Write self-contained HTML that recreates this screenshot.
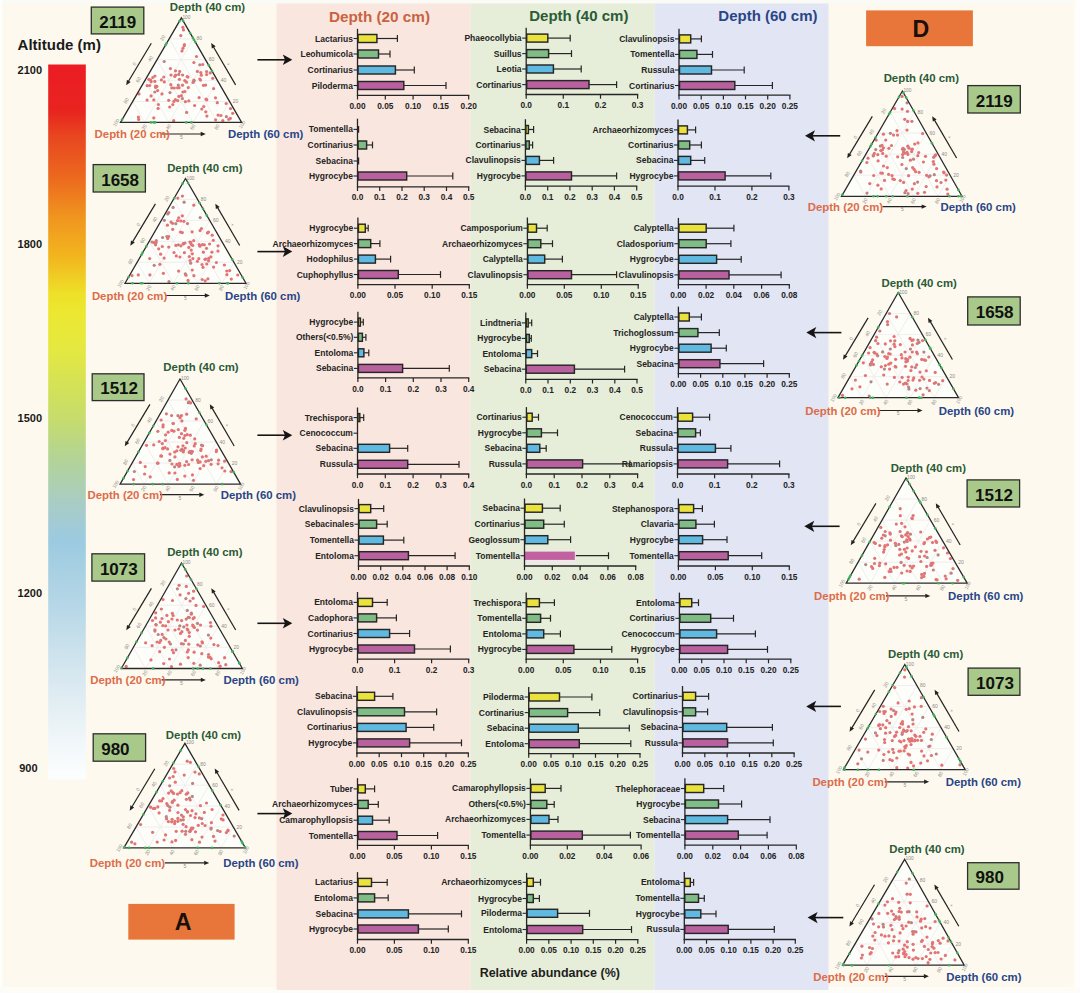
<!DOCTYPE html>
<html><head><meta charset="utf-8"><title>Figure</title>
<style>html,body{margin:0;padding:0;background:#fdf9ee;}svg{display:block;}</style>
</head><body>
<svg width="1080" height="993" viewBox="0 0 1080 993" font-family="'Liberation Sans', Arial, sans-serif" font-weight="bold">
<rect x="0" y="0" width="1080" height="993" fill="#fdf9ee"/>
<rect x="0" y="0" width="1080" height="3.5" fill="#fafaf7"/>
<defs><linearGradient id="re" x1="0" y1="0" x2="1" y2="0"><stop offset="0" stop-color="#fdf9ee" stop-opacity="0"/><stop offset="0.6" stop-color="#fefefa"/><stop offset="1" stop-color="#fefefd"/></linearGradient></defs>
<rect x="1070" y="0" width="10" height="993" fill="url(#re)"/>
<rect x="0" y="0" width="2.5" height="993" fill="#fefefa"/>
<rect x="0" y="987" width="1080" height="6" fill="#fefcf6"/>
<rect x="276.5" y="3.5" width="194" height="986.5" fill="#f9e7df"/>
<rect x="470.5" y="3.5" width="184" height="986.5" fill="#e6edd8"/>
<rect x="654.5" y="3.5" width="174" height="986.5" fill="#e2e5f3"/>
<defs><linearGradient id="cb" x1="0" y1="0" x2="0" y2="1"><stop offset="0" stop-color="#ec1c24"/><stop offset="0.065" stop-color="#e8241f"/><stop offset="0.1" stop-color="#e84620"/><stop offset="0.16" stop-color="#ec6a1e"/><stop offset="0.215" stop-color="#f0961f"/><stop offset="0.27" stop-color="#f2b61e"/><stop offset="0.32" stop-color="#eee028"/><stop offset="0.35" stop-color="#ece832"/><stop offset="0.398" stop-color="#e4e840"/><stop offset="0.496" stop-color="#c6dc6c"/><stop offset="0.548" stop-color="#b4d494"/><stop offset="0.618" stop-color="#a8ccc8"/><stop offset="0.665" stop-color="#9ccae0"/><stop offset="0.75" stop-color="#b4d6e6"/><stop offset="0.858" stop-color="#d8e8f0"/><stop offset="0.937" stop-color="#eef5f8"/><stop offset="0.99" stop-color="#fbfdfe"/><stop offset="1" stop-color="#fdfdfd"/></linearGradient></defs>
<rect x="48.2" y="64.5" width="37.6" height="715" fill="url(#cb)"/>
<g font-family="'Liberation Sans', Arial, sans-serif" font-weight="bold">
<text x="17.6" y="50.1" font-size="15" fill="#1a1a1a">Altitude (m)</text>
<text x="17.6" y="74.0" font-size="11" fill="#1a1a1a">2100</text>
<text x="17.6" y="247.5" font-size="11" fill="#1a1a1a">1800</text>
<text x="17.6" y="422.3" font-size="11" fill="#1a1a1a">1500</text>
<text x="17.6" y="597.2" font-size="11" fill="#1a1a1a">1200</text>
<text x="19.2" y="772.0" font-size="11" fill="#1a1a1a">900</text>
<text x="379.5" y="21.5" text-anchor="middle" font-size="15.3" fill="#c9623f">Depth (20 cm)</text>
<text x="578.8" y="21.2" text-anchor="middle" font-size="15" fill="#2b5b37">Depth (40 cm)</text>
<text x="767.9" y="21.2" text-anchor="middle" font-size="15" fill="#2a4587">Depth (60 cm)</text>
<line x1="376.9" y1="38.5" x2="397.4" y2="38.5" stroke="#262626" stroke-width="1.2"/>
<line x1="397.4" y1="35.1" x2="397.4" y2="41.9" stroke="#262626" stroke-width="1.2"/>
<rect x="358.0" y="34.5" width="18.9" height="8.0" fill="#ebe33d" stroke="#262626" stroke-width="1.45"/>
<line x1="353.5" y1="38.5" x2="357.5" y2="38.5" stroke="#262626" stroke-width="1.1"/>
<text x="352.9" y="41.5" text-anchor="end" font-size="8.5" fill="#242424">Lactarius</text>
<line x1="378.5" y1="54.0" x2="390.0" y2="54.0" stroke="#262626" stroke-width="1.2"/>
<line x1="390.0" y1="50.6" x2="390.0" y2="57.4" stroke="#262626" stroke-width="1.2"/>
<rect x="358.0" y="50.0" width="20.5" height="8.0" fill="#80bd86" stroke="#262626" stroke-width="1.45"/>
<line x1="353.5" y1="54.0" x2="357.5" y2="54.0" stroke="#262626" stroke-width="1.1"/>
<text x="352.9" y="57.0" text-anchor="end" font-size="8.5" fill="#242424">Leohumicola</text>
<line x1="395.4" y1="70.0" x2="414.3" y2="70.0" stroke="#262626" stroke-width="1.2"/>
<line x1="414.3" y1="66.6" x2="414.3" y2="73.4" stroke="#262626" stroke-width="1.2"/>
<rect x="358.0" y="66.0" width="37.4" height="8.0" fill="#5fb9e0" stroke="#262626" stroke-width="1.45"/>
<line x1="353.5" y1="70.0" x2="357.5" y2="70.0" stroke="#262626" stroke-width="1.1"/>
<text x="352.9" y="73.0" text-anchor="end" font-size="8.5" fill="#242424">Cortinarius</text>
<line x1="403.8" y1="85.5" x2="446.0" y2="85.5" stroke="#262626" stroke-width="1.2"/>
<line x1="446.0" y1="82.1" x2="446.0" y2="88.9" stroke="#262626" stroke-width="1.2"/>
<rect x="358.0" y="81.5" width="45.8" height="8.0" fill="#b9609f" stroke="#262626" stroke-width="1.45"/>
<line x1="353.5" y1="85.5" x2="357.5" y2="85.5" stroke="#262626" stroke-width="1.1"/>
<text x="352.9" y="88.5" text-anchor="end" font-size="8.5" fill="#242424">Piloderma</text>
<line x1="357.5" y1="28.8" x2="357.5" y2="95.9" stroke="#262626" stroke-width="1.3"/>
<line x1="356.9" y1="95.3" x2="469.3" y2="95.3" stroke="#262626" stroke-width="1.3"/>
<line x1="357.5" y1="95.3" x2="357.5" y2="99.5" stroke="#262626" stroke-width="1.2"/>
<text x="357.5" y="108.9" text-anchor="middle" font-size="8.3" fill="#242424">0.00</text>
<line x1="385.3" y1="95.3" x2="385.3" y2="99.5" stroke="#262626" stroke-width="1.2"/>
<text x="385.3" y="108.9" text-anchor="middle" font-size="8.3" fill="#242424">0.05</text>
<line x1="413.1" y1="95.3" x2="413.1" y2="99.5" stroke="#262626" stroke-width="1.2"/>
<text x="413.1" y="108.9" text-anchor="middle" font-size="8.3" fill="#242424">0.10</text>
<line x1="440.9" y1="95.3" x2="440.9" y2="99.5" stroke="#262626" stroke-width="1.2"/>
<text x="440.9" y="108.9" text-anchor="middle" font-size="8.3" fill="#242424">0.15</text>
<line x1="468.7" y1="95.3" x2="468.7" y2="99.5" stroke="#262626" stroke-width="1.2"/>
<text x="468.7" y="108.9" text-anchor="middle" font-size="8.3" fill="#242424">0.20</text>
<line x1="358.0" y1="129.4" x2="358.6" y2="129.4" stroke="#262626" stroke-width="1.2"/>
<line x1="358.6" y1="126.0" x2="358.6" y2="132.8" stroke="#262626" stroke-width="1.2"/>
<line x1="353.5" y1="129.4" x2="357.5" y2="129.4" stroke="#262626" stroke-width="1.1"/>
<text x="352.9" y="132.4" text-anchor="end" font-size="8.5" fill="#242424">Tomentella</text>
<line x1="366.6" y1="145.0" x2="372.5" y2="145.0" stroke="#262626" stroke-width="1.2"/>
<line x1="372.5" y1="141.6" x2="372.5" y2="148.4" stroke="#262626" stroke-width="1.2"/>
<rect x="358.0" y="141.0" width="8.6" height="8.0" fill="#80bd86" stroke="#262626" stroke-width="1.45"/>
<line x1="353.5" y1="145.0" x2="357.5" y2="145.0" stroke="#262626" stroke-width="1.1"/>
<text x="352.9" y="148.0" text-anchor="end" font-size="8.5" fill="#242424">Cortinarius</text>
<line x1="358.0" y1="161.0" x2="358.6" y2="161.0" stroke="#262626" stroke-width="1.2"/>
<line x1="358.6" y1="157.6" x2="358.6" y2="164.4" stroke="#262626" stroke-width="1.2"/>
<line x1="353.5" y1="161.0" x2="357.5" y2="161.0" stroke="#262626" stroke-width="1.1"/>
<text x="352.9" y="164.0" text-anchor="end" font-size="8.5" fill="#242424">Sebacina</text>
<line x1="406.7" y1="176.0" x2="452.8" y2="176.0" stroke="#262626" stroke-width="1.2"/>
<line x1="452.8" y1="172.6" x2="452.8" y2="179.4" stroke="#262626" stroke-width="1.2"/>
<rect x="358.0" y="172.0" width="48.7" height="8.0" fill="#b9609f" stroke="#262626" stroke-width="1.45"/>
<line x1="353.5" y1="176.0" x2="357.5" y2="176.0" stroke="#262626" stroke-width="1.1"/>
<text x="352.9" y="179.0" text-anchor="end" font-size="8.5" fill="#242424">Hygrocybe</text>
<line x1="357.5" y1="118.7" x2="357.5" y2="187.4" stroke="#262626" stroke-width="1.3"/>
<line x1="356.9" y1="186.8" x2="469.3" y2="186.8" stroke="#262626" stroke-width="1.3"/>
<line x1="357.5" y1="186.8" x2="357.5" y2="191.0" stroke="#262626" stroke-width="1.2"/>
<text x="357.5" y="200.4" text-anchor="middle" font-size="8.3" fill="#242424">0.0</text>
<line x1="379.7" y1="186.8" x2="379.7" y2="191.0" stroke="#262626" stroke-width="1.2"/>
<text x="379.7" y="200.4" text-anchor="middle" font-size="8.3" fill="#242424">0.1</text>
<line x1="402.0" y1="186.8" x2="402.0" y2="191.0" stroke="#262626" stroke-width="1.2"/>
<text x="402.0" y="200.4" text-anchor="middle" font-size="8.3" fill="#242424">0.2</text>
<line x1="424.2" y1="186.8" x2="424.2" y2="191.0" stroke="#262626" stroke-width="1.2"/>
<text x="424.2" y="200.4" text-anchor="middle" font-size="8.3" fill="#242424">0.3</text>
<line x1="446.5" y1="186.8" x2="446.5" y2="191.0" stroke="#262626" stroke-width="1.2"/>
<text x="446.5" y="200.4" text-anchor="middle" font-size="8.3" fill="#242424">0.4</text>
<line x1="468.7" y1="186.8" x2="468.7" y2="191.0" stroke="#262626" stroke-width="1.2"/>
<text x="468.7" y="200.4" text-anchor="middle" font-size="8.3" fill="#242424">0.5</text>
<line x1="365.3" y1="228.2" x2="368.2" y2="228.2" stroke="#262626" stroke-width="1.2"/>
<line x1="368.2" y1="224.8" x2="368.2" y2="231.6" stroke="#262626" stroke-width="1.2"/>
<rect x="358.4" y="224.2" width="6.9" height="8.0" fill="#ebe33d" stroke="#262626" stroke-width="1.45"/>
<line x1="353.9" y1="228.2" x2="357.9" y2="228.2" stroke="#262626" stroke-width="1.1"/>
<text x="353.3" y="231.2" text-anchor="end" font-size="8.5" fill="#242424">Hygrocybe</text>
<line x1="370.7" y1="243.6" x2="379.9" y2="243.6" stroke="#262626" stroke-width="1.2"/>
<line x1="379.9" y1="240.2" x2="379.9" y2="247.0" stroke="#262626" stroke-width="1.2"/>
<rect x="358.4" y="239.6" width="12.3" height="8.0" fill="#80bd86" stroke="#262626" stroke-width="1.45"/>
<line x1="353.9" y1="243.6" x2="357.9" y2="243.6" stroke="#262626" stroke-width="1.1"/>
<text x="353.3" y="246.6" text-anchor="end" font-size="8.5" fill="#242424">Archaeorhizomyces</text>
<line x1="375.4" y1="259.1" x2="390.6" y2="259.1" stroke="#262626" stroke-width="1.2"/>
<line x1="390.6" y1="255.7" x2="390.6" y2="262.5" stroke="#262626" stroke-width="1.2"/>
<rect x="358.4" y="255.1" width="17.0" height="8.0" fill="#5fb9e0" stroke="#262626" stroke-width="1.45"/>
<line x1="353.9" y1="259.1" x2="357.9" y2="259.1" stroke="#262626" stroke-width="1.1"/>
<text x="353.3" y="262.1" text-anchor="end" font-size="8.5" fill="#242424">Hodophilus</text>
<line x1="398.3" y1="274.5" x2="440.5" y2="274.5" stroke="#262626" stroke-width="1.2"/>
<line x1="440.5" y1="271.1" x2="440.5" y2="277.9" stroke="#262626" stroke-width="1.2"/>
<rect x="358.4" y="270.5" width="39.9" height="8.0" fill="#b9609f" stroke="#262626" stroke-width="1.45"/>
<line x1="353.9" y1="274.5" x2="357.9" y2="274.5" stroke="#262626" stroke-width="1.1"/>
<text x="353.3" y="277.5" text-anchor="end" font-size="8.5" fill="#242424">Cuphophyllus</text>
<line x1="357.9" y1="217.5" x2="357.9" y2="285.2" stroke="#262626" stroke-width="1.3"/>
<line x1="357.3" y1="284.6" x2="469.9" y2="284.6" stroke="#262626" stroke-width="1.3"/>
<line x1="357.9" y1="284.6" x2="357.9" y2="288.8" stroke="#262626" stroke-width="1.2"/>
<text x="357.9" y="298.2" text-anchor="middle" font-size="8.3" fill="#242424">0.00</text>
<line x1="395.0" y1="284.6" x2="395.0" y2="288.8" stroke="#262626" stroke-width="1.2"/>
<text x="395.0" y="298.2" text-anchor="middle" font-size="8.3" fill="#242424">0.05</text>
<line x1="432.2" y1="284.6" x2="432.2" y2="288.8" stroke="#262626" stroke-width="1.2"/>
<text x="432.2" y="298.2" text-anchor="middle" font-size="8.3" fill="#242424">0.10</text>
<line x1="469.3" y1="284.6" x2="469.3" y2="288.8" stroke="#262626" stroke-width="1.2"/>
<text x="469.3" y="298.2" text-anchor="middle" font-size="8.3" fill="#242424">0.15</text>
<line x1="360.4" y1="322.1" x2="363.3" y2="322.1" stroke="#262626" stroke-width="1.2"/>
<line x1="363.3" y1="318.7" x2="363.3" y2="325.5" stroke="#262626" stroke-width="1.2"/>
<rect x="358.4" y="318.1" width="2.0" height="8.0" fill="#ebe33d" stroke="#262626" stroke-width="1.45"/>
<line x1="353.9" y1="322.1" x2="357.9" y2="322.1" stroke="#262626" stroke-width="1.1"/>
<text x="353.3" y="325.1" text-anchor="end" font-size="8.5" fill="#242424">Hygrocybe</text>
<line x1="362.4" y1="337.3" x2="365.9" y2="337.3" stroke="#262626" stroke-width="1.2"/>
<line x1="365.9" y1="333.9" x2="365.9" y2="340.7" stroke="#262626" stroke-width="1.2"/>
<rect x="358.4" y="333.3" width="4.0" height="8.0" fill="#80bd86" stroke="#262626" stroke-width="1.45"/>
<line x1="353.9" y1="337.3" x2="357.9" y2="337.3" stroke="#262626" stroke-width="1.1"/>
<text x="353.3" y="340.3" text-anchor="end" font-size="8.5" fill="#242424">Others(&lt;0.5%)</text>
<line x1="363.9" y1="352.8" x2="368.8" y2="352.8" stroke="#262626" stroke-width="1.2"/>
<line x1="368.8" y1="349.4" x2="368.8" y2="356.2" stroke="#262626" stroke-width="1.2"/>
<rect x="358.4" y="348.8" width="5.5" height="8.0" fill="#5fb9e0" stroke="#262626" stroke-width="1.45"/>
<line x1="353.9" y1="352.8" x2="357.9" y2="352.8" stroke="#262626" stroke-width="1.1"/>
<text x="353.3" y="355.8" text-anchor="end" font-size="8.5" fill="#242424">Entoloma</text>
<line x1="402.6" y1="368.4" x2="449.3" y2="368.4" stroke="#262626" stroke-width="1.2"/>
<line x1="449.3" y1="365.0" x2="449.3" y2="371.8" stroke="#262626" stroke-width="1.2"/>
<rect x="358.4" y="364.4" width="44.2" height="8.0" fill="#b9609f" stroke="#262626" stroke-width="1.45"/>
<line x1="353.9" y1="368.4" x2="357.9" y2="368.4" stroke="#262626" stroke-width="1.1"/>
<text x="353.3" y="371.4" text-anchor="end" font-size="8.5" fill="#242424">Sebacina</text>
<line x1="357.9" y1="311.8" x2="357.9" y2="378.5" stroke="#262626" stroke-width="1.3"/>
<line x1="357.3" y1="377.9" x2="469.3" y2="377.9" stroke="#262626" stroke-width="1.3"/>
<line x1="357.9" y1="377.9" x2="357.9" y2="382.1" stroke="#262626" stroke-width="1.2"/>
<text x="357.9" y="391.5" text-anchor="middle" font-size="8.3" fill="#242424">0.0</text>
<line x1="385.6" y1="377.9" x2="385.6" y2="382.1" stroke="#262626" stroke-width="1.2"/>
<text x="385.6" y="391.5" text-anchor="middle" font-size="8.3" fill="#242424">0.1</text>
<line x1="413.3" y1="377.9" x2="413.3" y2="382.1" stroke="#262626" stroke-width="1.2"/>
<text x="413.3" y="391.5" text-anchor="middle" font-size="8.3" fill="#242424">0.2</text>
<line x1="441.0" y1="377.9" x2="441.0" y2="382.1" stroke="#262626" stroke-width="1.2"/>
<text x="441.0" y="391.5" text-anchor="middle" font-size="8.3" fill="#242424">0.3</text>
<line x1="468.7" y1="377.9" x2="468.7" y2="382.1" stroke="#262626" stroke-width="1.2"/>
<text x="468.7" y="391.5" text-anchor="middle" font-size="8.3" fill="#242424">0.4</text>
<line x1="359.8" y1="417.6" x2="363.7" y2="417.6" stroke="#262626" stroke-width="1.2"/>
<line x1="363.7" y1="414.2" x2="363.7" y2="421.0" stroke="#262626" stroke-width="1.2"/>
<rect x="358.0" y="413.6" width="1.8" height="8.0" fill="#ebe33d" stroke="#262626" stroke-width="1.45"/>
<line x1="353.5" y1="417.6" x2="357.5" y2="417.6" stroke="#262626" stroke-width="1.1"/>
<text x="352.9" y="420.6" text-anchor="end" font-size="8.5" fill="#242424">Trechispora</text>
<line x1="353.5" y1="433.2" x2="357.5" y2="433.2" stroke="#262626" stroke-width="1.1"/>
<text x="352.9" y="436.2" text-anchor="end" font-size="8.5" fill="#242424">Cenococcum</text>
<line x1="389.6" y1="448.3" x2="407.7" y2="448.3" stroke="#262626" stroke-width="1.2"/>
<line x1="407.7" y1="444.9" x2="407.7" y2="451.7" stroke="#262626" stroke-width="1.2"/>
<rect x="358.0" y="444.3" width="31.6" height="8.0" fill="#5fb9e0" stroke="#262626" stroke-width="1.45"/>
<line x1="353.5" y1="448.3" x2="357.5" y2="448.3" stroke="#262626" stroke-width="1.1"/>
<text x="352.9" y="451.3" text-anchor="end" font-size="8.5" fill="#242424">Sebacina</text>
<line x1="407.7" y1="464.3" x2="459.0" y2="464.3" stroke="#262626" stroke-width="1.2"/>
<line x1="459.0" y1="460.9" x2="459.0" y2="467.7" stroke="#262626" stroke-width="1.2"/>
<rect x="358.0" y="460.3" width="49.7" height="8.0" fill="#b9609f" stroke="#262626" stroke-width="1.45"/>
<line x1="353.5" y1="464.3" x2="357.5" y2="464.3" stroke="#262626" stroke-width="1.1"/>
<text x="352.9" y="467.3" text-anchor="end" font-size="8.5" fill="#242424">Russula</text>
<line x1="357.5" y1="407.5" x2="357.5" y2="474.6" stroke="#262626" stroke-width="1.3"/>
<line x1="356.9" y1="474.0" x2="469.3" y2="474.0" stroke="#262626" stroke-width="1.3"/>
<line x1="357.5" y1="474.0" x2="357.5" y2="478.2" stroke="#262626" stroke-width="1.2"/>
<text x="357.5" y="487.6" text-anchor="middle" font-size="8.3" fill="#242424">0.0</text>
<line x1="385.3" y1="474.0" x2="385.3" y2="478.2" stroke="#262626" stroke-width="1.2"/>
<text x="385.3" y="487.6" text-anchor="middle" font-size="8.3" fill="#242424">0.1</text>
<line x1="413.1" y1="474.0" x2="413.1" y2="478.2" stroke="#262626" stroke-width="1.2"/>
<text x="413.1" y="487.6" text-anchor="middle" font-size="8.3" fill="#242424">0.2</text>
<line x1="440.9" y1="474.0" x2="440.9" y2="478.2" stroke="#262626" stroke-width="1.2"/>
<text x="440.9" y="487.6" text-anchor="middle" font-size="8.3" fill="#242424">0.3</text>
<line x1="468.7" y1="474.0" x2="468.7" y2="478.2" stroke="#262626" stroke-width="1.2"/>
<text x="468.7" y="487.6" text-anchor="middle" font-size="8.3" fill="#242424">0.4</text>
<line x1="370.7" y1="508.6" x2="383.7" y2="508.6" stroke="#262626" stroke-width="1.2"/>
<line x1="383.7" y1="505.2" x2="383.7" y2="512.0" stroke="#262626" stroke-width="1.2"/>
<rect x="359.0" y="504.6" width="11.7" height="8.0" fill="#ebe33d" stroke="#262626" stroke-width="1.45"/>
<line x1="354.5" y1="508.6" x2="358.5" y2="508.6" stroke="#262626" stroke-width="1.1"/>
<text x="353.9" y="511.6" text-anchor="end" font-size="8.5" fill="#242424">Clavulinopsis</text>
<line x1="376.6" y1="524.2" x2="387.2" y2="524.2" stroke="#262626" stroke-width="1.2"/>
<line x1="387.2" y1="520.8" x2="387.2" y2="527.6" stroke="#262626" stroke-width="1.2"/>
<rect x="359.0" y="520.2" width="17.6" height="8.0" fill="#80bd86" stroke="#262626" stroke-width="1.45"/>
<line x1="354.5" y1="524.2" x2="358.5" y2="524.2" stroke="#262626" stroke-width="1.1"/>
<text x="353.9" y="527.2" text-anchor="end" font-size="8.5" fill="#242424">Sebacinales</text>
<line x1="383.4" y1="540.1" x2="403.8" y2="540.1" stroke="#262626" stroke-width="1.2"/>
<line x1="403.8" y1="536.7" x2="403.8" y2="543.5" stroke="#262626" stroke-width="1.2"/>
<rect x="359.0" y="536.1" width="24.4" height="8.0" fill="#5fb9e0" stroke="#262626" stroke-width="1.45"/>
<line x1="354.5" y1="540.1" x2="358.5" y2="540.1" stroke="#262626" stroke-width="1.1"/>
<text x="353.9" y="543.1" text-anchor="end" font-size="8.5" fill="#242424">Tomentella</text>
<line x1="408.4" y1="555.7" x2="455.1" y2="555.7" stroke="#262626" stroke-width="1.2"/>
<line x1="455.1" y1="552.3" x2="455.1" y2="559.1" stroke="#262626" stroke-width="1.2"/>
<rect x="359.0" y="551.7" width="49.4" height="8.0" fill="#b9609f" stroke="#262626" stroke-width="1.45"/>
<line x1="354.5" y1="555.7" x2="358.5" y2="555.7" stroke="#262626" stroke-width="1.1"/>
<text x="353.9" y="558.7" text-anchor="end" font-size="8.5" fill="#242424">Entoloma</text>
<line x1="358.5" y1="498.9" x2="358.5" y2="566.6" stroke="#262626" stroke-width="1.3"/>
<line x1="357.9" y1="566.0" x2="469.9" y2="566.0" stroke="#262626" stroke-width="1.3"/>
<line x1="358.5" y1="566.0" x2="358.5" y2="570.2" stroke="#262626" stroke-width="1.2"/>
<text x="358.5" y="579.6" text-anchor="middle" font-size="8.3" fill="#242424">0.00</text>
<line x1="380.7" y1="566.0" x2="380.7" y2="570.2" stroke="#262626" stroke-width="1.2"/>
<text x="380.7" y="579.6" text-anchor="middle" font-size="8.3" fill="#242424">0.02</text>
<line x1="402.8" y1="566.0" x2="402.8" y2="570.2" stroke="#262626" stroke-width="1.2"/>
<text x="402.8" y="579.6" text-anchor="middle" font-size="8.3" fill="#242424">0.04</text>
<line x1="425.0" y1="566.0" x2="425.0" y2="570.2" stroke="#262626" stroke-width="1.2"/>
<text x="425.0" y="579.6" text-anchor="middle" font-size="8.3" fill="#242424">0.06</text>
<line x1="447.1" y1="566.0" x2="447.1" y2="570.2" stroke="#262626" stroke-width="1.2"/>
<text x="447.1" y="579.6" text-anchor="middle" font-size="8.3" fill="#242424">0.08</text>
<line x1="469.3" y1="566.0" x2="469.3" y2="570.2" stroke="#262626" stroke-width="1.2"/>
<text x="469.3" y="579.6" text-anchor="middle" font-size="8.3" fill="#242424">0.10</text>
<line x1="372.5" y1="602.4" x2="387.2" y2="602.4" stroke="#262626" stroke-width="1.2"/>
<line x1="387.2" y1="599.0" x2="387.2" y2="605.8" stroke="#262626" stroke-width="1.2"/>
<rect x="358.0" y="598.4" width="14.5" height="8.0" fill="#ebe33d" stroke="#262626" stroke-width="1.45"/>
<line x1="353.5" y1="602.4" x2="357.5" y2="602.4" stroke="#262626" stroke-width="1.1"/>
<text x="352.9" y="605.4" text-anchor="end" font-size="8.5" fill="#242424">Entoloma</text>
<line x1="376.6" y1="617.9" x2="396.4" y2="617.9" stroke="#262626" stroke-width="1.2"/>
<line x1="396.4" y1="614.5" x2="396.4" y2="621.3" stroke="#262626" stroke-width="1.2"/>
<rect x="358.0" y="613.9" width="18.6" height="8.0" fill="#80bd86" stroke="#262626" stroke-width="1.45"/>
<line x1="353.5" y1="617.9" x2="357.5" y2="617.9" stroke="#262626" stroke-width="1.1"/>
<text x="352.9" y="620.9" text-anchor="end" font-size="8.5" fill="#242424">Cadophora</text>
<line x1="389.6" y1="633.5" x2="409.6" y2="633.5" stroke="#262626" stroke-width="1.2"/>
<line x1="409.6" y1="630.1" x2="409.6" y2="636.9" stroke="#262626" stroke-width="1.2"/>
<rect x="358.0" y="629.5" width="31.6" height="8.0" fill="#5fb9e0" stroke="#262626" stroke-width="1.45"/>
<line x1="353.5" y1="633.5" x2="357.5" y2="633.5" stroke="#262626" stroke-width="1.1"/>
<text x="352.9" y="636.5" text-anchor="end" font-size="8.5" fill="#242424">Cortinarius</text>
<line x1="414.5" y1="649.0" x2="450.4" y2="649.0" stroke="#262626" stroke-width="1.2"/>
<line x1="450.4" y1="645.6" x2="450.4" y2="652.4" stroke="#262626" stroke-width="1.2"/>
<rect x="358.0" y="645.0" width="56.5" height="8.0" fill="#b9609f" stroke="#262626" stroke-width="1.45"/>
<line x1="353.5" y1="649.0" x2="357.5" y2="649.0" stroke="#262626" stroke-width="1.1"/>
<text x="352.9" y="652.0" text-anchor="end" font-size="8.5" fill="#242424">Hygrocybe</text>
<line x1="357.5" y1="592.0" x2="357.5" y2="659.7" stroke="#262626" stroke-width="1.3"/>
<line x1="356.9" y1="659.1" x2="469.3" y2="659.1" stroke="#262626" stroke-width="1.3"/>
<line x1="357.5" y1="659.1" x2="357.5" y2="663.3" stroke="#262626" stroke-width="1.2"/>
<text x="357.5" y="672.7" text-anchor="middle" font-size="8.3" fill="#242424">0.0</text>
<line x1="394.6" y1="659.1" x2="394.6" y2="663.3" stroke="#262626" stroke-width="1.2"/>
<text x="394.6" y="672.7" text-anchor="middle" font-size="8.3" fill="#242424">0.1</text>
<line x1="431.6" y1="659.1" x2="431.6" y2="663.3" stroke="#262626" stroke-width="1.2"/>
<text x="431.6" y="672.7" text-anchor="middle" font-size="8.3" fill="#242424">0.2</text>
<line x1="468.7" y1="659.1" x2="468.7" y2="663.3" stroke="#262626" stroke-width="1.2"/>
<text x="468.7" y="672.7" text-anchor="middle" font-size="8.3" fill="#242424">0.3</text>
<line x1="374.6" y1="696.3" x2="392.9" y2="696.3" stroke="#262626" stroke-width="1.2"/>
<line x1="392.9" y1="692.9" x2="392.9" y2="699.7" stroke="#262626" stroke-width="1.2"/>
<rect x="357.4" y="692.3" width="17.2" height="8.0" fill="#ebe33d" stroke="#262626" stroke-width="1.45"/>
<line x1="352.9" y1="696.3" x2="356.9" y2="696.3" stroke="#262626" stroke-width="1.1"/>
<text x="352.3" y="699.3" text-anchor="end" font-size="8.5" fill="#242424">Sebacina</text>
<line x1="404.5" y1="711.8" x2="436.6" y2="711.8" stroke="#262626" stroke-width="1.2"/>
<line x1="436.6" y1="708.4" x2="436.6" y2="715.2" stroke="#262626" stroke-width="1.2"/>
<rect x="357.4" y="707.8" width="47.1" height="8.0" fill="#80bd86" stroke="#262626" stroke-width="1.45"/>
<line x1="352.9" y1="711.8" x2="356.9" y2="711.8" stroke="#262626" stroke-width="1.1"/>
<text x="352.3" y="714.8" text-anchor="end" font-size="8.5" fill="#242424">Clavulinopsis</text>
<line x1="406.1" y1="727.4" x2="433.7" y2="727.4" stroke="#262626" stroke-width="1.2"/>
<line x1="433.7" y1="724.0" x2="433.7" y2="730.8" stroke="#262626" stroke-width="1.2"/>
<rect x="357.4" y="723.4" width="48.7" height="8.0" fill="#5fb9e0" stroke="#262626" stroke-width="1.45"/>
<line x1="352.9" y1="727.4" x2="356.9" y2="727.4" stroke="#262626" stroke-width="1.1"/>
<text x="352.3" y="730.4" text-anchor="end" font-size="8.5" fill="#242424">Cortinarius</text>
<line x1="409.6" y1="742.9" x2="461.5" y2="742.9" stroke="#262626" stroke-width="1.2"/>
<line x1="461.5" y1="739.5" x2="461.5" y2="746.3" stroke="#262626" stroke-width="1.2"/>
<rect x="357.4" y="738.9" width="52.2" height="8.0" fill="#b9609f" stroke="#262626" stroke-width="1.45"/>
<line x1="352.9" y1="742.9" x2="356.9" y2="742.9" stroke="#262626" stroke-width="1.1"/>
<text x="352.3" y="745.9" text-anchor="end" font-size="8.5" fill="#242424">Hygrocybe</text>
<line x1="356.9" y1="686.0" x2="356.9" y2="753.6" stroke="#262626" stroke-width="1.3"/>
<line x1="356.3" y1="753.0" x2="468.9" y2="753.0" stroke="#262626" stroke-width="1.3"/>
<line x1="356.9" y1="753.0" x2="356.9" y2="757.2" stroke="#262626" stroke-width="1.2"/>
<text x="356.9" y="766.6" text-anchor="middle" font-size="8.3" fill="#242424">0.00</text>
<line x1="379.2" y1="753.0" x2="379.2" y2="757.2" stroke="#262626" stroke-width="1.2"/>
<text x="379.2" y="766.6" text-anchor="middle" font-size="8.3" fill="#242424">0.05</text>
<line x1="401.5" y1="753.0" x2="401.5" y2="757.2" stroke="#262626" stroke-width="1.2"/>
<text x="401.5" y="766.6" text-anchor="middle" font-size="8.3" fill="#242424">0.10</text>
<line x1="423.7" y1="753.0" x2="423.7" y2="757.2" stroke="#262626" stroke-width="1.2"/>
<text x="423.7" y="766.6" text-anchor="middle" font-size="8.3" fill="#242424">0.15</text>
<line x1="446.0" y1="753.0" x2="446.0" y2="757.2" stroke="#262626" stroke-width="1.2"/>
<text x="446.0" y="766.6" text-anchor="middle" font-size="8.3" fill="#242424">0.20</text>
<line x1="468.3" y1="753.0" x2="468.3" y2="757.2" stroke="#262626" stroke-width="1.2"/>
<text x="468.3" y="766.6" text-anchor="middle" font-size="8.3" fill="#242424">0.25</text>
<line x1="365.3" y1="788.9" x2="374.6" y2="788.9" stroke="#262626" stroke-width="1.2"/>
<line x1="374.6" y1="785.5" x2="374.6" y2="792.3" stroke="#262626" stroke-width="1.2"/>
<rect x="358.0" y="784.9" width="7.3" height="8.0" fill="#ebe33d" stroke="#262626" stroke-width="1.45"/>
<line x1="353.5" y1="788.9" x2="357.5" y2="788.9" stroke="#262626" stroke-width="1.1"/>
<text x="352.9" y="791.9" text-anchor="end" font-size="8.5" fill="#242424">Tuber</text>
<line x1="368.2" y1="804.4" x2="378.3" y2="804.4" stroke="#262626" stroke-width="1.2"/>
<line x1="378.3" y1="801.0" x2="378.3" y2="807.8" stroke="#262626" stroke-width="1.2"/>
<rect x="358.0" y="800.4" width="10.2" height="8.0" fill="#80bd86" stroke="#262626" stroke-width="1.45"/>
<line x1="353.5" y1="804.4" x2="357.5" y2="804.4" stroke="#262626" stroke-width="1.1"/>
<text x="352.9" y="807.4" text-anchor="end" font-size="8.5" fill="#242424">Archaeorhizomyces</text>
<line x1="372.5" y1="820.2" x2="389.2" y2="820.2" stroke="#262626" stroke-width="1.2"/>
<line x1="389.2" y1="816.8" x2="389.2" y2="823.6" stroke="#262626" stroke-width="1.2"/>
<rect x="358.0" y="816.2" width="14.5" height="8.0" fill="#5fb9e0" stroke="#262626" stroke-width="1.45"/>
<line x1="353.5" y1="820.2" x2="357.5" y2="820.2" stroke="#262626" stroke-width="1.1"/>
<text x="352.9" y="823.2" text-anchor="end" font-size="8.5" fill="#242424">Camarophyllopsis</text>
<line x1="397.0" y1="835.5" x2="437.6" y2="835.5" stroke="#262626" stroke-width="1.2"/>
<line x1="437.6" y1="832.1" x2="437.6" y2="838.9" stroke="#262626" stroke-width="1.2"/>
<rect x="358.0" y="831.5" width="39.0" height="8.0" fill="#b9609f" stroke="#262626" stroke-width="1.45"/>
<line x1="353.5" y1="835.5" x2="357.5" y2="835.5" stroke="#262626" stroke-width="1.1"/>
<text x="352.9" y="838.5" text-anchor="end" font-size="8.5" fill="#242424">Tomentella</text>
<line x1="357.5" y1="778.2" x2="357.5" y2="846.0" stroke="#262626" stroke-width="1.3"/>
<line x1="356.9" y1="845.4" x2="468.9" y2="845.4" stroke="#262626" stroke-width="1.3"/>
<line x1="357.5" y1="845.4" x2="357.5" y2="849.6" stroke="#262626" stroke-width="1.2"/>
<text x="357.5" y="859.0" text-anchor="middle" font-size="8.3" fill="#242424">0.00</text>
<line x1="394.4" y1="845.4" x2="394.4" y2="849.6" stroke="#262626" stroke-width="1.2"/>
<text x="394.4" y="859.0" text-anchor="middle" font-size="8.3" fill="#242424">0.05</text>
<line x1="431.4" y1="845.4" x2="431.4" y2="849.6" stroke="#262626" stroke-width="1.2"/>
<text x="431.4" y="859.0" text-anchor="middle" font-size="8.3" fill="#242424">0.10</text>
<line x1="468.3" y1="845.4" x2="468.3" y2="849.6" stroke="#262626" stroke-width="1.2"/>
<text x="468.3" y="859.0" text-anchor="middle" font-size="8.3" fill="#242424">0.15</text>
<line x1="371.5" y1="882.4" x2="387.2" y2="882.4" stroke="#262626" stroke-width="1.2"/>
<line x1="387.2" y1="879.0" x2="387.2" y2="885.8" stroke="#262626" stroke-width="1.2"/>
<rect x="358.0" y="878.4" width="13.5" height="8.0" fill="#ebe33d" stroke="#262626" stroke-width="1.45"/>
<line x1="353.5" y1="882.4" x2="357.5" y2="882.4" stroke="#262626" stroke-width="1.1"/>
<text x="352.9" y="885.4" text-anchor="end" font-size="8.5" fill="#242424">Lactarius</text>
<line x1="374.6" y1="897.9" x2="388.2" y2="897.9" stroke="#262626" stroke-width="1.2"/>
<line x1="388.2" y1="894.5" x2="388.2" y2="901.3" stroke="#262626" stroke-width="1.2"/>
<rect x="358.0" y="893.9" width="16.6" height="8.0" fill="#80bd86" stroke="#262626" stroke-width="1.45"/>
<line x1="353.5" y1="897.9" x2="357.5" y2="897.9" stroke="#262626" stroke-width="1.1"/>
<text x="352.9" y="900.9" text-anchor="end" font-size="8.5" fill="#242424">Entoloma</text>
<line x1="408.4" y1="913.9" x2="461.5" y2="913.9" stroke="#262626" stroke-width="1.2"/>
<line x1="461.5" y1="910.5" x2="461.5" y2="917.3" stroke="#262626" stroke-width="1.2"/>
<rect x="358.0" y="909.9" width="50.4" height="8.0" fill="#5fb9e0" stroke="#262626" stroke-width="1.45"/>
<line x1="353.5" y1="913.9" x2="357.5" y2="913.9" stroke="#262626" stroke-width="1.1"/>
<text x="352.9" y="916.9" text-anchor="end" font-size="8.5" fill="#242424">Sebacina</text>
<line x1="418.4" y1="929.0" x2="448.3" y2="929.0" stroke="#262626" stroke-width="1.2"/>
<line x1="448.3" y1="925.6" x2="448.3" y2="932.4" stroke="#262626" stroke-width="1.2"/>
<rect x="358.0" y="925.0" width="60.4" height="8.0" fill="#b9609f" stroke="#262626" stroke-width="1.45"/>
<line x1="353.5" y1="929.0" x2="357.5" y2="929.0" stroke="#262626" stroke-width="1.1"/>
<text x="352.9" y="932.0" text-anchor="end" font-size="8.5" fill="#242424">Hygrocybe</text>
<line x1="357.5" y1="872.1" x2="357.5" y2="940.1" stroke="#262626" stroke-width="1.3"/>
<line x1="356.9" y1="939.5" x2="468.9" y2="939.5" stroke="#262626" stroke-width="1.3"/>
<line x1="357.5" y1="939.5" x2="357.5" y2="943.7" stroke="#262626" stroke-width="1.2"/>
<text x="357.5" y="953.1" text-anchor="middle" font-size="8.3" fill="#242424">0.00</text>
<line x1="394.4" y1="939.5" x2="394.4" y2="943.7" stroke="#262626" stroke-width="1.2"/>
<text x="394.4" y="953.1" text-anchor="middle" font-size="8.3" fill="#242424">0.05</text>
<line x1="431.4" y1="939.5" x2="431.4" y2="943.7" stroke="#262626" stroke-width="1.2"/>
<text x="431.4" y="953.1" text-anchor="middle" font-size="8.3" fill="#242424">0.10</text>
<line x1="468.3" y1="939.5" x2="468.3" y2="943.7" stroke="#262626" stroke-width="1.2"/>
<text x="468.3" y="953.1" text-anchor="middle" font-size="8.3" fill="#242424">0.15</text>
<line x1="547.8" y1="38.1" x2="570.2" y2="38.1" stroke="#262626" stroke-width="1.2"/>
<line x1="570.2" y1="34.7" x2="570.2" y2="41.5" stroke="#262626" stroke-width="1.2"/>
<rect x="526.7" y="34.1" width="21.1" height="8.0" fill="#ebe33d" stroke="#262626" stroke-width="1.45"/>
<line x1="522.2" y1="38.1" x2="526.2" y2="38.1" stroke="#262626" stroke-width="1.1"/>
<text x="521.6" y="41.1" text-anchor="end" font-size="8.5" fill="#242424">Phaeocollybia</text>
<line x1="548.6" y1="53.6" x2="571.5" y2="53.6" stroke="#262626" stroke-width="1.2"/>
<line x1="571.5" y1="50.2" x2="571.5" y2="57.0" stroke="#262626" stroke-width="1.2"/>
<rect x="526.7" y="49.6" width="21.9" height="8.0" fill="#80bd86" stroke="#262626" stroke-width="1.45"/>
<line x1="522.2" y1="53.6" x2="526.2" y2="53.6" stroke="#262626" stroke-width="1.1"/>
<text x="521.6" y="56.6" text-anchor="end" font-size="8.5" fill="#242424">Suillus</text>
<line x1="553.4" y1="69.0" x2="581.2" y2="69.0" stroke="#262626" stroke-width="1.2"/>
<line x1="581.2" y1="65.6" x2="581.2" y2="72.4" stroke="#262626" stroke-width="1.2"/>
<rect x="526.7" y="65.0" width="26.7" height="8.0" fill="#5fb9e0" stroke="#262626" stroke-width="1.45"/>
<line x1="522.2" y1="69.0" x2="526.2" y2="69.0" stroke="#262626" stroke-width="1.1"/>
<text x="521.6" y="72.0" text-anchor="end" font-size="8.5" fill="#242424">Leotia</text>
<line x1="589.0" y1="84.6" x2="616.6" y2="84.6" stroke="#262626" stroke-width="1.2"/>
<line x1="616.6" y1="81.2" x2="616.6" y2="88.0" stroke="#262626" stroke-width="1.2"/>
<rect x="526.7" y="80.6" width="62.3" height="8.0" fill="#b9609f" stroke="#262626" stroke-width="1.45"/>
<line x1="522.2" y1="84.6" x2="526.2" y2="84.6" stroke="#262626" stroke-width="1.1"/>
<text x="521.6" y="87.6" text-anchor="end" font-size="8.5" fill="#242424">Cortinarius</text>
<line x1="526.2" y1="27.8" x2="526.2" y2="95.1" stroke="#262626" stroke-width="1.3"/>
<line x1="525.6" y1="94.5" x2="638.2" y2="94.5" stroke="#262626" stroke-width="1.3"/>
<line x1="526.2" y1="94.5" x2="526.2" y2="98.7" stroke="#262626" stroke-width="1.2"/>
<text x="526.2" y="108.1" text-anchor="middle" font-size="8.3" fill="#242424">0.0</text>
<line x1="563.3" y1="94.5" x2="563.3" y2="98.7" stroke="#262626" stroke-width="1.2"/>
<text x="563.3" y="108.1" text-anchor="middle" font-size="8.3" fill="#242424">0.1</text>
<line x1="600.5" y1="94.5" x2="600.5" y2="98.7" stroke="#262626" stroke-width="1.2"/>
<text x="600.5" y="108.1" text-anchor="middle" font-size="8.3" fill="#242424">0.2</text>
<line x1="637.6" y1="94.5" x2="637.6" y2="98.7" stroke="#262626" stroke-width="1.2"/>
<text x="637.6" y="108.1" text-anchor="middle" font-size="8.3" fill="#242424">0.3</text>
<line x1="528.4" y1="129.5" x2="533.6" y2="129.5" stroke="#262626" stroke-width="1.2"/>
<line x1="533.6" y1="126.1" x2="533.6" y2="132.9" stroke="#262626" stroke-width="1.2"/>
<rect x="525.9" y="125.5" width="2.5" height="8.0" fill="#ebe33d" stroke="#262626" stroke-width="1.45"/>
<line x1="521.4" y1="129.5" x2="525.4" y2="129.5" stroke="#262626" stroke-width="1.1"/>
<text x="520.8" y="132.5" text-anchor="end" font-size="8.5" fill="#242424">Sebacina</text>
<line x1="529.3" y1="145.0" x2="532.6" y2="145.0" stroke="#262626" stroke-width="1.2"/>
<line x1="532.6" y1="141.6" x2="532.6" y2="148.4" stroke="#262626" stroke-width="1.2"/>
<rect x="525.9" y="141.0" width="3.4" height="8.0" fill="#80bd86" stroke="#262626" stroke-width="1.45"/>
<line x1="521.4" y1="145.0" x2="525.4" y2="145.0" stroke="#262626" stroke-width="1.1"/>
<text x="520.8" y="148.0" text-anchor="end" font-size="8.5" fill="#242424">Cortinarius</text>
<line x1="539.4" y1="160.4" x2="553.6" y2="160.4" stroke="#262626" stroke-width="1.2"/>
<line x1="553.6" y1="157.0" x2="553.6" y2="163.8" stroke="#262626" stroke-width="1.2"/>
<rect x="525.9" y="156.4" width="13.5" height="8.0" fill="#5fb9e0" stroke="#262626" stroke-width="1.45"/>
<line x1="521.4" y1="160.4" x2="525.4" y2="160.4" stroke="#262626" stroke-width="1.1"/>
<text x="520.8" y="163.4" text-anchor="end" font-size="8.5" fill="#242424">Clavulinopsis</text>
<line x1="571.5" y1="175.9" x2="616.6" y2="175.9" stroke="#262626" stroke-width="1.2"/>
<line x1="616.6" y1="172.5" x2="616.6" y2="179.3" stroke="#262626" stroke-width="1.2"/>
<rect x="525.9" y="171.9" width="45.6" height="8.0" fill="#b9609f" stroke="#262626" stroke-width="1.45"/>
<line x1="521.4" y1="175.9" x2="525.4" y2="175.9" stroke="#262626" stroke-width="1.1"/>
<text x="520.8" y="178.9" text-anchor="end" font-size="8.5" fill="#242424">Hygrocybe</text>
<line x1="525.4" y1="119.2" x2="525.4" y2="186.8" stroke="#262626" stroke-width="1.3"/>
<line x1="524.8" y1="186.2" x2="637.3" y2="186.2" stroke="#262626" stroke-width="1.3"/>
<line x1="525.4" y1="186.2" x2="525.4" y2="190.4" stroke="#262626" stroke-width="1.2"/>
<text x="525.4" y="199.8" text-anchor="middle" font-size="8.3" fill="#242424">0.0</text>
<line x1="547.7" y1="186.2" x2="547.7" y2="190.4" stroke="#262626" stroke-width="1.2"/>
<text x="547.7" y="199.8" text-anchor="middle" font-size="8.3" fill="#242424">0.1</text>
<line x1="569.9" y1="186.2" x2="569.9" y2="190.4" stroke="#262626" stroke-width="1.2"/>
<text x="569.9" y="199.8" text-anchor="middle" font-size="8.3" fill="#242424">0.2</text>
<line x1="592.2" y1="186.2" x2="592.2" y2="190.4" stroke="#262626" stroke-width="1.2"/>
<text x="592.2" y="199.8" text-anchor="middle" font-size="8.3" fill="#242424">0.3</text>
<line x1="614.4" y1="186.2" x2="614.4" y2="190.4" stroke="#262626" stroke-width="1.2"/>
<text x="614.4" y="199.8" text-anchor="middle" font-size="8.3" fill="#242424">0.4</text>
<line x1="636.7" y1="186.2" x2="636.7" y2="190.4" stroke="#262626" stroke-width="1.2"/>
<text x="636.7" y="199.8" text-anchor="middle" font-size="8.3" fill="#242424">0.5</text>
<line x1="536.5" y1="228.2" x2="547.2" y2="228.2" stroke="#262626" stroke-width="1.2"/>
<line x1="547.2" y1="224.8" x2="547.2" y2="231.6" stroke="#262626" stroke-width="1.2"/>
<rect x="527.9" y="224.2" width="8.6" height="8.0" fill="#ebe33d" stroke="#262626" stroke-width="1.45"/>
<line x1="523.4" y1="228.2" x2="527.4" y2="228.2" stroke="#262626" stroke-width="1.1"/>
<text x="522.8" y="231.2" text-anchor="end" font-size="8.5" fill="#242424">Camposporium</text>
<line x1="540.8" y1="243.7" x2="552.5" y2="243.7" stroke="#262626" stroke-width="1.2"/>
<line x1="552.5" y1="240.3" x2="552.5" y2="247.1" stroke="#262626" stroke-width="1.2"/>
<rect x="527.9" y="239.7" width="12.9" height="8.0" fill="#80bd86" stroke="#262626" stroke-width="1.45"/>
<line x1="523.4" y1="243.7" x2="527.4" y2="243.7" stroke="#262626" stroke-width="1.1"/>
<text x="522.8" y="246.7" text-anchor="end" font-size="8.5" fill="#242424">Archaeorhizomyces</text>
<line x1="544.7" y1="259.1" x2="562.4" y2="259.1" stroke="#262626" stroke-width="1.2"/>
<line x1="562.4" y1="255.7" x2="562.4" y2="262.5" stroke="#262626" stroke-width="1.2"/>
<rect x="527.9" y="255.1" width="16.8" height="8.0" fill="#5fb9e0" stroke="#262626" stroke-width="1.45"/>
<line x1="523.4" y1="259.1" x2="527.4" y2="259.1" stroke="#262626" stroke-width="1.1"/>
<text x="522.8" y="262.1" text-anchor="end" font-size="8.5" fill="#242424">Calyptella</text>
<line x1="571.5" y1="274.7" x2="616.6" y2="274.7" stroke="#262626" stroke-width="1.2"/>
<line x1="616.6" y1="271.3" x2="616.6" y2="278.1" stroke="#262626" stroke-width="1.2"/>
<rect x="527.9" y="270.7" width="43.6" height="8.0" fill="#b9609f" stroke="#262626" stroke-width="1.45"/>
<line x1="523.4" y1="274.7" x2="527.4" y2="274.7" stroke="#262626" stroke-width="1.1"/>
<text x="522.8" y="277.7" text-anchor="end" font-size="8.5" fill="#242424">Clavulinopsis</text>
<line x1="527.4" y1="217.5" x2="527.4" y2="285.2" stroke="#262626" stroke-width="1.3"/>
<line x1="526.8" y1="284.6" x2="638.8" y2="284.6" stroke="#262626" stroke-width="1.3"/>
<line x1="527.4" y1="284.6" x2="527.4" y2="288.8" stroke="#262626" stroke-width="1.2"/>
<text x="527.4" y="298.2" text-anchor="middle" font-size="8.3" fill="#242424">0.00</text>
<line x1="564.3" y1="284.6" x2="564.3" y2="288.8" stroke="#262626" stroke-width="1.2"/>
<text x="564.3" y="298.2" text-anchor="middle" font-size="8.3" fill="#242424">0.05</text>
<line x1="601.3" y1="284.6" x2="601.3" y2="288.8" stroke="#262626" stroke-width="1.2"/>
<text x="601.3" y="298.2" text-anchor="middle" font-size="8.3" fill="#242424">0.10</text>
<line x1="638.2" y1="284.6" x2="638.2" y2="288.8" stroke="#262626" stroke-width="1.2"/>
<text x="638.2" y="298.2" text-anchor="middle" font-size="8.3" fill="#242424">0.15</text>
<line x1="528.2" y1="322.9" x2="531.7" y2="322.9" stroke="#262626" stroke-width="1.2"/>
<line x1="531.7" y1="319.5" x2="531.7" y2="326.3" stroke="#262626" stroke-width="1.2"/>
<rect x="526.3" y="318.9" width="1.9" height="8.0" fill="#ebe33d" stroke="#262626" stroke-width="1.45"/>
<line x1="521.8" y1="322.9" x2="525.8" y2="322.9" stroke="#262626" stroke-width="1.1"/>
<text x="521.2" y="325.9" text-anchor="end" font-size="8.5" fill="#242424">Lindtneria</text>
<line x1="529.3" y1="338.4" x2="531.3" y2="338.4" stroke="#262626" stroke-width="1.2"/>
<line x1="531.3" y1="335.0" x2="531.3" y2="341.8" stroke="#262626" stroke-width="1.2"/>
<rect x="526.3" y="334.4" width="3.0" height="8.0" fill="#80bd86" stroke="#262626" stroke-width="1.45"/>
<line x1="521.8" y1="338.4" x2="525.8" y2="338.4" stroke="#262626" stroke-width="1.1"/>
<text x="521.2" y="341.4" text-anchor="end" font-size="8.5" fill="#242424">Hygrocybe</text>
<line x1="531.7" y1="353.6" x2="537.5" y2="353.6" stroke="#262626" stroke-width="1.2"/>
<line x1="537.5" y1="350.2" x2="537.5" y2="357.0" stroke="#262626" stroke-width="1.2"/>
<rect x="526.3" y="349.6" width="5.4" height="8.0" fill="#5fb9e0" stroke="#262626" stroke-width="1.45"/>
<line x1="521.8" y1="353.6" x2="525.8" y2="353.6" stroke="#262626" stroke-width="1.1"/>
<text x="521.2" y="356.6" text-anchor="end" font-size="8.5" fill="#242424">Entoloma</text>
<line x1="574.4" y1="369.2" x2="624.6" y2="369.2" stroke="#262626" stroke-width="1.2"/>
<line x1="624.6" y1="365.8" x2="624.6" y2="372.6" stroke="#262626" stroke-width="1.2"/>
<rect x="526.3" y="365.2" width="48.1" height="8.0" fill="#b9609f" stroke="#262626" stroke-width="1.45"/>
<line x1="521.8" y1="369.2" x2="525.8" y2="369.2" stroke="#262626" stroke-width="1.1"/>
<text x="521.2" y="372.2" text-anchor="end" font-size="8.5" fill="#242424">Sebacina</text>
<line x1="525.8" y1="312.4" x2="525.8" y2="379.9" stroke="#262626" stroke-width="1.3"/>
<line x1="525.2" y1="379.3" x2="637.6" y2="379.3" stroke="#262626" stroke-width="1.3"/>
<line x1="525.8" y1="379.3" x2="525.8" y2="383.5" stroke="#262626" stroke-width="1.2"/>
<text x="525.8" y="392.9" text-anchor="middle" font-size="8.3" fill="#242424">0.0</text>
<line x1="548.0" y1="379.3" x2="548.0" y2="383.5" stroke="#262626" stroke-width="1.2"/>
<text x="548.0" y="392.9" text-anchor="middle" font-size="8.3" fill="#242424">0.1</text>
<line x1="570.3" y1="379.3" x2="570.3" y2="383.5" stroke="#262626" stroke-width="1.2"/>
<text x="570.3" y="392.9" text-anchor="middle" font-size="8.3" fill="#242424">0.2</text>
<line x1="592.5" y1="379.3" x2="592.5" y2="383.5" stroke="#262626" stroke-width="1.2"/>
<text x="592.5" y="392.9" text-anchor="middle" font-size="8.3" fill="#242424">0.3</text>
<line x1="614.8" y1="379.3" x2="614.8" y2="383.5" stroke="#262626" stroke-width="1.2"/>
<text x="614.8" y="392.9" text-anchor="middle" font-size="8.3" fill="#242424">0.4</text>
<line x1="637.0" y1="379.3" x2="637.0" y2="383.5" stroke="#262626" stroke-width="1.2"/>
<text x="637.0" y="392.9" text-anchor="middle" font-size="8.3" fill="#242424">0.5</text>
<line x1="532.2" y1="417.2" x2="538.5" y2="417.2" stroke="#262626" stroke-width="1.2"/>
<line x1="538.5" y1="413.8" x2="538.5" y2="420.6" stroke="#262626" stroke-width="1.2"/>
<rect x="526.9" y="413.2" width="5.3" height="8.0" fill="#ebe33d" stroke="#262626" stroke-width="1.45"/>
<line x1="522.4" y1="417.2" x2="526.4" y2="417.2" stroke="#262626" stroke-width="1.1"/>
<text x="521.8" y="420.2" text-anchor="end" font-size="8.5" fill="#242424">Cortinarius</text>
<line x1="541.4" y1="432.8" x2="557.5" y2="432.8" stroke="#262626" stroke-width="1.2"/>
<line x1="557.5" y1="429.4" x2="557.5" y2="436.2" stroke="#262626" stroke-width="1.2"/>
<rect x="526.9" y="428.8" width="14.5" height="8.0" fill="#80bd86" stroke="#262626" stroke-width="1.45"/>
<line x1="522.4" y1="432.8" x2="526.4" y2="432.8" stroke="#262626" stroke-width="1.1"/>
<text x="521.8" y="435.8" text-anchor="end" font-size="8.5" fill="#242424">Hygrocybe</text>
<line x1="539.8" y1="448.3" x2="546.2" y2="448.3" stroke="#262626" stroke-width="1.2"/>
<line x1="546.2" y1="444.9" x2="546.2" y2="451.7" stroke="#262626" stroke-width="1.2"/>
<rect x="526.9" y="444.3" width="12.9" height="8.0" fill="#5fb9e0" stroke="#262626" stroke-width="1.45"/>
<line x1="522.4" y1="448.3" x2="526.4" y2="448.3" stroke="#262626" stroke-width="1.1"/>
<text x="521.8" y="451.3" text-anchor="end" font-size="8.5" fill="#242424">Sebacina</text>
<line x1="582.6" y1="463.9" x2="629.9" y2="463.9" stroke="#262626" stroke-width="1.2"/>
<line x1="629.9" y1="460.5" x2="629.9" y2="467.3" stroke="#262626" stroke-width="1.2"/>
<rect x="526.9" y="459.9" width="55.7" height="8.0" fill="#b9609f" stroke="#262626" stroke-width="1.45"/>
<line x1="522.4" y1="463.9" x2="526.4" y2="463.9" stroke="#262626" stroke-width="1.1"/>
<text x="521.8" y="466.9" text-anchor="end" font-size="8.5" fill="#242424">Russula</text>
<line x1="526.4" y1="407.1" x2="526.4" y2="474.6" stroke="#262626" stroke-width="1.3"/>
<line x1="525.8" y1="474.0" x2="638.2" y2="474.0" stroke="#262626" stroke-width="1.3"/>
<line x1="526.4" y1="474.0" x2="526.4" y2="478.2" stroke="#262626" stroke-width="1.2"/>
<text x="526.4" y="487.6" text-anchor="middle" font-size="8.3" fill="#242424">0.0</text>
<line x1="554.2" y1="474.0" x2="554.2" y2="478.2" stroke="#262626" stroke-width="1.2"/>
<text x="554.2" y="487.6" text-anchor="middle" font-size="8.3" fill="#242424">0.1</text>
<line x1="582.0" y1="474.0" x2="582.0" y2="478.2" stroke="#262626" stroke-width="1.2"/>
<text x="582.0" y="487.6" text-anchor="middle" font-size="8.3" fill="#242424">0.2</text>
<line x1="609.8" y1="474.0" x2="609.8" y2="478.2" stroke="#262626" stroke-width="1.2"/>
<text x="609.8" y="487.6" text-anchor="middle" font-size="8.3" fill="#242424">0.3</text>
<line x1="637.6" y1="474.0" x2="637.6" y2="478.2" stroke="#262626" stroke-width="1.2"/>
<text x="637.6" y="487.6" text-anchor="middle" font-size="8.3" fill="#242424">0.4</text>
<line x1="542.4" y1="508.2" x2="560.2" y2="508.2" stroke="#262626" stroke-width="1.2"/>
<line x1="560.2" y1="504.8" x2="560.2" y2="511.6" stroke="#262626" stroke-width="1.2"/>
<rect x="525.0" y="504.2" width="17.4" height="8.0" fill="#ebe33d" stroke="#262626" stroke-width="1.45"/>
<line x1="520.5" y1="508.2" x2="524.5" y2="508.2" stroke="#262626" stroke-width="1.1"/>
<text x="519.9" y="511.2" text-anchor="end" font-size="8.5" fill="#242424">Sebacina</text>
<line x1="543.7" y1="524.2" x2="564.3" y2="524.2" stroke="#262626" stroke-width="1.2"/>
<line x1="564.3" y1="520.8" x2="564.3" y2="527.6" stroke="#262626" stroke-width="1.2"/>
<rect x="525.0" y="520.2" width="18.7" height="8.0" fill="#80bd86" stroke="#262626" stroke-width="1.45"/>
<line x1="520.5" y1="524.2" x2="524.5" y2="524.2" stroke="#262626" stroke-width="1.1"/>
<text x="519.9" y="527.2" text-anchor="end" font-size="8.5" fill="#242424">Cortinarius</text>
<line x1="547.8" y1="539.7" x2="570.6" y2="539.7" stroke="#262626" stroke-width="1.2"/>
<line x1="570.6" y1="536.3" x2="570.6" y2="543.1" stroke="#262626" stroke-width="1.2"/>
<rect x="525.0" y="535.7" width="22.8" height="8.0" fill="#5fb9e0" stroke="#262626" stroke-width="1.45"/>
<line x1="520.5" y1="539.7" x2="524.5" y2="539.7" stroke="#262626" stroke-width="1.1"/>
<text x="519.9" y="542.7" text-anchor="end" font-size="8.5" fill="#242424">Geoglossum</text>
<line x1="574.8" y1="555.7" x2="608.5" y2="555.7" stroke="#262626" stroke-width="1.2"/>
<line x1="608.5" y1="552.3" x2="608.5" y2="559.1" stroke="#262626" stroke-width="1.2"/>
<rect x="524.5" y="550.5" width="51.3" height="13.5" fill="#ede9e8"/>
<rect x="524.5" y="551.6" width="50.3" height="8.3" fill="#c161a0"/>
<line x1="520.5" y1="555.7" x2="524.5" y2="555.7" stroke="#262626" stroke-width="1.1"/>
<text x="519.9" y="558.7" text-anchor="end" font-size="8.5" fill="#242424">Tomentella</text>
<line x1="524.5" y1="498.5" x2="524.5" y2="566.6" stroke="#262626" stroke-width="1.3"/>
<line x1="523.9" y1="566.0" x2="636.3" y2="566.0" stroke="#262626" stroke-width="1.3"/>
<line x1="524.5" y1="566.0" x2="524.5" y2="570.2" stroke="#262626" stroke-width="1.2"/>
<text x="524.5" y="579.6" text-anchor="middle" font-size="8.3" fill="#242424">0.00</text>
<line x1="552.3" y1="566.0" x2="552.3" y2="570.2" stroke="#262626" stroke-width="1.2"/>
<text x="552.3" y="579.6" text-anchor="middle" font-size="8.3" fill="#242424">0.02</text>
<line x1="580.1" y1="566.0" x2="580.1" y2="570.2" stroke="#262626" stroke-width="1.2"/>
<text x="580.1" y="579.6" text-anchor="middle" font-size="8.3" fill="#242424">0.04</text>
<line x1="607.9" y1="566.0" x2="607.9" y2="570.2" stroke="#262626" stroke-width="1.2"/>
<text x="607.9" y="579.6" text-anchor="middle" font-size="8.3" fill="#242424">0.06</text>
<line x1="635.7" y1="566.0" x2="635.7" y2="570.2" stroke="#262626" stroke-width="1.2"/>
<text x="635.7" y="579.6" text-anchor="middle" font-size="8.3" fill="#242424">0.08</text>
<line x1="539.4" y1="602.7" x2="554.4" y2="602.7" stroke="#262626" stroke-width="1.2"/>
<line x1="554.4" y1="599.3" x2="554.4" y2="606.1" stroke="#262626" stroke-width="1.2"/>
<rect x="526.7" y="598.7" width="12.7" height="8.0" fill="#ebe33d" stroke="#262626" stroke-width="1.45"/>
<line x1="522.2" y1="602.7" x2="526.2" y2="602.7" stroke="#262626" stroke-width="1.1"/>
<text x="521.6" y="605.7" text-anchor="end" font-size="8.5" fill="#242424">Trechispora</text>
<line x1="540.6" y1="618.3" x2="550.5" y2="618.3" stroke="#262626" stroke-width="1.2"/>
<line x1="550.5" y1="614.9" x2="550.5" y2="621.7" stroke="#262626" stroke-width="1.2"/>
<rect x="526.7" y="614.3" width="13.9" height="8.0" fill="#80bd86" stroke="#262626" stroke-width="1.45"/>
<line x1="522.2" y1="618.3" x2="526.2" y2="618.3" stroke="#262626" stroke-width="1.1"/>
<text x="521.6" y="621.3" text-anchor="end" font-size="8.5" fill="#242424">Tomentella</text>
<line x1="543.7" y1="633.9" x2="560.4" y2="633.9" stroke="#262626" stroke-width="1.2"/>
<line x1="560.4" y1="630.5" x2="560.4" y2="637.3" stroke="#262626" stroke-width="1.2"/>
<rect x="526.7" y="629.9" width="17.0" height="8.0" fill="#5fb9e0" stroke="#262626" stroke-width="1.45"/>
<line x1="522.2" y1="633.9" x2="526.2" y2="633.9" stroke="#262626" stroke-width="1.1"/>
<text x="521.6" y="636.9" text-anchor="end" font-size="8.5" fill="#242424">Entoloma</text>
<line x1="573.9" y1="649.4" x2="611.8" y2="649.4" stroke="#262626" stroke-width="1.2"/>
<line x1="611.8" y1="646.0" x2="611.8" y2="652.8" stroke="#262626" stroke-width="1.2"/>
<rect x="526.7" y="645.4" width="47.2" height="8.0" fill="#b9609f" stroke="#262626" stroke-width="1.45"/>
<line x1="522.2" y1="649.4" x2="526.2" y2="649.4" stroke="#262626" stroke-width="1.1"/>
<text x="521.6" y="652.4" text-anchor="end" font-size="8.5" fill="#242424">Hygrocybe</text>
<line x1="526.2" y1="592.6" x2="526.2" y2="659.7" stroke="#262626" stroke-width="1.3"/>
<line x1="525.6" y1="659.1" x2="638.2" y2="659.1" stroke="#262626" stroke-width="1.3"/>
<line x1="526.2" y1="659.1" x2="526.2" y2="663.3" stroke="#262626" stroke-width="1.2"/>
<text x="526.2" y="672.7" text-anchor="middle" font-size="8.3" fill="#242424">0.00</text>
<line x1="563.3" y1="659.1" x2="563.3" y2="663.3" stroke="#262626" stroke-width="1.2"/>
<text x="563.3" y="672.7" text-anchor="middle" font-size="8.3" fill="#242424">0.05</text>
<line x1="600.5" y1="659.1" x2="600.5" y2="663.3" stroke="#262626" stroke-width="1.2"/>
<text x="600.5" y="672.7" text-anchor="middle" font-size="8.3" fill="#242424">0.10</text>
<line x1="637.6" y1="659.1" x2="637.6" y2="663.3" stroke="#262626" stroke-width="1.2"/>
<text x="637.6" y="672.7" text-anchor="middle" font-size="8.3" fill="#242424">0.15</text>
<line x1="559.5" y1="697.0" x2="591.9" y2="697.0" stroke="#262626" stroke-width="1.2"/>
<line x1="591.9" y1="693.6" x2="591.9" y2="700.4" stroke="#262626" stroke-width="1.2"/>
<rect x="529.2" y="693.0" width="30.3" height="8.0" fill="#ebe33d" stroke="#262626" stroke-width="1.45"/>
<line x1="524.7" y1="697.0" x2="528.7" y2="697.0" stroke="#262626" stroke-width="1.1"/>
<text x="524.1" y="700.0" text-anchor="end" font-size="8.5" fill="#242424">Piloderma</text>
<line x1="567.6" y1="712.6" x2="599.7" y2="712.6" stroke="#262626" stroke-width="1.2"/>
<line x1="599.7" y1="709.2" x2="599.7" y2="716.0" stroke="#262626" stroke-width="1.2"/>
<rect x="529.2" y="708.6" width="38.4" height="8.0" fill="#80bd86" stroke="#262626" stroke-width="1.45"/>
<line x1="524.7" y1="712.6" x2="528.7" y2="712.6" stroke="#262626" stroke-width="1.1"/>
<text x="524.1" y="715.6" text-anchor="end" font-size="8.5" fill="#242424">Cortinarius</text>
<line x1="578.3" y1="728.2" x2="629.3" y2="728.2" stroke="#262626" stroke-width="1.2"/>
<line x1="629.3" y1="724.8" x2="629.3" y2="731.6" stroke="#262626" stroke-width="1.2"/>
<rect x="529.2" y="724.2" width="49.1" height="8.0" fill="#5fb9e0" stroke="#262626" stroke-width="1.45"/>
<line x1="524.7" y1="728.2" x2="528.7" y2="728.2" stroke="#262626" stroke-width="1.1"/>
<text x="524.1" y="731.2" text-anchor="end" font-size="8.5" fill="#242424">Sebacina</text>
<line x1="579.3" y1="743.7" x2="630.8" y2="743.7" stroke="#262626" stroke-width="1.2"/>
<line x1="630.8" y1="740.3" x2="630.8" y2="747.1" stroke="#262626" stroke-width="1.2"/>
<rect x="529.2" y="739.7" width="50.1" height="8.0" fill="#b9609f" stroke="#262626" stroke-width="1.45"/>
<line x1="524.7" y1="743.7" x2="528.7" y2="743.7" stroke="#262626" stroke-width="1.1"/>
<text x="524.1" y="746.7" text-anchor="end" font-size="8.5" fill="#242424">Entoloma</text>
<line x1="528.7" y1="686.9" x2="528.7" y2="754.2" stroke="#262626" stroke-width="1.3"/>
<line x1="528.1" y1="753.6" x2="640.6" y2="753.6" stroke="#262626" stroke-width="1.3"/>
<line x1="528.7" y1="753.6" x2="528.7" y2="757.8" stroke="#262626" stroke-width="1.2"/>
<text x="528.7" y="767.2" text-anchor="middle" font-size="8.3" fill="#242424">0.00</text>
<line x1="551.0" y1="753.6" x2="551.0" y2="757.8" stroke="#262626" stroke-width="1.2"/>
<text x="551.0" y="767.2" text-anchor="middle" font-size="8.3" fill="#242424">0.05</text>
<line x1="573.2" y1="753.6" x2="573.2" y2="757.8" stroke="#262626" stroke-width="1.2"/>
<text x="573.2" y="767.2" text-anchor="middle" font-size="8.3" fill="#242424">0.10</text>
<line x1="595.5" y1="753.6" x2="595.5" y2="757.8" stroke="#262626" stroke-width="1.2"/>
<text x="595.5" y="767.2" text-anchor="middle" font-size="8.3" fill="#242424">0.15</text>
<line x1="617.7" y1="753.6" x2="617.7" y2="757.8" stroke="#262626" stroke-width="1.2"/>
<text x="617.7" y="767.2" text-anchor="middle" font-size="8.3" fill="#242424">0.20</text>
<line x1="640.0" y1="753.6" x2="640.0" y2="757.8" stroke="#262626" stroke-width="1.2"/>
<text x="640.0" y="767.2" text-anchor="middle" font-size="8.3" fill="#242424">0.25</text>
<line x1="545.2" y1="788.4" x2="561.0" y2="788.4" stroke="#262626" stroke-width="1.2"/>
<line x1="561.0" y1="785.0" x2="561.0" y2="791.8" stroke="#262626" stroke-width="1.2"/>
<rect x="530.9" y="784.4" width="14.3" height="8.0" fill="#ebe33d" stroke="#262626" stroke-width="1.45"/>
<line x1="526.4" y1="788.4" x2="530.4" y2="788.4" stroke="#262626" stroke-width="1.1"/>
<text x="525.8" y="791.4" text-anchor="end" font-size="8.5" fill="#242424">Camarophyllopsis</text>
<line x1="546.8" y1="804.4" x2="554.2" y2="804.4" stroke="#262626" stroke-width="1.2"/>
<line x1="554.2" y1="801.0" x2="554.2" y2="807.8" stroke="#262626" stroke-width="1.2"/>
<rect x="530.9" y="800.4" width="15.9" height="8.0" fill="#80bd86" stroke="#262626" stroke-width="1.45"/>
<line x1="526.4" y1="804.4" x2="530.4" y2="804.4" stroke="#262626" stroke-width="1.1"/>
<text x="525.8" y="807.4" text-anchor="end" font-size="8.5" fill="#242424">Others(&lt;0.5%)</text>
<line x1="549.0" y1="819.4" x2="558.0" y2="819.4" stroke="#262626" stroke-width="1.2"/>
<line x1="558.0" y1="816.0" x2="558.0" y2="822.8" stroke="#262626" stroke-width="1.2"/>
<rect x="530.9" y="815.4" width="18.1" height="8.0" fill="#5fb9e0" stroke="#262626" stroke-width="1.45"/>
<line x1="526.4" y1="819.4" x2="530.4" y2="819.4" stroke="#262626" stroke-width="1.1"/>
<text x="525.8" y="822.4" text-anchor="end" font-size="8.5" fill="#242424">Archaeorhizomyces</text>
<line x1="582.3" y1="835.1" x2="630.4" y2="835.1" stroke="#262626" stroke-width="1.2"/>
<line x1="630.4" y1="831.7" x2="630.4" y2="838.5" stroke="#262626" stroke-width="1.2"/>
<rect x="530.9" y="831.1" width="51.4" height="8.0" fill="#b9609f" stroke="#262626" stroke-width="1.45"/>
<line x1="526.4" y1="835.1" x2="530.4" y2="835.1" stroke="#262626" stroke-width="1.1"/>
<text x="525.8" y="838.1" text-anchor="end" font-size="8.5" fill="#242424">Tomentella</text>
<line x1="530.4" y1="778.5" x2="530.4" y2="845.8" stroke="#262626" stroke-width="1.3"/>
<line x1="529.8" y1="845.2" x2="641.7" y2="845.2" stroke="#262626" stroke-width="1.3"/>
<line x1="530.4" y1="845.2" x2="530.4" y2="849.4" stroke="#262626" stroke-width="1.2"/>
<text x="530.4" y="858.8" text-anchor="middle" font-size="8.3" fill="#242424">0.00</text>
<line x1="567.3" y1="845.2" x2="567.3" y2="849.4" stroke="#262626" stroke-width="1.2"/>
<text x="567.3" y="858.8" text-anchor="middle" font-size="8.3" fill="#242424">0.02</text>
<line x1="604.2" y1="845.2" x2="604.2" y2="849.4" stroke="#262626" stroke-width="1.2"/>
<text x="604.2" y="858.8" text-anchor="middle" font-size="8.3" fill="#242424">0.04</text>
<line x1="641.1" y1="845.2" x2="641.1" y2="849.4" stroke="#262626" stroke-width="1.2"/>
<text x="641.1" y="858.8" text-anchor="middle" font-size="8.3" fill="#242424">0.06</text>
<line x1="533.3" y1="882.3" x2="540.5" y2="882.3" stroke="#262626" stroke-width="1.2"/>
<line x1="540.5" y1="878.9" x2="540.5" y2="885.7" stroke="#262626" stroke-width="1.2"/>
<rect x="527.1" y="878.3" width="6.2" height="8.0" fill="#ebe33d" stroke="#262626" stroke-width="1.45"/>
<line x1="522.6" y1="882.3" x2="526.6" y2="882.3" stroke="#262626" stroke-width="1.1"/>
<text x="522.0" y="885.3" text-anchor="end" font-size="8.5" fill="#242424">Archaeorhizomyces</text>
<line x1="533.3" y1="898.5" x2="539.4" y2="898.5" stroke="#262626" stroke-width="1.2"/>
<line x1="539.4" y1="895.1" x2="539.4" y2="901.9" stroke="#262626" stroke-width="1.2"/>
<rect x="527.1" y="894.5" width="6.2" height="8.0" fill="#80bd86" stroke="#262626" stroke-width="1.45"/>
<line x1="522.6" y1="898.5" x2="526.6" y2="898.5" stroke="#262626" stroke-width="1.1"/>
<text x="522.0" y="901.5" text-anchor="end" font-size="8.5" fill="#242424">Hygrocybe</text>
<line x1="557.6" y1="913.3" x2="589.5" y2="913.3" stroke="#262626" stroke-width="1.2"/>
<line x1="589.5" y1="909.9" x2="589.5" y2="916.7" stroke="#262626" stroke-width="1.2"/>
<rect x="527.1" y="909.3" width="30.5" height="8.0" fill="#5fb9e0" stroke="#262626" stroke-width="1.45"/>
<line x1="522.6" y1="913.3" x2="526.6" y2="913.3" stroke="#262626" stroke-width="1.1"/>
<text x="522.0" y="916.3" text-anchor="end" font-size="8.5" fill="#242424">Piloderma</text>
<line x1="582.7" y1="929.5" x2="631.5" y2="929.5" stroke="#262626" stroke-width="1.2"/>
<line x1="631.5" y1="926.1" x2="631.5" y2="932.9" stroke="#262626" stroke-width="1.2"/>
<rect x="527.1" y="925.5" width="55.6" height="8.0" fill="#b9609f" stroke="#262626" stroke-width="1.45"/>
<line x1="522.6" y1="929.5" x2="526.6" y2="929.5" stroke="#262626" stroke-width="1.1"/>
<text x="522.0" y="932.5" text-anchor="end" font-size="8.5" fill="#242424">Entoloma</text>
<line x1="526.6" y1="872.9" x2="526.6" y2="940.2" stroke="#262626" stroke-width="1.3"/>
<line x1="526.0" y1="939.6" x2="638.4" y2="939.6" stroke="#262626" stroke-width="1.3"/>
<line x1="526.6" y1="939.6" x2="526.6" y2="943.8" stroke="#262626" stroke-width="1.2"/>
<text x="526.6" y="953.2" text-anchor="middle" font-size="8.3" fill="#242424">0.00</text>
<line x1="548.8" y1="939.6" x2="548.8" y2="943.8" stroke="#262626" stroke-width="1.2"/>
<text x="548.8" y="953.2" text-anchor="middle" font-size="8.3" fill="#242424">0.05</text>
<line x1="571.1" y1="939.6" x2="571.1" y2="943.8" stroke="#262626" stroke-width="1.2"/>
<text x="571.1" y="953.2" text-anchor="middle" font-size="8.3" fill="#242424">0.10</text>
<line x1="593.3" y1="939.6" x2="593.3" y2="943.8" stroke="#262626" stroke-width="1.2"/>
<text x="593.3" y="953.2" text-anchor="middle" font-size="8.3" fill="#242424">0.15</text>
<line x1="615.6" y1="939.6" x2="615.6" y2="943.8" stroke="#262626" stroke-width="1.2"/>
<text x="615.6" y="953.2" text-anchor="middle" font-size="8.3" fill="#242424">0.20</text>
<line x1="637.8" y1="939.6" x2="637.8" y2="943.8" stroke="#262626" stroke-width="1.2"/>
<text x="637.8" y="953.2" text-anchor="middle" font-size="8.3" fill="#242424">0.25</text>
<line x1="690.7" y1="38.9" x2="701.4" y2="38.9" stroke="#262626" stroke-width="1.2"/>
<line x1="701.4" y1="35.5" x2="701.4" y2="42.3" stroke="#262626" stroke-width="1.2"/>
<rect x="679.5" y="34.9" width="11.2" height="8.0" fill="#ebe33d" stroke="#262626" stroke-width="1.45"/>
<line x1="675.0" y1="38.9" x2="679.0" y2="38.9" stroke="#262626" stroke-width="1.1"/>
<text x="674.4" y="41.9" text-anchor="end" font-size="8.5" fill="#242424">Clavulinopsis</text>
<line x1="696.9" y1="54.4" x2="712.5" y2="54.4" stroke="#262626" stroke-width="1.2"/>
<line x1="712.5" y1="51.0" x2="712.5" y2="57.8" stroke="#262626" stroke-width="1.2"/>
<rect x="679.5" y="50.4" width="17.4" height="8.0" fill="#80bd86" stroke="#262626" stroke-width="1.45"/>
<line x1="675.0" y1="54.4" x2="679.0" y2="54.4" stroke="#262626" stroke-width="1.1"/>
<text x="674.4" y="57.4" text-anchor="end" font-size="8.5" fill="#242424">Tomentella</text>
<line x1="711.5" y1="70.0" x2="744.2" y2="70.0" stroke="#262626" stroke-width="1.2"/>
<line x1="744.2" y1="66.6" x2="744.2" y2="73.4" stroke="#262626" stroke-width="1.2"/>
<rect x="679.5" y="66.0" width="32.0" height="8.0" fill="#5fb9e0" stroke="#262626" stroke-width="1.45"/>
<line x1="675.0" y1="70.0" x2="679.0" y2="70.0" stroke="#262626" stroke-width="1.1"/>
<text x="674.4" y="73.0" text-anchor="end" font-size="8.5" fill="#242424">Russula</text>
<line x1="734.8" y1="85.5" x2="772.4" y2="85.5" stroke="#262626" stroke-width="1.2"/>
<line x1="772.4" y1="82.1" x2="772.4" y2="88.9" stroke="#262626" stroke-width="1.2"/>
<rect x="679.5" y="81.5" width="55.3" height="8.0" fill="#b9609f" stroke="#262626" stroke-width="1.45"/>
<line x1="675.0" y1="85.5" x2="679.0" y2="85.5" stroke="#262626" stroke-width="1.1"/>
<text x="674.4" y="88.5" text-anchor="end" font-size="8.5" fill="#242424">Cortinarius</text>
<line x1="679.0" y1="28.7" x2="679.0" y2="95.8" stroke="#262626" stroke-width="1.3"/>
<line x1="678.4" y1="95.2" x2="790.5" y2="95.2" stroke="#262626" stroke-width="1.3"/>
<line x1="679.0" y1="95.2" x2="679.0" y2="99.4" stroke="#262626" stroke-width="1.2"/>
<text x="679.0" y="108.8" text-anchor="middle" font-size="8.3" fill="#242424">0.00</text>
<line x1="701.2" y1="95.2" x2="701.2" y2="99.4" stroke="#262626" stroke-width="1.2"/>
<text x="701.2" y="108.8" text-anchor="middle" font-size="8.3" fill="#242424">0.05</text>
<line x1="723.4" y1="95.2" x2="723.4" y2="99.4" stroke="#262626" stroke-width="1.2"/>
<text x="723.4" y="108.8" text-anchor="middle" font-size="8.3" fill="#242424">0.10</text>
<line x1="745.5" y1="95.2" x2="745.5" y2="99.4" stroke="#262626" stroke-width="1.2"/>
<text x="745.5" y="108.8" text-anchor="middle" font-size="8.3" fill="#242424">0.15</text>
<line x1="767.7" y1="95.2" x2="767.7" y2="99.4" stroke="#262626" stroke-width="1.2"/>
<text x="767.7" y="108.8" text-anchor="middle" font-size="8.3" fill="#242424">0.20</text>
<line x1="789.9" y1="95.2" x2="789.9" y2="99.4" stroke="#262626" stroke-width="1.2"/>
<text x="789.9" y="108.8" text-anchor="middle" font-size="8.3" fill="#242424">0.25</text>
<line x1="687.4" y1="129.9" x2="695.6" y2="129.9" stroke="#262626" stroke-width="1.2"/>
<line x1="695.6" y1="126.5" x2="695.6" y2="133.3" stroke="#262626" stroke-width="1.2"/>
<rect x="678.5" y="125.9" width="8.9" height="8.0" fill="#ebe33d" stroke="#262626" stroke-width="1.45"/>
<line x1="674.0" y1="129.9" x2="678.0" y2="129.9" stroke="#262626" stroke-width="1.1"/>
<text x="673.4" y="132.9" text-anchor="end" font-size="8.5" fill="#242424">Archaeorhizomyces</text>
<line x1="689.7" y1="145.0" x2="701.4" y2="145.0" stroke="#262626" stroke-width="1.2"/>
<line x1="701.4" y1="141.6" x2="701.4" y2="148.4" stroke="#262626" stroke-width="1.2"/>
<rect x="678.5" y="141.0" width="11.2" height="8.0" fill="#80bd86" stroke="#262626" stroke-width="1.45"/>
<line x1="674.0" y1="145.0" x2="678.0" y2="145.0" stroke="#262626" stroke-width="1.1"/>
<text x="673.4" y="148.0" text-anchor="end" font-size="8.5" fill="#242424">Cortinarius</text>
<line x1="690.7" y1="160.4" x2="704.7" y2="160.4" stroke="#262626" stroke-width="1.2"/>
<line x1="704.7" y1="157.0" x2="704.7" y2="163.8" stroke="#262626" stroke-width="1.2"/>
<rect x="678.5" y="156.4" width="12.2" height="8.0" fill="#5fb9e0" stroke="#262626" stroke-width="1.45"/>
<line x1="674.0" y1="160.4" x2="678.0" y2="160.4" stroke="#262626" stroke-width="1.1"/>
<text x="673.4" y="163.4" text-anchor="end" font-size="8.5" fill="#242424">Sebacina</text>
<line x1="725.1" y1="175.9" x2="770.8" y2="175.9" stroke="#262626" stroke-width="1.2"/>
<line x1="770.8" y1="172.5" x2="770.8" y2="179.3" stroke="#262626" stroke-width="1.2"/>
<rect x="678.5" y="171.9" width="46.6" height="8.0" fill="#b9609f" stroke="#262626" stroke-width="1.45"/>
<line x1="674.0" y1="175.9" x2="678.0" y2="175.9" stroke="#262626" stroke-width="1.1"/>
<text x="673.4" y="178.9" text-anchor="end" font-size="8.5" fill="#242424">Hygrocybe</text>
<line x1="678.0" y1="119.6" x2="678.0" y2="186.8" stroke="#262626" stroke-width="1.3"/>
<line x1="677.4" y1="186.2" x2="789.5" y2="186.2" stroke="#262626" stroke-width="1.3"/>
<line x1="678.0" y1="186.2" x2="678.0" y2="190.4" stroke="#262626" stroke-width="1.2"/>
<text x="678.0" y="199.8" text-anchor="middle" font-size="8.3" fill="#242424">0.0</text>
<line x1="715.0" y1="186.2" x2="715.0" y2="190.4" stroke="#262626" stroke-width="1.2"/>
<text x="715.0" y="199.8" text-anchor="middle" font-size="8.3" fill="#242424">0.1</text>
<line x1="751.9" y1="186.2" x2="751.9" y2="190.4" stroke="#262626" stroke-width="1.2"/>
<text x="751.9" y="199.8" text-anchor="middle" font-size="8.3" fill="#242424">0.2</text>
<line x1="788.9" y1="186.2" x2="788.9" y2="190.4" stroke="#262626" stroke-width="1.2"/>
<text x="788.9" y="199.8" text-anchor="middle" font-size="8.3" fill="#242424">0.3</text>
<line x1="706.2" y1="228.2" x2="733.9" y2="228.2" stroke="#262626" stroke-width="1.2"/>
<line x1="733.9" y1="224.8" x2="733.9" y2="231.6" stroke="#262626" stroke-width="1.2"/>
<rect x="678.9" y="224.2" width="27.3" height="8.0" fill="#ebe33d" stroke="#262626" stroke-width="1.45"/>
<line x1="674.4" y1="228.2" x2="678.4" y2="228.2" stroke="#262626" stroke-width="1.1"/>
<text x="673.8" y="231.2" text-anchor="end" font-size="8.5" fill="#242424">Calyptella</text>
<line x1="706.2" y1="243.7" x2="730.9" y2="243.7" stroke="#262626" stroke-width="1.2"/>
<line x1="730.9" y1="240.3" x2="730.9" y2="247.1" stroke="#262626" stroke-width="1.2"/>
<rect x="678.9" y="239.7" width="27.3" height="8.0" fill="#80bd86" stroke="#262626" stroke-width="1.45"/>
<line x1="674.4" y1="243.7" x2="678.4" y2="243.7" stroke="#262626" stroke-width="1.1"/>
<text x="673.8" y="246.7" text-anchor="end" font-size="8.5" fill="#242424">Cladosporium</text>
<line x1="716.6" y1="259.3" x2="741.2" y2="259.3" stroke="#262626" stroke-width="1.2"/>
<line x1="741.2" y1="255.9" x2="741.2" y2="262.7" stroke="#262626" stroke-width="1.2"/>
<rect x="678.9" y="255.3" width="37.7" height="8.0" fill="#5fb9e0" stroke="#262626" stroke-width="1.45"/>
<line x1="674.4" y1="259.3" x2="678.4" y2="259.3" stroke="#262626" stroke-width="1.1"/>
<text x="673.8" y="262.3" text-anchor="end" font-size="8.5" fill="#242424">Hygrocybe</text>
<line x1="729.0" y1="274.9" x2="781.1" y2="274.9" stroke="#262626" stroke-width="1.2"/>
<line x1="781.1" y1="271.5" x2="781.1" y2="278.3" stroke="#262626" stroke-width="1.2"/>
<rect x="678.9" y="270.9" width="50.1" height="8.0" fill="#b9609f" stroke="#262626" stroke-width="1.45"/>
<line x1="674.4" y1="274.9" x2="678.4" y2="274.9" stroke="#262626" stroke-width="1.1"/>
<text x="673.8" y="277.9" text-anchor="end" font-size="8.5" fill="#242424">Clavulinopsis</text>
<line x1="678.4" y1="217.9" x2="678.4" y2="285.2" stroke="#262626" stroke-width="1.3"/>
<line x1="677.8" y1="284.6" x2="789.9" y2="284.6" stroke="#262626" stroke-width="1.3"/>
<line x1="678.4" y1="284.6" x2="678.4" y2="288.8" stroke="#262626" stroke-width="1.2"/>
<text x="678.4" y="298.2" text-anchor="middle" font-size="8.3" fill="#242424">0.00</text>
<line x1="706.1" y1="284.6" x2="706.1" y2="288.8" stroke="#262626" stroke-width="1.2"/>
<text x="706.1" y="298.2" text-anchor="middle" font-size="8.3" fill="#242424">0.02</text>
<line x1="733.8" y1="284.6" x2="733.8" y2="288.8" stroke="#262626" stroke-width="1.2"/>
<text x="733.8" y="298.2" text-anchor="middle" font-size="8.3" fill="#242424">0.04</text>
<line x1="761.6" y1="284.6" x2="761.6" y2="288.8" stroke="#262626" stroke-width="1.2"/>
<text x="761.6" y="298.2" text-anchor="middle" font-size="8.3" fill="#242424">0.06</text>
<line x1="789.3" y1="284.6" x2="789.3" y2="288.8" stroke="#262626" stroke-width="1.2"/>
<text x="789.3" y="298.2" text-anchor="middle" font-size="8.3" fill="#242424">0.08</text>
<line x1="689.3" y1="317.0" x2="701.4" y2="317.0" stroke="#262626" stroke-width="1.2"/>
<line x1="701.4" y1="313.6" x2="701.4" y2="320.4" stroke="#262626" stroke-width="1.2"/>
<rect x="678.9" y="313.0" width="10.4" height="8.0" fill="#ebe33d" stroke="#262626" stroke-width="1.45"/>
<line x1="674.4" y1="317.0" x2="678.4" y2="317.0" stroke="#262626" stroke-width="1.1"/>
<text x="673.8" y="320.0" text-anchor="end" font-size="8.5" fill="#242424">Calyptella</text>
<line x1="697.9" y1="332.6" x2="719.3" y2="332.6" stroke="#262626" stroke-width="1.2"/>
<line x1="719.3" y1="329.2" x2="719.3" y2="336.0" stroke="#262626" stroke-width="1.2"/>
<rect x="678.9" y="328.6" width="19.0" height="8.0" fill="#80bd86" stroke="#262626" stroke-width="1.45"/>
<line x1="674.4" y1="332.6" x2="678.4" y2="332.6" stroke="#262626" stroke-width="1.1"/>
<text x="673.8" y="335.6" text-anchor="end" font-size="8.5" fill="#242424">Trichoglossum</text>
<line x1="711.1" y1="348.2" x2="726.3" y2="348.2" stroke="#262626" stroke-width="1.2"/>
<line x1="726.3" y1="344.8" x2="726.3" y2="351.6" stroke="#262626" stroke-width="1.2"/>
<rect x="678.9" y="344.2" width="32.2" height="8.0" fill="#5fb9e0" stroke="#262626" stroke-width="1.45"/>
<line x1="674.4" y1="348.2" x2="678.4" y2="348.2" stroke="#262626" stroke-width="1.1"/>
<text x="673.8" y="351.2" text-anchor="end" font-size="8.5" fill="#242424">Hygrocybe</text>
<line x1="719.9" y1="363.7" x2="763.6" y2="363.7" stroke="#262626" stroke-width="1.2"/>
<line x1="763.6" y1="360.3" x2="763.6" y2="367.1" stroke="#262626" stroke-width="1.2"/>
<rect x="678.9" y="359.7" width="41.0" height="8.0" fill="#b9609f" stroke="#262626" stroke-width="1.45"/>
<line x1="674.4" y1="363.7" x2="678.4" y2="363.7" stroke="#262626" stroke-width="1.1"/>
<text x="673.8" y="366.7" text-anchor="end" font-size="8.5" fill="#242424">Sebacina</text>
<line x1="678.4" y1="306.6" x2="678.4" y2="374.2" stroke="#262626" stroke-width="1.3"/>
<line x1="677.8" y1="373.6" x2="789.9" y2="373.6" stroke="#262626" stroke-width="1.3"/>
<line x1="678.4" y1="373.6" x2="678.4" y2="377.8" stroke="#262626" stroke-width="1.2"/>
<text x="678.4" y="387.2" text-anchor="middle" font-size="8.3" fill="#242424">0.00</text>
<line x1="700.6" y1="373.6" x2="700.6" y2="377.8" stroke="#262626" stroke-width="1.2"/>
<text x="700.6" y="387.2" text-anchor="middle" font-size="8.3" fill="#242424">0.05</text>
<line x1="722.8" y1="373.6" x2="722.8" y2="377.8" stroke="#262626" stroke-width="1.2"/>
<text x="722.8" y="387.2" text-anchor="middle" font-size="8.3" fill="#242424">0.10</text>
<line x1="744.9" y1="373.6" x2="744.9" y2="377.8" stroke="#262626" stroke-width="1.2"/>
<text x="744.9" y="387.2" text-anchor="middle" font-size="8.3" fill="#242424">0.15</text>
<line x1="767.1" y1="373.6" x2="767.1" y2="377.8" stroke="#262626" stroke-width="1.2"/>
<text x="767.1" y="387.2" text-anchor="middle" font-size="8.3" fill="#242424">0.20</text>
<line x1="789.3" y1="373.6" x2="789.3" y2="377.8" stroke="#262626" stroke-width="1.2"/>
<text x="789.3" y="387.2" text-anchor="middle" font-size="8.3" fill="#242424">0.25</text>
<line x1="692.6" y1="417.2" x2="709.6" y2="417.2" stroke="#262626" stroke-width="1.2"/>
<line x1="709.6" y1="413.8" x2="709.6" y2="420.6" stroke="#262626" stroke-width="1.2"/>
<rect x="678.0" y="413.2" width="14.6" height="8.0" fill="#ebe33d" stroke="#262626" stroke-width="1.45"/>
<line x1="673.5" y1="417.2" x2="677.5" y2="417.2" stroke="#262626" stroke-width="1.1"/>
<text x="672.9" y="420.2" text-anchor="end" font-size="8.5" fill="#242424">Cenococcum</text>
<line x1="695.6" y1="432.8" x2="700.4" y2="432.8" stroke="#262626" stroke-width="1.2"/>
<line x1="700.4" y1="429.4" x2="700.4" y2="436.2" stroke="#262626" stroke-width="1.2"/>
<rect x="678.0" y="428.8" width="17.6" height="8.0" fill="#80bd86" stroke="#262626" stroke-width="1.45"/>
<line x1="673.5" y1="432.8" x2="677.5" y2="432.8" stroke="#262626" stroke-width="1.1"/>
<text x="672.9" y="435.8" text-anchor="end" font-size="8.5" fill="#242424">Sebacina</text>
<line x1="715.4" y1="448.3" x2="730.9" y2="448.3" stroke="#262626" stroke-width="1.2"/>
<line x1="730.9" y1="444.9" x2="730.9" y2="451.7" stroke="#262626" stroke-width="1.2"/>
<rect x="678.0" y="444.3" width="37.4" height="8.0" fill="#5fb9e0" stroke="#262626" stroke-width="1.45"/>
<line x1="673.5" y1="448.3" x2="677.5" y2="448.3" stroke="#262626" stroke-width="1.1"/>
<text x="672.9" y="451.3" text-anchor="end" font-size="8.5" fill="#242424">Russula</text>
<line x1="727.6" y1="463.9" x2="779.6" y2="463.9" stroke="#262626" stroke-width="1.2"/>
<line x1="779.6" y1="460.5" x2="779.6" y2="467.3" stroke="#262626" stroke-width="1.2"/>
<rect x="678.0" y="459.9" width="49.6" height="8.0" fill="#b9609f" stroke="#262626" stroke-width="1.45"/>
<line x1="673.5" y1="463.9" x2="677.5" y2="463.9" stroke="#262626" stroke-width="1.1"/>
<text x="672.9" y="466.9" text-anchor="end" font-size="8.5" fill="#242424">Ramariopsis</text>
<line x1="677.5" y1="407.1" x2="677.5" y2="474.6" stroke="#262626" stroke-width="1.3"/>
<line x1="676.9" y1="474.0" x2="789.5" y2="474.0" stroke="#262626" stroke-width="1.3"/>
<line x1="677.5" y1="474.0" x2="677.5" y2="478.2" stroke="#262626" stroke-width="1.2"/>
<text x="677.5" y="487.6" text-anchor="middle" font-size="8.3" fill="#242424">0.0</text>
<line x1="714.6" y1="474.0" x2="714.6" y2="478.2" stroke="#262626" stroke-width="1.2"/>
<text x="714.6" y="487.6" text-anchor="middle" font-size="8.3" fill="#242424">0.1</text>
<line x1="751.8" y1="474.0" x2="751.8" y2="478.2" stroke="#262626" stroke-width="1.2"/>
<text x="751.8" y="487.6" text-anchor="middle" font-size="8.3" fill="#242424">0.2</text>
<line x1="788.9" y1="474.0" x2="788.9" y2="478.2" stroke="#262626" stroke-width="1.2"/>
<text x="788.9" y="487.6" text-anchor="middle" font-size="8.3" fill="#242424">0.3</text>
<line x1="693.6" y1="508.6" x2="702.4" y2="508.6" stroke="#262626" stroke-width="1.2"/>
<line x1="702.4" y1="505.2" x2="702.4" y2="512.0" stroke="#262626" stroke-width="1.2"/>
<rect x="678.9" y="504.6" width="14.7" height="8.0" fill="#ebe33d" stroke="#262626" stroke-width="1.45"/>
<line x1="674.4" y1="508.6" x2="678.4" y2="508.6" stroke="#262626" stroke-width="1.1"/>
<text x="673.8" y="511.6" text-anchor="end" font-size="8.5" fill="#242424">Stephanospora</text>
<line x1="695.9" y1="524.2" x2="714.4" y2="524.2" stroke="#262626" stroke-width="1.2"/>
<line x1="714.4" y1="520.8" x2="714.4" y2="527.6" stroke="#262626" stroke-width="1.2"/>
<rect x="678.9" y="520.2" width="17.0" height="8.0" fill="#80bd86" stroke="#262626" stroke-width="1.45"/>
<line x1="674.4" y1="524.2" x2="678.4" y2="524.2" stroke="#262626" stroke-width="1.1"/>
<text x="673.8" y="527.2" text-anchor="end" font-size="8.5" fill="#242424">Clavaria</text>
<line x1="702.6" y1="539.7" x2="727.0" y2="539.7" stroke="#262626" stroke-width="1.2"/>
<line x1="727.0" y1="536.3" x2="727.0" y2="543.1" stroke="#262626" stroke-width="1.2"/>
<rect x="678.9" y="535.7" width="23.7" height="8.0" fill="#5fb9e0" stroke="#262626" stroke-width="1.45"/>
<line x1="674.4" y1="539.7" x2="678.4" y2="539.7" stroke="#262626" stroke-width="1.1"/>
<text x="673.8" y="542.7" text-anchor="end" font-size="8.5" fill="#242424">Hygrocybe</text>
<line x1="728.2" y1="555.7" x2="761.7" y2="555.7" stroke="#262626" stroke-width="1.2"/>
<line x1="761.7" y1="552.3" x2="761.7" y2="559.1" stroke="#262626" stroke-width="1.2"/>
<rect x="678.9" y="551.7" width="49.3" height="8.0" fill="#b9609f" stroke="#262626" stroke-width="1.45"/>
<line x1="674.4" y1="555.7" x2="678.4" y2="555.7" stroke="#262626" stroke-width="1.1"/>
<text x="673.8" y="558.7" text-anchor="end" font-size="8.5" fill="#242424">Tomentella</text>
<line x1="678.4" y1="498.5" x2="678.4" y2="566.6" stroke="#262626" stroke-width="1.3"/>
<line x1="677.8" y1="566.0" x2="789.9" y2="566.0" stroke="#262626" stroke-width="1.3"/>
<line x1="678.4" y1="566.0" x2="678.4" y2="570.2" stroke="#262626" stroke-width="1.2"/>
<text x="678.4" y="579.6" text-anchor="middle" font-size="8.3" fill="#242424">0.00</text>
<line x1="715.4" y1="566.0" x2="715.4" y2="570.2" stroke="#262626" stroke-width="1.2"/>
<text x="715.4" y="579.6" text-anchor="middle" font-size="8.3" fill="#242424">0.05</text>
<line x1="752.3" y1="566.0" x2="752.3" y2="570.2" stroke="#262626" stroke-width="1.2"/>
<text x="752.3" y="579.6" text-anchor="middle" font-size="8.3" fill="#242424">0.10</text>
<line x1="789.3" y1="566.0" x2="789.3" y2="570.2" stroke="#262626" stroke-width="1.2"/>
<text x="789.3" y="579.6" text-anchor="middle" font-size="8.3" fill="#242424">0.15</text>
<line x1="691.7" y1="602.7" x2="698.5" y2="602.7" stroke="#262626" stroke-width="1.2"/>
<line x1="698.5" y1="599.3" x2="698.5" y2="606.1" stroke="#262626" stroke-width="1.2"/>
<rect x="679.9" y="598.7" width="11.8" height="8.0" fill="#ebe33d" stroke="#262626" stroke-width="1.45"/>
<line x1="675.4" y1="602.7" x2="679.4" y2="602.7" stroke="#262626" stroke-width="1.1"/>
<text x="674.8" y="605.7" text-anchor="end" font-size="8.5" fill="#242424">Entoloma</text>
<line x1="710.7" y1="618.3" x2="733.5" y2="618.3" stroke="#262626" stroke-width="1.2"/>
<line x1="733.5" y1="614.9" x2="733.5" y2="621.7" stroke="#262626" stroke-width="1.2"/>
<rect x="679.9" y="614.3" width="30.8" height="8.0" fill="#80bd86" stroke="#262626" stroke-width="1.45"/>
<line x1="675.4" y1="618.3" x2="679.4" y2="618.3" stroke="#262626" stroke-width="1.1"/>
<text x="674.8" y="621.3" text-anchor="end" font-size="8.5" fill="#242424">Cortinarius</text>
<line x1="716.6" y1="633.9" x2="755.4" y2="633.9" stroke="#262626" stroke-width="1.2"/>
<line x1="755.4" y1="630.5" x2="755.4" y2="637.3" stroke="#262626" stroke-width="1.2"/>
<rect x="679.9" y="629.9" width="36.7" height="8.0" fill="#5fb9e0" stroke="#262626" stroke-width="1.45"/>
<line x1="675.4" y1="633.9" x2="679.4" y2="633.9" stroke="#262626" stroke-width="1.1"/>
<text x="674.8" y="636.9" text-anchor="end" font-size="8.5" fill="#242424">Cenococcum</text>
<line x1="727.6" y1="649.4" x2="767.5" y2="649.4" stroke="#262626" stroke-width="1.2"/>
<line x1="767.5" y1="646.0" x2="767.5" y2="652.8" stroke="#262626" stroke-width="1.2"/>
<rect x="679.9" y="645.4" width="47.7" height="8.0" fill="#b9609f" stroke="#262626" stroke-width="1.45"/>
<line x1="675.4" y1="649.4" x2="679.4" y2="649.4" stroke="#262626" stroke-width="1.1"/>
<text x="674.8" y="652.4" text-anchor="end" font-size="8.5" fill="#242424">Hygrocybe</text>
<line x1="679.4" y1="592.6" x2="679.4" y2="659.7" stroke="#262626" stroke-width="1.3"/>
<line x1="678.8" y1="659.1" x2="791.4" y2="659.1" stroke="#262626" stroke-width="1.3"/>
<line x1="679.4" y1="659.1" x2="679.4" y2="663.3" stroke="#262626" stroke-width="1.2"/>
<text x="679.4" y="672.7" text-anchor="middle" font-size="8.3" fill="#242424">0.00</text>
<line x1="701.7" y1="659.1" x2="701.7" y2="663.3" stroke="#262626" stroke-width="1.2"/>
<text x="701.7" y="672.7" text-anchor="middle" font-size="8.3" fill="#242424">0.05</text>
<line x1="724.0" y1="659.1" x2="724.0" y2="663.3" stroke="#262626" stroke-width="1.2"/>
<text x="724.0" y="672.7" text-anchor="middle" font-size="8.3" fill="#242424">0.10</text>
<line x1="746.2" y1="659.1" x2="746.2" y2="663.3" stroke="#262626" stroke-width="1.2"/>
<text x="746.2" y="672.7" text-anchor="middle" font-size="8.3" fill="#242424">0.15</text>
<line x1="768.5" y1="659.1" x2="768.5" y2="663.3" stroke="#262626" stroke-width="1.2"/>
<text x="768.5" y="672.7" text-anchor="middle" font-size="8.3" fill="#242424">0.20</text>
<line x1="790.8" y1="659.1" x2="790.8" y2="663.3" stroke="#262626" stroke-width="1.2"/>
<text x="790.8" y="672.7" text-anchor="middle" font-size="8.3" fill="#242424">0.25</text>
<line x1="695.6" y1="696.3" x2="708.6" y2="696.3" stroke="#262626" stroke-width="1.2"/>
<line x1="708.6" y1="692.9" x2="708.6" y2="699.7" stroke="#262626" stroke-width="1.2"/>
<rect x="683.0" y="692.3" width="12.6" height="8.0" fill="#ebe33d" stroke="#262626" stroke-width="1.45"/>
<line x1="678.5" y1="696.3" x2="682.5" y2="696.3" stroke="#262626" stroke-width="1.1"/>
<text x="677.9" y="699.3" text-anchor="end" font-size="8.5" fill="#242424">Cortinarius</text>
<line x1="695.6" y1="711.8" x2="707.6" y2="711.8" stroke="#262626" stroke-width="1.2"/>
<line x1="707.6" y1="708.4" x2="707.6" y2="715.2" stroke="#262626" stroke-width="1.2"/>
<rect x="683.0" y="707.8" width="12.6" height="8.0" fill="#80bd86" stroke="#262626" stroke-width="1.45"/>
<line x1="678.5" y1="711.8" x2="682.5" y2="711.8" stroke="#262626" stroke-width="1.1"/>
<text x="677.9" y="714.8" text-anchor="end" font-size="8.5" fill="#242424">Clavulinopsis</text>
<line x1="726.7" y1="727.4" x2="772.4" y2="727.4" stroke="#262626" stroke-width="1.2"/>
<line x1="772.4" y1="724.0" x2="772.4" y2="730.8" stroke="#262626" stroke-width="1.2"/>
<rect x="683.0" y="723.4" width="43.7" height="8.0" fill="#5fb9e0" stroke="#262626" stroke-width="1.45"/>
<line x1="678.5" y1="727.4" x2="682.5" y2="727.4" stroke="#262626" stroke-width="1.1"/>
<text x="677.9" y="730.4" text-anchor="end" font-size="8.5" fill="#242424">Sebacina</text>
<line x1="727.6" y1="742.9" x2="773.3" y2="742.9" stroke="#262626" stroke-width="1.2"/>
<line x1="773.3" y1="739.5" x2="773.3" y2="746.3" stroke="#262626" stroke-width="1.2"/>
<rect x="683.0" y="738.9" width="44.6" height="8.0" fill="#b9609f" stroke="#262626" stroke-width="1.45"/>
<line x1="678.5" y1="742.9" x2="682.5" y2="742.9" stroke="#262626" stroke-width="1.1"/>
<text x="677.9" y="745.9" text-anchor="end" font-size="8.5" fill="#242424">Russula</text>
<line x1="682.5" y1="686.0" x2="682.5" y2="753.6" stroke="#262626" stroke-width="1.3"/>
<line x1="681.9" y1="753.0" x2="794.7" y2="753.0" stroke="#262626" stroke-width="1.3"/>
<line x1="682.5" y1="753.0" x2="682.5" y2="757.2" stroke="#262626" stroke-width="1.2"/>
<text x="682.5" y="766.6" text-anchor="middle" font-size="8.3" fill="#242424">0.00</text>
<line x1="704.8" y1="753.0" x2="704.8" y2="757.2" stroke="#262626" stroke-width="1.2"/>
<text x="704.8" y="766.6" text-anchor="middle" font-size="8.3" fill="#242424">0.05</text>
<line x1="727.1" y1="753.0" x2="727.1" y2="757.2" stroke="#262626" stroke-width="1.2"/>
<text x="727.1" y="766.6" text-anchor="middle" font-size="8.3" fill="#242424">0.10</text>
<line x1="749.5" y1="753.0" x2="749.5" y2="757.2" stroke="#262626" stroke-width="1.2"/>
<text x="749.5" y="766.6" text-anchor="middle" font-size="8.3" fill="#242424">0.15</text>
<line x1="771.8" y1="753.0" x2="771.8" y2="757.2" stroke="#262626" stroke-width="1.2"/>
<text x="771.8" y="766.6" text-anchor="middle" font-size="8.3" fill="#242424">0.20</text>
<line x1="794.1" y1="753.0" x2="794.1" y2="757.2" stroke="#262626" stroke-width="1.2"/>
<text x="794.1" y="766.6" text-anchor="middle" font-size="8.3" fill="#242424">0.25</text>
<line x1="703.7" y1="788.5" x2="723.7" y2="788.5" stroke="#262626" stroke-width="1.2"/>
<line x1="723.7" y1="785.1" x2="723.7" y2="791.9" stroke="#262626" stroke-width="1.2"/>
<rect x="685.4" y="784.5" width="18.3" height="8.0" fill="#ebe33d" stroke="#262626" stroke-width="1.45"/>
<line x1="680.9" y1="788.5" x2="684.9" y2="788.5" stroke="#262626" stroke-width="1.1"/>
<text x="680.3" y="791.5" text-anchor="end" font-size="8.5" fill="#242424">Thelephoraceae</text>
<line x1="718.5" y1="804.0" x2="741.6" y2="804.0" stroke="#262626" stroke-width="1.2"/>
<line x1="741.6" y1="800.6" x2="741.6" y2="807.4" stroke="#262626" stroke-width="1.2"/>
<rect x="685.4" y="800.0" width="33.1" height="8.0" fill="#80bd86" stroke="#262626" stroke-width="1.45"/>
<line x1="680.9" y1="804.0" x2="684.9" y2="804.0" stroke="#262626" stroke-width="1.1"/>
<text x="680.3" y="807.0" text-anchor="end" font-size="8.5" fill="#242424">Hygrocybe</text>
<line x1="727.6" y1="819.6" x2="770.0" y2="819.6" stroke="#262626" stroke-width="1.2"/>
<line x1="770.0" y1="816.2" x2="770.0" y2="823.0" stroke="#262626" stroke-width="1.2"/>
<rect x="685.4" y="815.6" width="42.2" height="8.0" fill="#5fb9e0" stroke="#262626" stroke-width="1.45"/>
<line x1="680.9" y1="819.6" x2="684.9" y2="819.6" stroke="#262626" stroke-width="1.1"/>
<text x="680.3" y="822.6" text-anchor="end" font-size="8.5" fill="#242424">Sebacina</text>
<line x1="738.3" y1="835.1" x2="767.1" y2="835.1" stroke="#262626" stroke-width="1.2"/>
<line x1="767.1" y1="831.7" x2="767.1" y2="838.5" stroke="#262626" stroke-width="1.2"/>
<rect x="685.4" y="831.1" width="52.9" height="8.0" fill="#b9609f" stroke="#262626" stroke-width="1.45"/>
<line x1="680.9" y1="835.1" x2="684.9" y2="835.1" stroke="#262626" stroke-width="1.1"/>
<text x="680.3" y="838.1" text-anchor="end" font-size="8.5" fill="#242424">Tomentella</text>
<line x1="684.9" y1="778.2" x2="684.9" y2="845.8" stroke="#262626" stroke-width="1.3"/>
<line x1="684.3" y1="845.2" x2="796.9" y2="845.2" stroke="#262626" stroke-width="1.3"/>
<line x1="684.9" y1="845.2" x2="684.9" y2="849.4" stroke="#262626" stroke-width="1.2"/>
<text x="684.9" y="858.8" text-anchor="middle" font-size="8.3" fill="#242424">0.00</text>
<line x1="712.8" y1="845.2" x2="712.8" y2="849.4" stroke="#262626" stroke-width="1.2"/>
<text x="712.8" y="858.8" text-anchor="middle" font-size="8.3" fill="#242424">0.02</text>
<line x1="740.6" y1="845.2" x2="740.6" y2="849.4" stroke="#262626" stroke-width="1.2"/>
<text x="740.6" y="858.8" text-anchor="middle" font-size="8.3" fill="#242424">0.04</text>
<line x1="768.4" y1="845.2" x2="768.4" y2="849.4" stroke="#262626" stroke-width="1.2"/>
<text x="768.4" y="858.8" text-anchor="middle" font-size="8.3" fill="#242424">0.06</text>
<line x1="796.3" y1="845.2" x2="796.3" y2="849.4" stroke="#262626" stroke-width="1.2"/>
<text x="796.3" y="858.8" text-anchor="middle" font-size="8.3" fill="#242424">0.08</text>
<line x1="690.3" y1="882.4" x2="693.6" y2="882.4" stroke="#262626" stroke-width="1.2"/>
<line x1="693.6" y1="879.0" x2="693.6" y2="885.8" stroke="#262626" stroke-width="1.2"/>
<rect x="684.8" y="878.4" width="5.5" height="8.0" fill="#ebe33d" stroke="#262626" stroke-width="1.45"/>
<line x1="680.3" y1="882.4" x2="684.3" y2="882.4" stroke="#262626" stroke-width="1.1"/>
<text x="679.7" y="885.4" text-anchor="end" font-size="8.5" fill="#242424">Entoloma</text>
<line x1="698.5" y1="898.3" x2="704.3" y2="898.3" stroke="#262626" stroke-width="1.2"/>
<line x1="704.3" y1="894.9" x2="704.3" y2="901.7" stroke="#262626" stroke-width="1.2"/>
<rect x="684.8" y="894.3" width="13.7" height="8.0" fill="#80bd86" stroke="#262626" stroke-width="1.45"/>
<line x1="680.3" y1="898.3" x2="684.3" y2="898.3" stroke="#262626" stroke-width="1.1"/>
<text x="679.7" y="901.3" text-anchor="end" font-size="8.5" fill="#242424">Tomentella</text>
<line x1="700.8" y1="913.9" x2="716.0" y2="913.9" stroke="#262626" stroke-width="1.2"/>
<line x1="716.0" y1="910.5" x2="716.0" y2="917.3" stroke="#262626" stroke-width="1.2"/>
<rect x="684.8" y="909.9" width="16.0" height="8.0" fill="#5fb9e0" stroke="#262626" stroke-width="1.45"/>
<line x1="680.3" y1="913.9" x2="684.3" y2="913.9" stroke="#262626" stroke-width="1.1"/>
<text x="679.7" y="916.9" text-anchor="end" font-size="8.5" fill="#242424">Hygrocybe</text>
<line x1="728.2" y1="929.4" x2="774.3" y2="929.4" stroke="#262626" stroke-width="1.2"/>
<line x1="774.3" y1="926.0" x2="774.3" y2="932.8" stroke="#262626" stroke-width="1.2"/>
<rect x="684.8" y="925.4" width="43.4" height="8.0" fill="#b9609f" stroke="#262626" stroke-width="1.45"/>
<line x1="680.3" y1="929.4" x2="684.3" y2="929.4" stroke="#262626" stroke-width="1.1"/>
<text x="679.7" y="932.4" text-anchor="end" font-size="8.5" fill="#242424">Russula</text>
<line x1="684.3" y1="872.1" x2="684.3" y2="940.1" stroke="#262626" stroke-width="1.3"/>
<line x1="683.7" y1="939.5" x2="795.9" y2="939.5" stroke="#262626" stroke-width="1.3"/>
<line x1="684.3" y1="939.5" x2="684.3" y2="943.7" stroke="#262626" stroke-width="1.2"/>
<text x="684.3" y="953.1" text-anchor="middle" font-size="8.3" fill="#242424">0.00</text>
<line x1="706.5" y1="939.5" x2="706.5" y2="943.7" stroke="#262626" stroke-width="1.2"/>
<text x="706.5" y="953.1" text-anchor="middle" font-size="8.3" fill="#242424">0.05</text>
<line x1="728.7" y1="939.5" x2="728.7" y2="943.7" stroke="#262626" stroke-width="1.2"/>
<text x="728.7" y="953.1" text-anchor="middle" font-size="8.3" fill="#242424">0.10</text>
<line x1="750.9" y1="939.5" x2="750.9" y2="943.7" stroke="#262626" stroke-width="1.2"/>
<text x="750.9" y="953.1" text-anchor="middle" font-size="8.3" fill="#242424">0.15</text>
<line x1="773.1" y1="939.5" x2="773.1" y2="943.7" stroke="#262626" stroke-width="1.2"/>
<text x="773.1" y="953.1" text-anchor="middle" font-size="8.3" fill="#242424">0.20</text>
<line x1="795.3" y1="939.5" x2="795.3" y2="943.7" stroke="#262626" stroke-width="1.2"/>
<text x="795.3" y="953.1" text-anchor="middle" font-size="8.3" fill="#242424">0.25</text>
<text x="549.8" y="976.6" text-anchor="middle" font-size="12.5" fill="#1e1e1e">Relative abundance (%)</text>
<polygon points="181.4,17.9 120.5,122.4 241.6,122.4" fill="#fdfdfa"/>
<line x1="169.2" y1="38.8" x2="193.4" y2="38.8" stroke="#eeeaeb" stroke-width="0.8"/>
<line x1="144.7" y1="122.4" x2="193.4" y2="38.8" stroke="#eeeaeb" stroke-width="0.8"/>
<line x1="144.7" y1="122.4" x2="132.7" y2="101.5" stroke="#eeeaeb" stroke-width="0.8"/>
<line x1="157.0" y1="59.7" x2="205.5" y2="59.7" stroke="#eeeaeb" stroke-width="0.8"/>
<line x1="168.9" y1="122.4" x2="205.5" y2="59.7" stroke="#eeeaeb" stroke-width="0.8"/>
<line x1="168.9" y1="122.4" x2="144.9" y2="80.6" stroke="#eeeaeb" stroke-width="0.8"/>
<line x1="144.9" y1="80.6" x2="217.5" y2="80.6" stroke="#eeeaeb" stroke-width="0.8"/>
<line x1="193.2" y1="122.4" x2="217.5" y2="80.6" stroke="#eeeaeb" stroke-width="0.8"/>
<line x1="193.2" y1="122.4" x2="157.0" y2="59.7" stroke="#eeeaeb" stroke-width="0.8"/>
<line x1="132.7" y1="101.5" x2="229.6" y2="101.5" stroke="#eeeaeb" stroke-width="0.8"/>
<line x1="217.4" y1="122.4" x2="229.6" y2="101.5" stroke="#eeeaeb" stroke-width="0.8"/>
<line x1="217.4" y1="122.4" x2="169.2" y2="38.8" stroke="#eeeaeb" stroke-width="0.8"/>
<circle cx="203.8" cy="106.5" r="1.6" fill="#e27474"/>
<circle cx="186.6" cy="112.4" r="1.6" fill="#e27474"/>
<circle cx="138.7" cy="119.4" r="1.6" fill="#e27474"/>
<circle cx="170.4" cy="68.6" r="1.6" fill="#e27474"/>
<circle cx="226.4" cy="116.7" r="1.6" fill="#b98583"/>
<circle cx="206.6" cy="74.5" r="1.6" fill="#e27474"/>
<circle cx="212.7" cy="78.3" r="1.6" fill="#e27474"/>
<circle cx="188.8" cy="100.9" r="1.6" fill="#e27474"/>
<circle cx="178.8" cy="74.4" r="1.6" fill="#b98583"/>
<circle cx="205.8" cy="111.8" r="1.6" fill="#e27474"/>
<circle cx="186.5" cy="82.2" r="1.6" fill="#e27474"/>
<circle cx="201.3" cy="75.2" r="1.6" fill="#e27474"/>
<circle cx="193.9" cy="62.5" r="1.6" fill="#e27474"/>
<circle cx="171.0" cy="75.0" r="1.6" fill="#e27474"/>
<circle cx="152.8" cy="77.5" r="1.6" fill="#e27474"/>
<circle cx="173.9" cy="101.4" r="1.6" fill="#e27474"/>
<circle cx="194.6" cy="105.5" r="1.6" fill="#e27474"/>
<circle cx="153.8" cy="117.9" r="1.6" fill="#e27474"/>
<circle cx="178.9" cy="96.4" r="1.6" fill="#e27474"/>
<circle cx="205.6" cy="85.1" r="1.6" fill="#e27474"/>
<circle cx="206.6" cy="71.6" r="1.6" fill="#e27474"/>
<circle cx="157.6" cy="90.6" r="1.6" fill="#e27474"/>
<circle cx="206.8" cy="99.8" r="1.6" fill="#e27474"/>
<circle cx="200.5" cy="80.1" r="1.6" fill="#e27474"/>
<circle cx="154.8" cy="81.4" r="1.6" fill="#e27474"/>
<circle cx="155.6" cy="86.2" r="1.6" fill="#e27474"/>
<circle cx="182.9" cy="92.0" r="1.6" fill="#e27474"/>
<circle cx="199.8" cy="79.0" r="1.6" fill="#e27474"/>
<circle cx="193.0" cy="82.4" r="1.6" fill="#e27474"/>
<circle cx="178.3" cy="85.1" r="1.6" fill="#b98583"/>
<circle cx="171.8" cy="87.9" r="1.6" fill="#e27474"/>
<circle cx="218.1" cy="115.1" r="1.6" fill="#e27474"/>
<circle cx="139.0" cy="93.9" r="1.6" fill="#e27474"/>
<circle cx="210.2" cy="72.9" r="1.6" fill="#e27474"/>
<circle cx="170.8" cy="84.7" r="1.6" fill="#e27474"/>
<circle cx="151.1" cy="81.8" r="1.6" fill="#e27474"/>
<circle cx="222.8" cy="120.5" r="1.6" fill="#e27474"/>
<circle cx="184.8" cy="91.5" r="1.6" fill="#e27474"/>
<circle cx="215.6" cy="119.8" r="1.6" fill="#e27474"/>
<circle cx="147.2" cy="85.7" r="1.6" fill="#e27474"/>
<circle cx="196.5" cy="56.5" r="1.6" fill="#e27474"/>
<circle cx="188.0" cy="77.1" r="1.6" fill="#e27474"/>
<circle cx="206.9" cy="116.1" r="1.6" fill="#e27474"/>
<circle cx="226.2" cy="103.5" r="1.6" fill="#e27474"/>
<circle cx="230.5" cy="108.6" r="1.6" fill="#e27474"/>
<circle cx="175.4" cy="99.7" r="1.6" fill="#e27474"/>
<circle cx="182.4" cy="98.6" r="1.6" fill="#b98583"/>
<circle cx="162.0" cy="93.9" r="1.6" fill="#e27474"/>
<circle cx="182.5" cy="85.2" r="1.6" fill="#e27474"/>
<circle cx="147.1" cy="100.1" r="1.6" fill="#e27474"/>
<circle cx="158.1" cy="108.4" r="1.6" fill="#e27474"/>
<circle cx="175.7" cy="75.0" r="1.6" fill="#e27474"/>
<circle cx="180.8" cy="35.6" r="1.6" fill="#e27474"/>
<circle cx="220.9" cy="115.5" r="1.6" fill="#e27474"/>
<circle cx="182.9" cy="48.3" r="1.6" fill="#e27474"/>
<circle cx="184.8" cy="80.6" r="1.6" fill="#e27474"/>
<circle cx="230.4" cy="118.3" r="1.6" fill="#e27474"/>
<circle cx="193.9" cy="80.2" r="1.6" fill="#e27474"/>
<circle cx="172.8" cy="104.6" r="1.6" fill="#e27474"/>
<circle cx="184.2" cy="45.8" r="1.6" fill="#e27474"/>
<circle cx="185.4" cy="101.7" r="1.6" fill="#e27474"/>
<circle cx="164.2" cy="61.5" r="1.6" fill="#b98583"/>
<circle cx="183.5" cy="29.9" r="1.6" fill="#e27474"/>
<circle cx="181.4" cy="95.7" r="1.6" fill="#e27474"/>
<circle cx="184.4" cy="44.7" r="1.6" fill="#e27474"/>
<circle cx="228.8" cy="119.3" r="1.6" fill="#e27474"/>
<circle cx="200.8" cy="72.6" r="1.6" fill="#e27474"/>
<circle cx="150.7" cy="80.2" r="1.6" fill="#e27474"/>
<circle cx="232.7" cy="113.3" r="1.6" fill="#e27474"/>
<circle cx="153.8" cy="99.9" r="1.6" fill="#e27474"/>
<circle cx="215.5" cy="97.8" r="1.6" fill="#e27474"/>
<circle cx="170.0" cy="92.6" r="1.6" fill="#b98583"/>
<circle cx="173.7" cy="120.7" r="1.6" fill="#e27474"/>
<circle cx="179.7" cy="71.4" r="1.6" fill="#e27474"/>
<circle cx="182.0" cy="51.0" r="1.6" fill="#e27474"/>
<circle cx="155.6" cy="87.5" r="1.6" fill="#e27474"/>
<circle cx="177.5" cy="87.8" r="1.6" fill="#e27474"/>
<circle cx="199.8" cy="64.8" r="1.6" fill="#b98583"/>
<circle cx="151.1" cy="95.9" r="1.6" fill="#e27474"/>
<circle cx="154.9" cy="76.0" r="1.6" fill="#e27474"/>
<circle cx="138.4" cy="117.1" r="1.6" fill="#e27474"/>
<circle cx="194.1" cy="81.1" r="1.6" fill="#b98583"/>
<circle cx="182.6" cy="75.0" r="1.6" fill="#e27474"/>
<circle cx="182.9" cy="27.3" r="1.6" fill="#e27474"/>
<circle cx="213.6" cy="88.6" r="1.6" fill="#e27474"/>
<circle cx="174.3" cy="88.0" r="1.6" fill="#e27474"/>
<circle cx="201.8" cy="109.0" r="1.6" fill="#e27474"/>
<circle cx="177.7" cy="100.7" r="1.6" fill="#e27474"/>
<circle cx="149.7" cy="85.5" r="1.6" fill="#e27474"/>
<circle cx="203.5" cy="85.3" r="1.6" fill="#e27474"/>
<circle cx="158.4" cy="104.5" r="1.6" fill="#e27474"/>
<circle cx="179.1" cy="87.7" r="1.6" fill="#e27474"/>
<circle cx="206.1" cy="99.2" r="1.6" fill="#e27474"/>
<circle cx="156.9" cy="86.4" r="1.6" fill="#e27474"/>
<circle cx="148.9" cy="79.3" r="1.6" fill="#e27474"/>
<circle cx="154.8" cy="92.0" r="1.6" fill="#b98583"/>
<circle cx="197.4" cy="71.4" r="1.6" fill="#e27474"/>
<circle cx="187.1" cy="76.5" r="1.6" fill="#e27474"/>
<circle cx="169.7" cy="107.0" r="1.6" fill="#e27474"/>
<circle cx="202.7" cy="64.5" r="1.6" fill="#e27474"/>
<circle cx="164.3" cy="81.9" r="1.6" fill="#e27474"/>
<circle cx="188.3" cy="87.6" r="1.6" fill="#e27474"/>
<circle cx="168.7" cy="100.3" r="1.6" fill="#e27474"/>
<circle cx="199.1" cy="97.6" r="1.6" fill="#e27474"/>
<circle cx="217.3" cy="102.7" r="1.6" fill="#e27474"/>
<circle cx="175.5" cy="70.8" r="1.6" fill="#e27474"/>
<circle cx="161.4" cy="79.9" r="1.6" fill="#e27474"/>
<circle cx="179.4" cy="79.3" r="1.6" fill="#e27474"/>
<circle cx="163.8" cy="77.0" r="1.6" fill="#e27474"/>
<circle cx="174.8" cy="76.4" r="1.6" fill="#e27474"/>
<polygon points="181.4,17.9 120.5,122.4 241.6,122.4" fill="none" stroke="#2a2a2a" stroke-width="1.3" stroke-linejoin="miter"/>
<circle cx="179.5" cy="21.1" r="1.3" fill="#3fae5c"/>
<circle cx="122.1" cy="119.6" r="1.3" fill="#3fae5c"/>
<circle cx="166.6" cy="43.2" r="1.3" fill="#3fae5c"/>
<circle cx="165.5" cy="45.1" r="1.3" fill="#3fae5c"/>
<circle cx="155.0" cy="122.4" r="1.3" fill="#3fae5c"/>
<circle cx="186.2" cy="122.4" r="1.3" fill="#3fae5c"/>
<circle cx="153.6" cy="122.4" r="1.3" fill="#3fae5c"/>
<circle cx="191.4" cy="122.4" r="1.3" fill="#3fae5c"/>
<circle cx="150.9" cy="122.4" r="1.3" fill="#3fae5c"/>
<circle cx="194.0" cy="39.7" r="1.3" fill="#3fae5c"/>
<circle cx="192.9" cy="37.9" r="1.3" fill="#3fae5c"/>
<circle cx="183.0" cy="20.7" r="1.3" fill="#3fae5c"/>
<circle cx="208.8" cy="65.4" r="1.3" fill="#3fae5c"/>
<circle cx="212.1" cy="71.1" r="1.3" fill="#3fae5c"/>
<circle cx="190.1" cy="33.0" r="1.3" fill="#3fae5c"/>
<circle cx="195.3" cy="42.0" r="1.3" fill="#3fae5c"/>
<text x="196.6" y="40.3" font-size="5" fill="#8a8a8a" font-weight="normal">80</text><text transform="translate(164.2,38.8) rotate(-60)" font-size="5" fill="#8a8a8a" font-weight="normal" text-anchor="middle">20</text><text transform="translate(145.7,127.9) rotate(-60)" font-size="5" fill="#8a8a8a" font-weight="normal" text-anchor="middle">20</text><text x="208.7" y="61.2" font-size="5" fill="#8a8a8a" font-weight="normal">60</text><text transform="translate(152.0,59.7) rotate(-60)" font-size="5" fill="#8a8a8a" font-weight="normal" text-anchor="middle">40</text><text transform="translate(169.9,127.9) rotate(-60)" font-size="5" fill="#8a8a8a" font-weight="normal" text-anchor="middle">40</text><text x="220.7" y="82.1" font-size="5" fill="#8a8a8a" font-weight="normal">40</text><text transform="translate(139.9,80.6) rotate(-60)" font-size="5" fill="#8a8a8a" font-weight="normal" text-anchor="middle">60</text><text transform="translate(194.2,127.9) rotate(-60)" font-size="5" fill="#8a8a8a" font-weight="normal" text-anchor="middle">60</text><text x="232.8" y="103.0" font-size="5" fill="#8a8a8a" font-weight="normal">20</text><text transform="translate(127.7,101.5) rotate(-60)" font-size="5" fill="#8a8a8a" font-weight="normal" text-anchor="middle">80</text><text transform="translate(218.4,127.9) rotate(-60)" font-size="5" fill="#8a8a8a" font-weight="normal" text-anchor="middle">80</text><text x="182.4" y="18.9" font-size="4.8" fill="#8a8a8a" font-weight="normal">100</text><text transform="translate(117.5,123.4) rotate(-60)" font-size="4.8" fill="#8a8a8a" font-weight="normal" text-anchor="middle">100</text><text transform="translate(243.6,125.4) rotate(-60)" font-size="4.8" fill="#8a8a8a" font-weight="normal" text-anchor="middle">100</text>
<line x1="151.3" y1="43.3" x2="128.5" y2="81.3" stroke="#222" stroke-width="1.2"/><polygon points="126.2,85.2 126.9,79.8 128.8,80.9 130.7,82.0" fill="#222"/>
<line x1="235.6" y1="84.9" x2="213.5" y2="47.0" stroke="#222" stroke-width="1.2"/><polygon points="211.2,43.1 215.6,46.3 213.7,47.4 211.8,48.5" fill="#222"/>
<line x1="161.4" y1="134.0" x2="201.2" y2="134.0" stroke="#222" stroke-width="1.2"/><polygon points="205.7,134.0 200.7,136.2 200.7,134.0 200.7,131.8" fill="#222"/>
<text transform="translate(135.9,64.9) rotate(-60)" font-size="5" fill="#8f8f8f" font-weight="normal" text-anchor="middle">0</text>
<text transform="translate(226.9,64.9) rotate(60)" font-size="5" fill="#8f8f8f" font-weight="normal" text-anchor="middle">+</text>
<text x="181.4" y="138.8" font-size="5" fill="#8f8f8f" font-weight="normal" text-anchor="middle">5</text>
<text x="207.4" y="11.3" text-anchor="middle" font-size="11.4" fill="#2b5b37">Depth (40 cm)</text>
<text x="94.6" y="138.3" font-size="11.4" fill="#dc6c4a">Depth (20 cm)</text>
<text x="228.0" y="138.3" font-size="11.4" fill="#2a4587">Depth (60 cm)</text>
<rect x="91.3" y="7.1" width="52.5" height="26.8" fill="#a8c98a" stroke="#2d2d2d" stroke-width="1.3"/><text x="99.3" y="27.7" font-size="17" fill="#111">2119</text>
<polygon points="185.5,178.5 125.0,283.3 246.0,283.3" fill="#fdfdfa"/>
<line x1="173.4" y1="199.5" x2="197.6" y2="199.5" stroke="#eeeaeb" stroke-width="0.8"/>
<line x1="149.2" y1="283.3" x2="197.6" y2="199.5" stroke="#eeeaeb" stroke-width="0.8"/>
<line x1="149.2" y1="283.3" x2="137.1" y2="262.3" stroke="#eeeaeb" stroke-width="0.8"/>
<line x1="161.3" y1="220.4" x2="209.7" y2="220.4" stroke="#eeeaeb" stroke-width="0.8"/>
<line x1="173.4" y1="283.3" x2="209.7" y2="220.4" stroke="#eeeaeb" stroke-width="0.8"/>
<line x1="173.4" y1="283.3" x2="149.2" y2="241.4" stroke="#eeeaeb" stroke-width="0.8"/>
<line x1="149.2" y1="241.4" x2="221.8" y2="241.4" stroke="#eeeaeb" stroke-width="0.8"/>
<line x1="197.6" y1="283.3" x2="221.8" y2="241.4" stroke="#eeeaeb" stroke-width="0.8"/>
<line x1="197.6" y1="283.3" x2="161.3" y2="220.4" stroke="#eeeaeb" stroke-width="0.8"/>
<line x1="137.1" y1="262.3" x2="233.9" y2="262.3" stroke="#eeeaeb" stroke-width="0.8"/>
<line x1="221.8" y1="283.3" x2="233.9" y2="262.3" stroke="#eeeaeb" stroke-width="0.8"/>
<line x1="221.8" y1="283.3" x2="173.4" y2="199.5" stroke="#eeeaeb" stroke-width="0.8"/>
<circle cx="185.0" cy="243.0" r="1.6" fill="#b98583"/>
<circle cx="218.0" cy="251.1" r="1.6" fill="#e27474"/>
<circle cx="213.6" cy="267.1" r="1.6" fill="#e27474"/>
<circle cx="178.6" cy="271.1" r="1.6" fill="#e27474"/>
<circle cx="203.0" cy="267.3" r="1.6" fill="#e27474"/>
<circle cx="188.1" cy="280.4" r="1.6" fill="#e27474"/>
<circle cx="192.1" cy="231.8" r="1.6" fill="#e27474"/>
<circle cx="205.2" cy="280.8" r="1.6" fill="#e27474"/>
<circle cx="171.0" cy="222.0" r="1.6" fill="#e27474"/>
<circle cx="213.3" cy="240.3" r="1.6" fill="#e27474"/>
<circle cx="202.4" cy="244.6" r="1.6" fill="#e27474"/>
<circle cx="192.3" cy="270.0" r="1.6" fill="#e27474"/>
<circle cx="226.8" cy="271.0" r="1.6" fill="#e27474"/>
<circle cx="187.5" cy="223.6" r="1.6" fill="#e27474"/>
<circle cx="168.8" cy="212.5" r="1.6" fill="#e27474"/>
<circle cx="207.9" cy="278.8" r="1.6" fill="#e27474"/>
<circle cx="216.4" cy="262.5" r="1.6" fill="#e27474"/>
<circle cx="208.5" cy="232.1" r="1.6" fill="#e27474"/>
<circle cx="202.0" cy="264.5" r="1.6" fill="#e27474"/>
<circle cx="193.8" cy="205.2" r="1.6" fill="#e27474"/>
<circle cx="184.1" cy="202.2" r="1.6" fill="#b98583"/>
<circle cx="193.7" cy="240.6" r="1.6" fill="#e27474"/>
<circle cx="185.3" cy="273.8" r="1.6" fill="#b98583"/>
<circle cx="154.2" cy="265.3" r="1.6" fill="#b98583"/>
<circle cx="164.4" cy="220.3" r="1.6" fill="#b98583"/>
<circle cx="177.8" cy="198.1" r="1.6" fill="#e27474"/>
<circle cx="184.4" cy="252.7" r="1.6" fill="#e27474"/>
<circle cx="202.2" cy="279.5" r="1.6" fill="#e27474"/>
<circle cx="166.9" cy="236.5" r="1.6" fill="#b98583"/>
<circle cx="218.0" cy="245.8" r="1.6" fill="#e27474"/>
<circle cx="200.1" cy="230.6" r="1.6" fill="#e27474"/>
<circle cx="167.7" cy="214.0" r="1.6" fill="#b98583"/>
<circle cx="189.9" cy="242.1" r="1.6" fill="#e27474"/>
<circle cx="192.9" cy="258.6" r="1.6" fill="#e27474"/>
<circle cx="152.0" cy="242.0" r="1.6" fill="#b98583"/>
<circle cx="178.4" cy="244.8" r="1.6" fill="#b98583"/>
<circle cx="163.4" cy="273.3" r="1.6" fill="#e27474"/>
<circle cx="182.4" cy="196.1" r="1.6" fill="#e27474"/>
<circle cx="158.7" cy="248.8" r="1.6" fill="#e27474"/>
<circle cx="203.4" cy="252.2" r="1.6" fill="#e27474"/>
<circle cx="183.2" cy="243.9" r="1.6" fill="#e27474"/>
<circle cx="173.1" cy="207.4" r="1.6" fill="#b98583"/>
<circle cx="205.7" cy="259.0" r="1.6" fill="#e27474"/>
<circle cx="164.1" cy="258.1" r="1.6" fill="#e27474"/>
<circle cx="177.6" cy="220.7" r="1.6" fill="#e27474"/>
<circle cx="192.3" cy="253.8" r="1.6" fill="#e27474"/>
<circle cx="175.9" cy="245.4" r="1.6" fill="#e27474"/>
<circle cx="207.4" cy="232.9" r="1.6" fill="#e27474"/>
<circle cx="169.0" cy="281.6" r="1.6" fill="#b98583"/>
<circle cx="168.6" cy="236.5" r="1.6" fill="#e27474"/>
<circle cx="172.7" cy="229.3" r="1.6" fill="#e27474"/>
<circle cx="156.1" cy="242.6" r="1.6" fill="#b98583"/>
<circle cx="200.2" cy="217.6" r="1.6" fill="#b98583"/>
<circle cx="156.3" cy="240.5" r="1.6" fill="#e27474"/>
<circle cx="206.5" cy="248.3" r="1.6" fill="#e27474"/>
<circle cx="138.3" cy="274.9" r="1.6" fill="#e27474"/>
<circle cx="191.2" cy="250.1" r="1.6" fill="#e27474"/>
<circle cx="211.9" cy="252.2" r="1.6" fill="#e27474"/>
<circle cx="199.2" cy="244.5" r="1.6" fill="#e27474"/>
<circle cx="178.7" cy="217.8" r="1.6" fill="#e27474"/>
<circle cx="174.0" cy="252.5" r="1.6" fill="#e27474"/>
<circle cx="172.5" cy="223.3" r="1.6" fill="#e27474"/>
<circle cx="192.6" cy="245.4" r="1.6" fill="#e27474"/>
<circle cx="162.6" cy="237.5" r="1.6" fill="#b98583"/>
<circle cx="167.7" cy="238.4" r="1.6" fill="#e27474"/>
<circle cx="210.8" cy="256.8" r="1.6" fill="#e27474"/>
<circle cx="212.2" cy="235.2" r="1.6" fill="#e27474"/>
<circle cx="182.3" cy="232.6" r="1.6" fill="#e27474"/>
<circle cx="193.9" cy="275.7" r="1.6" fill="#e27474"/>
<circle cx="209.6" cy="244.0" r="1.6" fill="#e27474"/>
<circle cx="167.4" cy="225.2" r="1.6" fill="#e27474"/>
<circle cx="189.3" cy="256.6" r="1.6" fill="#e27474"/>
<circle cx="155.6" cy="244.8" r="1.6" fill="#e27474"/>
<circle cx="175.8" cy="223.7" r="1.6" fill="#b98583"/>
<circle cx="188.8" cy="247.4" r="1.6" fill="#e27474"/>
<circle cx="231.3" cy="279.1" r="1.6" fill="#e27474"/>
<circle cx="206.7" cy="264.0" r="1.6" fill="#e27474"/>
<circle cx="198.8" cy="258.7" r="1.6" fill="#e27474"/>
<circle cx="154.1" cy="242.7" r="1.6" fill="#e27474"/>
<circle cx="190.1" cy="260.5" r="1.6" fill="#e27474"/>
<circle cx="224.4" cy="265.0" r="1.6" fill="#e27474"/>
<circle cx="176.3" cy="255.9" r="1.6" fill="#e27474"/>
<circle cx="149.9" cy="274.9" r="1.6" fill="#e27474"/>
<circle cx="204.3" cy="244.8" r="1.6" fill="#e27474"/>
<circle cx="190.8" cy="242.4" r="1.6" fill="#e27474"/>
<circle cx="190.7" cy="263.2" r="1.6" fill="#b98583"/>
<circle cx="180.5" cy="232.1" r="1.6" fill="#e27474"/>
<circle cx="162.3" cy="246.5" r="1.6" fill="#e27474"/>
<circle cx="199.9" cy="246.2" r="1.6" fill="#e27474"/>
<circle cx="191.3" cy="244.5" r="1.6" fill="#e27474"/>
<circle cx="205.0" cy="259.3" r="1.6" fill="#e27474"/>
<circle cx="168.7" cy="247.1" r="1.6" fill="#e27474"/>
<circle cx="159.9" cy="264.3" r="1.6" fill="#e27474"/>
<circle cx="186.0" cy="275.2" r="1.6" fill="#e27474"/>
<circle cx="149.7" cy="258.6" r="1.6" fill="#e27474"/>
<circle cx="237.7" cy="275.0" r="1.6" fill="#e27474"/>
<circle cx="208.7" cy="258.4" r="1.6" fill="#e27474"/>
<circle cx="182.3" cy="215.8" r="1.6" fill="#e27474"/>
<circle cx="208.5" cy="260.8" r="1.6" fill="#e27474"/>
<circle cx="229.7" cy="270.6" r="1.6" fill="#e27474"/>
<circle cx="180.7" cy="220.9" r="1.6" fill="#e27474"/>
<circle cx="183.8" cy="221.3" r="1.6" fill="#e27474"/>
<circle cx="183.3" cy="243.7" r="1.6" fill="#e27474"/>
<circle cx="201.5" cy="228.5" r="1.6" fill="#e27474"/>
<circle cx="180.9" cy="245.8" r="1.6" fill="#e27474"/>
<circle cx="226.9" cy="274.7" r="1.6" fill="#e27474"/>
<circle cx="197.4" cy="261.3" r="1.6" fill="#e27474"/>
<circle cx="160.6" cy="254.2" r="1.6" fill="#e27474"/>
<circle cx="132.0" cy="275.6" r="1.6" fill="#e27474"/>
<circle cx="179.9" cy="257.0" r="1.6" fill="#e27474"/>
<polygon points="185.5,178.5 125.0,283.3 246.0,283.3" fill="none" stroke="#2a2a2a" stroke-width="1.3" stroke-linejoin="miter"/>
<circle cx="174.2" cy="198.2" r="1.3" fill="#3fae5c"/>
<circle cx="142.7" cy="252.6" r="1.3" fill="#3fae5c"/>
<circle cx="141.5" cy="254.8" r="1.3" fill="#3fae5c"/>
<circle cx="182.7" cy="183.4" r="1.3" fill="#3fae5c"/>
<circle cx="128.6" cy="277.0" r="1.3" fill="#3fae5c"/>
<circle cx="146.3" cy="246.4" r="1.3" fill="#3fae5c"/>
<circle cx="132.5" cy="283.3" r="1.3" fill="#3fae5c"/>
<circle cx="142.4" cy="283.3" r="1.3" fill="#3fae5c"/>
<circle cx="227.9" cy="283.3" r="1.3" fill="#3fae5c"/>
<circle cx="177.0" cy="283.3" r="1.3" fill="#3fae5c"/>
<circle cx="219.2" cy="283.3" r="1.3" fill="#3fae5c"/>
<circle cx="141.1" cy="283.3" r="1.3" fill="#3fae5c"/>
<circle cx="188.3" cy="283.3" r="1.3" fill="#3fae5c"/>
<circle cx="227.3" cy="283.3" r="1.3" fill="#3fae5c"/>
<circle cx="206.8" cy="215.4" r="1.3" fill="#3fae5c"/>
<circle cx="203.0" cy="208.8" r="1.3" fill="#3fae5c"/>
<circle cx="188.1" cy="183.0" r="1.3" fill="#3fae5c"/>
<circle cx="232.2" cy="259.4" r="1.3" fill="#3fae5c"/>
<circle cx="242.7" cy="277.6" r="1.3" fill="#3fae5c"/>
<circle cx="199.6" cy="203.0" r="1.3" fill="#3fae5c"/>
<text x="200.8" y="201.0" font-size="5" fill="#8a8a8a" font-weight="normal">80</text><text transform="translate(168.4,199.5) rotate(-60)" font-size="5" fill="#8a8a8a" font-weight="normal" text-anchor="middle">20</text><text transform="translate(150.2,288.8) rotate(-60)" font-size="5" fill="#8a8a8a" font-weight="normal" text-anchor="middle">20</text><text x="212.9" y="221.9" font-size="5" fill="#8a8a8a" font-weight="normal">60</text><text transform="translate(156.3,220.4) rotate(-60)" font-size="5" fill="#8a8a8a" font-weight="normal" text-anchor="middle">40</text><text transform="translate(174.4,288.8) rotate(-60)" font-size="5" fill="#8a8a8a" font-weight="normal" text-anchor="middle">40</text><text x="225.0" y="242.9" font-size="5" fill="#8a8a8a" font-weight="normal">40</text><text transform="translate(144.2,241.4) rotate(-60)" font-size="5" fill="#8a8a8a" font-weight="normal" text-anchor="middle">60</text><text transform="translate(198.6,288.8) rotate(-60)" font-size="5" fill="#8a8a8a" font-weight="normal" text-anchor="middle">60</text><text x="237.1" y="263.8" font-size="5" fill="#8a8a8a" font-weight="normal">20</text><text transform="translate(132.1,262.3) rotate(-60)" font-size="5" fill="#8a8a8a" font-weight="normal" text-anchor="middle">80</text><text transform="translate(222.8,288.8) rotate(-60)" font-size="5" fill="#8a8a8a" font-weight="normal" text-anchor="middle">80</text><text x="186.5" y="179.5" font-size="4.8" fill="#8a8a8a" font-weight="normal">100</text><text transform="translate(122.0,284.3) rotate(-60)" font-size="4.8" fill="#8a8a8a" font-weight="normal" text-anchor="middle">100</text><text transform="translate(248.0,286.3) rotate(-60)" font-size="4.8" fill="#8a8a8a" font-weight="normal" text-anchor="middle">100</text>
<line x1="155.4" y1="203.9" x2="132.6" y2="241.9" stroke="#222" stroke-width="1.2"/><polygon points="130.3,245.8 131.0,240.4 132.9,241.5 134.8,242.6" fill="#222"/>
<line x1="239.7" y1="245.5" x2="217.6" y2="207.6" stroke="#222" stroke-width="1.2"/><polygon points="215.3,203.7 219.7,206.9 217.8,208.0 215.9,209.1" fill="#222"/>
<line x1="165.5" y1="295.5" x2="205.3" y2="295.5" stroke="#222" stroke-width="1.2"/><polygon points="209.8,295.5 204.8,297.7 204.8,295.5 204.8,293.3" fill="#222"/>
<text transform="translate(140.0,225.5) rotate(-60)" font-size="5" fill="#8f8f8f" font-weight="normal" text-anchor="middle">0</text>
<text transform="translate(231.0,225.5) rotate(60)" font-size="5" fill="#8f8f8f" font-weight="normal" text-anchor="middle">+</text>
<text x="185.5" y="300.3" font-size="5" fill="#8f8f8f" font-weight="normal" text-anchor="middle">5</text>
<text x="204.8" y="172.0" text-anchor="middle" font-size="11.4" fill="#2b5b37">Depth (40 cm)</text>
<text x="91.9" y="299.8" font-size="11.4" fill="#dc6c4a">Depth (20 cm)</text>
<text x="225.0" y="299.8" font-size="11.4" fill="#2a4587">Depth (60 cm)</text>
<rect x="93.2" y="164.6" width="52.2" height="27.4" fill="#a8c98a" stroke="#2d2d2d" stroke-width="1.3"/><text x="101.2" y="185.5" font-size="17" fill="#111">1658</text>
<polygon points="180.0,379.0 120.1,484.1 240.6,484.1" fill="#fdfdfa"/>
<line x1="168.0" y1="400.0" x2="192.1" y2="400.0" stroke="#eeeaeb" stroke-width="0.8"/>
<line x1="144.2" y1="484.1" x2="192.1" y2="400.0" stroke="#eeeaeb" stroke-width="0.8"/>
<line x1="144.2" y1="484.1" x2="132.1" y2="463.1" stroke="#eeeaeb" stroke-width="0.8"/>
<line x1="156.0" y1="421.0" x2="204.2" y2="421.0" stroke="#eeeaeb" stroke-width="0.8"/>
<line x1="168.3" y1="484.1" x2="204.2" y2="421.0" stroke="#eeeaeb" stroke-width="0.8"/>
<line x1="168.3" y1="484.1" x2="144.1" y2="442.1" stroke="#eeeaeb" stroke-width="0.8"/>
<line x1="144.1" y1="442.1" x2="216.4" y2="442.1" stroke="#eeeaeb" stroke-width="0.8"/>
<line x1="192.4" y1="484.1" x2="216.4" y2="442.1" stroke="#eeeaeb" stroke-width="0.8"/>
<line x1="192.4" y1="484.1" x2="156.0" y2="421.0" stroke="#eeeaeb" stroke-width="0.8"/>
<line x1="132.1" y1="463.1" x2="228.5" y2="463.1" stroke="#eeeaeb" stroke-width="0.8"/>
<line x1="216.5" y1="484.1" x2="228.5" y2="463.1" stroke="#eeeaeb" stroke-width="0.8"/>
<line x1="216.5" y1="484.1" x2="168.0" y2="400.0" stroke="#eeeaeb" stroke-width="0.8"/>
<circle cx="163.0" cy="426.9" r="1.6" fill="#e27474"/>
<circle cx="178.0" cy="446.8" r="1.6" fill="#e27474"/>
<circle cx="194.7" cy="438.9" r="1.6" fill="#e27474"/>
<circle cx="202.6" cy="445.7" r="1.6" fill="#e27474"/>
<circle cx="189.2" cy="452.5" r="1.6" fill="#e27474"/>
<circle cx="176.8" cy="450.8" r="1.6" fill="#e27474"/>
<circle cx="181.5" cy="433.7" r="1.6" fill="#e27474"/>
<circle cx="178.0" cy="415.7" r="1.6" fill="#b98583"/>
<circle cx="189.0" cy="401.8" r="1.6" fill="#e27474"/>
<circle cx="161.6" cy="456.1" r="1.6" fill="#e27474"/>
<circle cx="165.4" cy="440.5" r="1.6" fill="#e27474"/>
<circle cx="180.0" cy="417.7" r="1.6" fill="#e27474"/>
<circle cx="184.8" cy="430.3" r="1.6" fill="#e27474"/>
<circle cx="179.0" cy="466.4" r="1.6" fill="#e27474"/>
<circle cx="157.5" cy="463.1" r="1.6" fill="#e27474"/>
<circle cx="211.3" cy="459.8" r="1.6" fill="#b98583"/>
<circle cx="231.0" cy="471.6" r="1.6" fill="#e27474"/>
<circle cx="174.7" cy="452.0" r="1.6" fill="#e27474"/>
<circle cx="179.5" cy="463.4" r="1.6" fill="#e27474"/>
<circle cx="133.5" cy="479.6" r="1.6" fill="#e27474"/>
<circle cx="184.9" cy="435.6" r="1.6" fill="#e27474"/>
<circle cx="211.1" cy="464.3" r="1.6" fill="#e27474"/>
<circle cx="178.3" cy="429.6" r="1.6" fill="#e27474"/>
<circle cx="162.9" cy="448.2" r="1.6" fill="#e27474"/>
<circle cx="183.3" cy="452.0" r="1.6" fill="#e27474"/>
<circle cx="163.1" cy="424.9" r="1.6" fill="#e27474"/>
<circle cx="153.7" cy="444.9" r="1.6" fill="#e27474"/>
<circle cx="191.3" cy="453.3" r="1.6" fill="#b98583"/>
<circle cx="216.5" cy="450.0" r="1.6" fill="#e27474"/>
<circle cx="198.3" cy="462.5" r="1.6" fill="#e27474"/>
<circle cx="146.5" cy="445.3" r="1.6" fill="#e27474"/>
<circle cx="190.6" cy="402.9" r="1.6" fill="#e27474"/>
<circle cx="170.0" cy="454.1" r="1.6" fill="#e27474"/>
<circle cx="176.8" cy="464.4" r="1.6" fill="#e27474"/>
<circle cx="180.9" cy="450.3" r="1.6" fill="#e27474"/>
<circle cx="186.8" cy="442.7" r="1.6" fill="#e27474"/>
<circle cx="187.2" cy="434.7" r="1.6" fill="#e27474"/>
<circle cx="185.5" cy="428.4" r="1.6" fill="#e27474"/>
<circle cx="162.3" cy="443.6" r="1.6" fill="#e27474"/>
<circle cx="195.2" cy="443.7" r="1.6" fill="#e27474"/>
<circle cx="140.3" cy="462.4" r="1.6" fill="#e27474"/>
<circle cx="179.9" cy="465.5" r="1.6" fill="#e27474"/>
<circle cx="171.7" cy="430.4" r="1.6" fill="#e27474"/>
<circle cx="208.5" cy="460.7" r="1.6" fill="#e27474"/>
<circle cx="218.6" cy="460.2" r="1.6" fill="#e27474"/>
<circle cx="186.1" cy="398.9" r="1.6" fill="#e27474"/>
<circle cx="181.4" cy="415.6" r="1.6" fill="#e27474"/>
<circle cx="161.1" cy="420.0" r="1.6" fill="#e27474"/>
<circle cx="162.9" cy="448.7" r="1.6" fill="#e27474"/>
<circle cx="200.1" cy="461.9" r="1.6" fill="#e27474"/>
<circle cx="193.5" cy="480.3" r="1.6" fill="#e27474"/>
<circle cx="190.3" cy="435.2" r="1.6" fill="#e27474"/>
<circle cx="181.9" cy="420.9" r="1.6" fill="#e27474"/>
<circle cx="201.5" cy="445.1" r="1.6" fill="#b98583"/>
<circle cx="160.8" cy="455.9" r="1.6" fill="#e27474"/>
<circle cx="181.9" cy="449.2" r="1.6" fill="#b98583"/>
<circle cx="224.8" cy="471.0" r="1.6" fill="#e27474"/>
<circle cx="157.9" cy="431.3" r="1.6" fill="#e27474"/>
<circle cx="174.9" cy="456.9" r="1.6" fill="#e27474"/>
<circle cx="179.4" cy="437.4" r="1.6" fill="#e27474"/>
<circle cx="184.8" cy="465.3" r="1.6" fill="#e27474"/>
<circle cx="169.2" cy="472.9" r="1.6" fill="#e27474"/>
<circle cx="172.0" cy="464.0" r="1.6" fill="#e27474"/>
<circle cx="206.2" cy="456.2" r="1.6" fill="#e27474"/>
<circle cx="189.6" cy="451.7" r="1.6" fill="#e27474"/>
<circle cx="196.2" cy="418.9" r="1.6" fill="#e27474"/>
<circle cx="194.2" cy="445.9" r="1.6" fill="#e27474"/>
<circle cx="188.6" cy="464.5" r="1.6" fill="#e27474"/>
<circle cx="218.1" cy="463.8" r="1.6" fill="#e27474"/>
<circle cx="188.3" cy="402.7" r="1.6" fill="#b98583"/>
<circle cx="134.4" cy="471.5" r="1.6" fill="#b98583"/>
<circle cx="185.3" cy="448.0" r="1.6" fill="#e27474"/>
<circle cx="191.4" cy="451.3" r="1.6" fill="#e27474"/>
<circle cx="165.6" cy="434.8" r="1.6" fill="#e27474"/>
<circle cx="167.6" cy="448.9" r="1.6" fill="#e27474"/>
<circle cx="201.1" cy="449.0" r="1.6" fill="#e27474"/>
<circle cx="169.9" cy="460.4" r="1.6" fill="#b98583"/>
<circle cx="173.9" cy="431.2" r="1.6" fill="#e27474"/>
<circle cx="192.5" cy="451.6" r="1.6" fill="#e27474"/>
<circle cx="192.5" cy="474.9" r="1.6" fill="#e27474"/>
<circle cx="144.6" cy="474.0" r="1.6" fill="#e27474"/>
<circle cx="184.8" cy="476.1" r="1.6" fill="#e27474"/>
<circle cx="158.0" cy="463.2" r="1.6" fill="#e27474"/>
<circle cx="216.3" cy="451.6" r="1.6" fill="#e27474"/>
<circle cx="177.3" cy="479.4" r="1.6" fill="#e27474"/>
<circle cx="224.6" cy="461.2" r="1.6" fill="#e27474"/>
<circle cx="159.2" cy="441.5" r="1.6" fill="#e27474"/>
<circle cx="203.7" cy="465.7" r="1.6" fill="#e27474"/>
<circle cx="200.1" cy="468.6" r="1.6" fill="#e27474"/>
<circle cx="174.9" cy="473.0" r="1.6" fill="#e27474"/>
<circle cx="165.0" cy="447.7" r="1.6" fill="#e27474"/>
<circle cx="171.6" cy="415.5" r="1.6" fill="#e27474"/>
<circle cx="202.4" cy="456.9" r="1.6" fill="#e27474"/>
<circle cx="183.7" cy="438.3" r="1.6" fill="#e27474"/>
<circle cx="173.0" cy="423.5" r="1.6" fill="#b98583"/>
<circle cx="145.2" cy="466.6" r="1.6" fill="#e27474"/>
<circle cx="183.5" cy="450.4" r="1.6" fill="#e27474"/>
<circle cx="186.6" cy="461.6" r="1.6" fill="#e27474"/>
<circle cx="174.6" cy="466.8" r="1.6" fill="#b98583"/>
<circle cx="186.7" cy="414.2" r="1.6" fill="#e27474"/>
<circle cx="197.6" cy="460.2" r="1.6" fill="#e27474"/>
<circle cx="222.0" cy="467.8" r="1.6" fill="#e27474"/>
<circle cx="173.3" cy="423.5" r="1.6" fill="#e27474"/>
<circle cx="168.2" cy="432.2" r="1.6" fill="#e27474"/>
<circle cx="192.1" cy="459.8" r="1.6" fill="#e27474"/>
<circle cx="166.4" cy="413.8" r="1.6" fill="#e27474"/>
<circle cx="205.8" cy="461.3" r="1.6" fill="#e27474"/>
<circle cx="150.2" cy="476.9" r="1.6" fill="#e27474"/>
<circle cx="200.8" cy="450.5" r="1.6" fill="#e27474"/>
<circle cx="183.0" cy="445.8" r="1.6" fill="#e27474"/>
<polygon points="180.0,379.0 120.1,484.1 240.6,484.1" fill="none" stroke="#2a2a2a" stroke-width="1.3" stroke-linejoin="miter"/>
<circle cx="138.3" cy="452.1" r="1.3" fill="#3fae5c"/>
<circle cx="149.2" cy="433.1" r="1.3" fill="#3fae5c"/>
<circle cx="127.6" cy="471.0" r="1.3" fill="#3fae5c"/>
<circle cx="123.4" cy="478.3" r="1.3" fill="#3fae5c"/>
<circle cx="153.2" cy="426.1" r="1.3" fill="#3fae5c"/>
<circle cx="162.6" cy="484.1" r="1.3" fill="#3fae5c"/>
<circle cx="222.1" cy="484.1" r="1.3" fill="#3fae5c"/>
<circle cx="133.6" cy="484.1" r="1.3" fill="#3fae5c"/>
<circle cx="152.7" cy="484.1" r="1.3" fill="#3fae5c"/>
<circle cx="199.3" cy="412.5" r="1.3" fill="#3fae5c"/>
<circle cx="206.4" cy="424.8" r="1.3" fill="#3fae5c"/>
<circle cx="185.5" cy="388.5" r="1.3" fill="#3fae5c"/>
<circle cx="233.8" cy="472.3" r="1.3" fill="#3fae5c"/>
<text x="195.3" y="401.5" font-size="5" fill="#8a8a8a" font-weight="normal">80</text><text transform="translate(163.0,400.0) rotate(-60)" font-size="5" fill="#8a8a8a" font-weight="normal" text-anchor="middle">20</text><text transform="translate(145.2,489.6) rotate(-60)" font-size="5" fill="#8a8a8a" font-weight="normal" text-anchor="middle">20</text><text x="207.4" y="422.5" font-size="5" fill="#8a8a8a" font-weight="normal">60</text><text transform="translate(151.0,421.0) rotate(-60)" font-size="5" fill="#8a8a8a" font-weight="normal" text-anchor="middle">40</text><text transform="translate(169.3,489.6) rotate(-60)" font-size="5" fill="#8a8a8a" font-weight="normal" text-anchor="middle">40</text><text x="219.6" y="443.6" font-size="5" fill="#8a8a8a" font-weight="normal">40</text><text transform="translate(139.1,442.1) rotate(-60)" font-size="5" fill="#8a8a8a" font-weight="normal" text-anchor="middle">60</text><text transform="translate(193.4,489.6) rotate(-60)" font-size="5" fill="#8a8a8a" font-weight="normal" text-anchor="middle">60</text><text x="231.7" y="464.6" font-size="5" fill="#8a8a8a" font-weight="normal">20</text><text transform="translate(127.1,463.1) rotate(-60)" font-size="5" fill="#8a8a8a" font-weight="normal" text-anchor="middle">80</text><text transform="translate(217.5,489.6) rotate(-60)" font-size="5" fill="#8a8a8a" font-weight="normal" text-anchor="middle">80</text><text x="181.0" y="380.0" font-size="4.8" fill="#8a8a8a" font-weight="normal">100</text><text transform="translate(117.1,485.1) rotate(-60)" font-size="4.8" fill="#8a8a8a" font-weight="normal" text-anchor="middle">100</text><text transform="translate(242.6,487.1) rotate(-60)" font-size="4.8" fill="#8a8a8a" font-weight="normal" text-anchor="middle">100</text>
<line x1="149.9" y1="404.4" x2="127.1" y2="442.4" stroke="#222" stroke-width="1.2"/><polygon points="124.8,446.3 125.5,440.9 127.4,442.0 129.3,443.1" fill="#222"/>
<line x1="234.2" y1="446.0" x2="212.1" y2="408.1" stroke="#222" stroke-width="1.2"/><polygon points="209.8,404.2 214.2,407.4 212.3,408.5 210.4,409.6" fill="#222"/>
<line x1="160.0" y1="494.7" x2="199.8" y2="494.7" stroke="#222" stroke-width="1.2"/><polygon points="204.3,494.7 199.3,496.9 199.3,494.7 199.3,492.5" fill="#222"/>
<text transform="translate(134.5,426.0) rotate(-60)" font-size="5" fill="#8f8f8f" font-weight="normal" text-anchor="middle">0</text>
<text transform="translate(225.5,426.0) rotate(60)" font-size="5" fill="#8f8f8f" font-weight="normal" text-anchor="middle">+</text>
<text x="180.0" y="499.5" font-size="5" fill="#8f8f8f" font-weight="normal" text-anchor="middle">5</text>
<text x="201.0" y="371.3" text-anchor="middle" font-size="11.4" fill="#2b5b37">Depth (40 cm)</text>
<text x="87.5" y="499.0" font-size="11.4" fill="#dc6c4a">Depth (20 cm)</text>
<text x="220.7" y="499.0" font-size="11.4" fill="#2a4587">Depth (60 cm)</text>
<rect x="92.2" y="373.8" width="51.8" height="26.8" fill="#a8c98a" stroke="#2d2d2d" stroke-width="1.3"/><text x="100.2" y="394.4" font-size="17" fill="#111">1512</text>
<polygon points="181.5,563.0 121.3,668.5 242.4,668.5" fill="#fdfdfa"/>
<line x1="169.5" y1="584.1" x2="193.7" y2="584.1" stroke="#eeeaeb" stroke-width="0.8"/>
<line x1="145.5" y1="668.5" x2="193.7" y2="584.1" stroke="#eeeaeb" stroke-width="0.8"/>
<line x1="145.5" y1="668.5" x2="133.3" y2="647.4" stroke="#eeeaeb" stroke-width="0.8"/>
<line x1="157.4" y1="605.2" x2="205.9" y2="605.2" stroke="#eeeaeb" stroke-width="0.8"/>
<line x1="169.7" y1="668.5" x2="205.9" y2="605.2" stroke="#eeeaeb" stroke-width="0.8"/>
<line x1="169.7" y1="668.5" x2="145.4" y2="626.3" stroke="#eeeaeb" stroke-width="0.8"/>
<line x1="145.4" y1="626.3" x2="218.0" y2="626.3" stroke="#eeeaeb" stroke-width="0.8"/>
<line x1="194.0" y1="668.5" x2="218.0" y2="626.3" stroke="#eeeaeb" stroke-width="0.8"/>
<line x1="194.0" y1="668.5" x2="157.4" y2="605.2" stroke="#eeeaeb" stroke-width="0.8"/>
<line x1="133.3" y1="647.4" x2="230.2" y2="647.4" stroke="#eeeaeb" stroke-width="0.8"/>
<line x1="218.2" y1="668.5" x2="230.2" y2="647.4" stroke="#eeeaeb" stroke-width="0.8"/>
<line x1="218.2" y1="668.5" x2="169.5" y2="584.1" stroke="#eeeaeb" stroke-width="0.8"/>
<circle cx="188.2" cy="657.6" r="1.6" fill="#e27474"/>
<circle cx="196.0" cy="605.4" r="1.6" fill="#e27474"/>
<circle cx="154.9" cy="629.8" r="1.6" fill="#e27474"/>
<circle cx="210.0" cy="657.3" r="1.6" fill="#e27474"/>
<circle cx="210.5" cy="622.5" r="1.6" fill="#e27474"/>
<circle cx="187.2" cy="629.1" r="1.6" fill="#e27474"/>
<circle cx="155.7" cy="612.8" r="1.6" fill="#e27474"/>
<circle cx="156.2" cy="624.8" r="1.6" fill="#b98583"/>
<circle cx="193.1" cy="618.7" r="1.6" fill="#e27474"/>
<circle cx="194.1" cy="652.2" r="1.6" fill="#e27474"/>
<circle cx="162.8" cy="625.6" r="1.6" fill="#e27474"/>
<circle cx="163.7" cy="663.6" r="1.6" fill="#e27474"/>
<circle cx="188.3" cy="649.9" r="1.6" fill="#e27474"/>
<circle cx="192.7" cy="625.0" r="1.6" fill="#e27474"/>
<circle cx="172.5" cy="600.5" r="1.6" fill="#e27474"/>
<circle cx="183.8" cy="626.9" r="1.6" fill="#b98583"/>
<circle cx="181.5" cy="643.7" r="1.6" fill="#e27474"/>
<circle cx="176.0" cy="649.8" r="1.6" fill="#b98583"/>
<circle cx="193.1" cy="598.3" r="1.6" fill="#e27474"/>
<circle cx="171.9" cy="619.0" r="1.6" fill="#e27474"/>
<circle cx="194.4" cy="627.5" r="1.6" fill="#e27474"/>
<circle cx="160.4" cy="622.2" r="1.6" fill="#e27474"/>
<circle cx="152.1" cy="645.7" r="1.6" fill="#e27474"/>
<circle cx="171.5" cy="666.6" r="1.6" fill="#e27474"/>
<circle cx="218.6" cy="662.7" r="1.6" fill="#e27474"/>
<circle cx="180.5" cy="664.2" r="1.6" fill="#e27474"/>
<circle cx="155.6" cy="617.9" r="1.6" fill="#e27474"/>
<circle cx="172.4" cy="613.3" r="1.6" fill="#e27474"/>
<circle cx="166.9" cy="615.4" r="1.6" fill="#e27474"/>
<circle cx="197.5" cy="623.4" r="1.6" fill="#b98583"/>
<circle cx="202.4" cy="642.9" r="1.6" fill="#e27474"/>
<circle cx="175.0" cy="630.0" r="1.6" fill="#e27474"/>
<circle cx="173.1" cy="615.5" r="1.6" fill="#e27474"/>
<circle cx="210.9" cy="626.2" r="1.6" fill="#e27474"/>
<circle cx="179.1" cy="585.3" r="1.6" fill="#e27474"/>
<circle cx="164.4" cy="647.3" r="1.6" fill="#e27474"/>
<circle cx="200.5" cy="625.0" r="1.6" fill="#e27474"/>
<circle cx="189.3" cy="636.3" r="1.6" fill="#e27474"/>
<circle cx="200.2" cy="665.2" r="1.6" fill="#b98583"/>
<circle cx="168.0" cy="630.0" r="1.6" fill="#e27474"/>
<circle cx="180.5" cy="633.4" r="1.6" fill="#e27474"/>
<circle cx="186.9" cy="625.0" r="1.6" fill="#e27474"/>
<circle cx="208.4" cy="657.1" r="1.6" fill="#e27474"/>
<circle cx="178.8" cy="629.0" r="1.6" fill="#e27474"/>
<circle cx="194.2" cy="617.5" r="1.6" fill="#e27474"/>
<circle cx="170.5" cy="644.0" r="1.6" fill="#b98583"/>
<circle cx="188.0" cy="630.1" r="1.6" fill="#e27474"/>
<circle cx="197.5" cy="630.1" r="1.6" fill="#e27474"/>
<circle cx="179.8" cy="625.8" r="1.6" fill="#b98583"/>
<circle cx="189.3" cy="617.5" r="1.6" fill="#e27474"/>
<circle cx="189.3" cy="632.6" r="1.6" fill="#e27474"/>
<circle cx="180.1" cy="594.9" r="1.6" fill="#e27474"/>
<circle cx="173.5" cy="652.7" r="1.6" fill="#e27474"/>
<circle cx="187.3" cy="610.4" r="1.6" fill="#b98583"/>
<circle cx="152.5" cy="620.5" r="1.6" fill="#e27474"/>
<circle cx="168.4" cy="621.7" r="1.6" fill="#e27474"/>
<circle cx="213.9" cy="644.6" r="1.6" fill="#e27474"/>
<circle cx="208.5" cy="654.5" r="1.6" fill="#e27474"/>
<circle cx="185.9" cy="598.6" r="1.6" fill="#b98583"/>
<circle cx="172.3" cy="650.0" r="1.6" fill="#e27474"/>
<circle cx="162.0" cy="618.5" r="1.6" fill="#e27474"/>
<circle cx="163.0" cy="599.5" r="1.6" fill="#e27474"/>
<circle cx="126.2" cy="666.4" r="1.6" fill="#e27474"/>
<circle cx="155.9" cy="624.6" r="1.6" fill="#e27474"/>
<circle cx="181.9" cy="631.7" r="1.6" fill="#e27474"/>
<circle cx="193.3" cy="626.2" r="1.6" fill="#e27474"/>
<circle cx="225.8" cy="664.7" r="1.6" fill="#e27474"/>
<circle cx="188.8" cy="644.2" r="1.6" fill="#e27474"/>
<circle cx="186.2" cy="619.1" r="1.6" fill="#e27474"/>
<circle cx="163.9" cy="637.6" r="1.6" fill="#b98583"/>
<circle cx="177.3" cy="620.0" r="1.6" fill="#e27474"/>
<circle cx="193.8" cy="663.3" r="1.6" fill="#e27474"/>
<circle cx="200.3" cy="646.0" r="1.6" fill="#b98583"/>
<circle cx="186.3" cy="586.4" r="1.6" fill="#e27474"/>
<circle cx="165.6" cy="625.8" r="1.6" fill="#e27474"/>
<circle cx="191.4" cy="613.2" r="1.6" fill="#b98583"/>
<circle cx="208.4" cy="635.1" r="1.6" fill="#b98583"/>
<circle cx="145.6" cy="642.8" r="1.6" fill="#e27474"/>
<circle cx="210.8" cy="638.1" r="1.6" fill="#e27474"/>
<circle cx="201.8" cy="653.7" r="1.6" fill="#e27474"/>
<circle cx="185.4" cy="640.4" r="1.6" fill="#e27474"/>
<circle cx="162.2" cy="634.4" r="1.6" fill="#e27474"/>
<circle cx="169.2" cy="642.1" r="1.6" fill="#e27474"/>
<circle cx="186.7" cy="576.0" r="1.6" fill="#e27474"/>
<circle cx="154.9" cy="631.1" r="1.6" fill="#e27474"/>
<circle cx="169.5" cy="659.0" r="1.6" fill="#e27474"/>
<circle cx="159.5" cy="642.5" r="1.6" fill="#e27474"/>
<circle cx="161.4" cy="609.0" r="1.6" fill="#e27474"/>
<circle cx="202.0" cy="641.8" r="1.6" fill="#e27474"/>
<circle cx="159.7" cy="651.7" r="1.6" fill="#e27474"/>
<circle cx="191.3" cy="614.2" r="1.6" fill="#e27474"/>
<circle cx="151.0" cy="659.9" r="1.6" fill="#e27474"/>
<circle cx="197.8" cy="644.8" r="1.6" fill="#e27474"/>
<circle cx="218.0" cy="645.5" r="1.6" fill="#e27474"/>
<circle cx="220.1" cy="666.2" r="1.6" fill="#e27474"/>
<circle cx="187.3" cy="652.0" r="1.6" fill="#e27474"/>
<circle cx="193.6" cy="591.2" r="1.6" fill="#e27474"/>
<circle cx="190.1" cy="601.0" r="1.6" fill="#e27474"/>
<circle cx="165.9" cy="639.0" r="1.6" fill="#e27474"/>
<circle cx="203.6" cy="606.5" r="1.6" fill="#e27474"/>
<circle cx="157.1" cy="642.0" r="1.6" fill="#e27474"/>
<circle cx="183.4" cy="644.0" r="1.6" fill="#b98583"/>
<circle cx="181.6" cy="620.6" r="1.6" fill="#e27474"/>
<circle cx="224.6" cy="657.7" r="1.6" fill="#e27474"/>
<circle cx="158.2" cy="634.5" r="1.6" fill="#b98583"/>
<circle cx="188.6" cy="593.3" r="1.6" fill="#e27474"/>
<circle cx="211.2" cy="658.8" r="1.6" fill="#e27474"/>
<circle cx="188.3" cy="617.4" r="1.6" fill="#b98583"/>
<circle cx="177.4" cy="588.8" r="1.6" fill="#b98583"/>
<circle cx="160.7" cy="640.4" r="1.6" fill="#e27474"/>
<polygon points="181.5,563.0 121.3,668.5 242.4,668.5" fill="none" stroke="#2a2a2a" stroke-width="1.3" stroke-linejoin="miter"/>
<circle cx="141.7" cy="632.8" r="1.3" fill="#3fae5c"/>
<circle cx="121.7" cy="667.8" r="1.3" fill="#3fae5c"/>
<circle cx="127.4" cy="657.9" r="1.3" fill="#3fae5c"/>
<circle cx="136.5" cy="641.8" r="1.3" fill="#3fae5c"/>
<circle cx="203.2" cy="668.5" r="1.3" fill="#3fae5c"/>
<circle cx="153.1" cy="668.5" r="1.3" fill="#3fae5c"/>
<circle cx="193.2" cy="668.5" r="1.3" fill="#3fae5c"/>
<circle cx="197.8" cy="668.5" r="1.3" fill="#3fae5c"/>
<circle cx="210.4" cy="668.5" r="1.3" fill="#3fae5c"/>
<circle cx="191.0" cy="579.5" r="1.3" fill="#3fae5c"/>
<circle cx="182.3" cy="564.4" r="1.3" fill="#3fae5c"/>
<circle cx="232.5" cy="651.4" r="1.3" fill="#3fae5c"/>
<circle cx="196.4" cy="588.8" r="1.3" fill="#3fae5c"/>
<circle cx="239.4" cy="663.3" r="1.3" fill="#3fae5c"/>
<circle cx="239.1" cy="662.9" r="1.3" fill="#3fae5c"/>
<circle cx="232.6" cy="651.6" r="1.3" fill="#3fae5c"/>
<circle cx="185.2" cy="569.4" r="1.3" fill="#3fae5c"/>
<text x="196.9" y="585.6" font-size="5" fill="#8a8a8a" font-weight="normal">80</text><text transform="translate(164.5,584.1) rotate(-60)" font-size="5" fill="#8a8a8a" font-weight="normal" text-anchor="middle">20</text><text transform="translate(146.5,674.0) rotate(-60)" font-size="5" fill="#8a8a8a" font-weight="normal" text-anchor="middle">20</text><text x="209.1" y="606.7" font-size="5" fill="#8a8a8a" font-weight="normal">60</text><text transform="translate(152.4,605.2) rotate(-60)" font-size="5" fill="#8a8a8a" font-weight="normal" text-anchor="middle">40</text><text transform="translate(170.7,674.0) rotate(-60)" font-size="5" fill="#8a8a8a" font-weight="normal" text-anchor="middle">40</text><text x="221.2" y="627.8" font-size="5" fill="#8a8a8a" font-weight="normal">40</text><text transform="translate(140.4,626.3) rotate(-60)" font-size="5" fill="#8a8a8a" font-weight="normal" text-anchor="middle">60</text><text transform="translate(195.0,674.0) rotate(-60)" font-size="5" fill="#8a8a8a" font-weight="normal" text-anchor="middle">60</text><text x="233.4" y="648.9" font-size="5" fill="#8a8a8a" font-weight="normal">20</text><text transform="translate(128.3,647.4) rotate(-60)" font-size="5" fill="#8a8a8a" font-weight="normal" text-anchor="middle">80</text><text transform="translate(219.2,674.0) rotate(-60)" font-size="5" fill="#8a8a8a" font-weight="normal" text-anchor="middle">80</text><text x="182.5" y="564.0" font-size="4.8" fill="#8a8a8a" font-weight="normal">100</text><text transform="translate(118.3,669.5) rotate(-60)" font-size="4.8" fill="#8a8a8a" font-weight="normal" text-anchor="middle">100</text><text transform="translate(244.4,671.5) rotate(-60)" font-size="4.8" fill="#8a8a8a" font-weight="normal" text-anchor="middle">100</text>
<line x1="151.4" y1="588.4" x2="128.6" y2="626.4" stroke="#222" stroke-width="1.2"/><polygon points="126.3,630.3 127.0,624.9 128.9,626.0 130.8,627.1" fill="#222"/>
<line x1="235.7" y1="630.0" x2="213.6" y2="592.1" stroke="#222" stroke-width="1.2"/><polygon points="211.3,588.2 215.7,591.4 213.8,592.5 211.9,593.6" fill="#222"/>
<line x1="161.5" y1="679.9" x2="201.3" y2="679.9" stroke="#222" stroke-width="1.2"/><polygon points="205.8,679.9 200.8,682.1 200.8,679.9 200.8,677.7" fill="#222"/>
<text transform="translate(136.0,610.0) rotate(-60)" font-size="5" fill="#8f8f8f" font-weight="normal" text-anchor="middle">0</text>
<text transform="translate(227.0,610.0) rotate(60)" font-size="5" fill="#8f8f8f" font-weight="normal" text-anchor="middle">+</text>
<text x="181.5" y="684.7" font-size="5" fill="#8f8f8f" font-weight="normal" text-anchor="middle">5</text>
<text x="204.8" y="555.9" text-anchor="middle" font-size="11.4" fill="#2b5b37">Depth (40 cm)</text>
<text x="90.2" y="684.2" font-size="11.4" fill="#dc6c4a">Depth (20 cm)</text>
<text x="223.5" y="684.2" font-size="11.4" fill="#2a4587">Depth (60 cm)</text>
<rect x="91.9" y="553.8" width="52.7" height="27.3" fill="#a8c98a" stroke="#2d2d2d" stroke-width="1.3"/><text x="99.9" y="574.7" font-size="17" fill="#111">1073</text>
<polygon points="184.9,743.4 123.8,847.9 245.4,847.9" fill="#fdfdfa"/>
<line x1="172.7" y1="764.3" x2="197.0" y2="764.3" stroke="#eeeaeb" stroke-width="0.8"/>
<line x1="148.1" y1="847.9" x2="197.0" y2="764.3" stroke="#eeeaeb" stroke-width="0.8"/>
<line x1="148.1" y1="847.9" x2="136.0" y2="827.0" stroke="#eeeaeb" stroke-width="0.8"/>
<line x1="160.5" y1="785.2" x2="209.1" y2="785.2" stroke="#eeeaeb" stroke-width="0.8"/>
<line x1="172.4" y1="847.9" x2="209.1" y2="785.2" stroke="#eeeaeb" stroke-width="0.8"/>
<line x1="172.4" y1="847.9" x2="148.2" y2="806.1" stroke="#eeeaeb" stroke-width="0.8"/>
<line x1="148.2" y1="806.1" x2="221.2" y2="806.1" stroke="#eeeaeb" stroke-width="0.8"/>
<line x1="196.8" y1="847.9" x2="221.2" y2="806.1" stroke="#eeeaeb" stroke-width="0.8"/>
<line x1="196.8" y1="847.9" x2="160.5" y2="785.2" stroke="#eeeaeb" stroke-width="0.8"/>
<line x1="136.0" y1="827.0" x2="233.3" y2="827.0" stroke="#eeeaeb" stroke-width="0.8"/>
<line x1="221.1" y1="847.9" x2="233.3" y2="827.0" stroke="#eeeaeb" stroke-width="0.8"/>
<line x1="221.1" y1="847.9" x2="172.7" y2="764.3" stroke="#eeeaeb" stroke-width="0.8"/>
<circle cx="223.0" cy="815.0" r="1.6" fill="#e27474"/>
<circle cx="185.5" cy="809.6" r="1.6" fill="#e27474"/>
<circle cx="234.2" cy="836.1" r="1.6" fill="#b98583"/>
<circle cx="159.1" cy="812.9" r="1.6" fill="#e27474"/>
<circle cx="198.3" cy="825.3" r="1.6" fill="#e27474"/>
<circle cx="192.6" cy="783.4" r="1.6" fill="#b98583"/>
<circle cx="169.6" cy="810.3" r="1.6" fill="#e27474"/>
<circle cx="140.6" cy="824.5" r="1.6" fill="#e27474"/>
<circle cx="173.1" cy="776.6" r="1.6" fill="#e27474"/>
<circle cx="217.6" cy="830.6" r="1.6" fill="#b98583"/>
<circle cx="174.8" cy="821.4" r="1.6" fill="#e27474"/>
<circle cx="168.4" cy="821.6" r="1.6" fill="#e27474"/>
<circle cx="187.5" cy="811.5" r="1.6" fill="#e27474"/>
<circle cx="190.4" cy="762.3" r="1.6" fill="#e27474"/>
<circle cx="184.2" cy="775.1" r="1.6" fill="#e27474"/>
<circle cx="189.4" cy="798.2" r="1.6" fill="#b98583"/>
<circle cx="131.6" cy="842.2" r="1.6" fill="#e27474"/>
<circle cx="186.4" cy="799.3" r="1.6" fill="#e27474"/>
<circle cx="172.1" cy="819.3" r="1.6" fill="#e27474"/>
<circle cx="152.6" cy="832.3" r="1.6" fill="#e27474"/>
<circle cx="183.1" cy="824.3" r="1.6" fill="#e27474"/>
<circle cx="189.7" cy="831.3" r="1.6" fill="#b98583"/>
<circle cx="168.6" cy="793.1" r="1.6" fill="#e27474"/>
<circle cx="223.1" cy="819.9" r="1.6" fill="#e27474"/>
<circle cx="163.0" cy="798.5" r="1.6" fill="#e27474"/>
<circle cx="166.6" cy="818.8" r="1.6" fill="#e27474"/>
<circle cx="177.5" cy="794.1" r="1.6" fill="#e27474"/>
<circle cx="191.5" cy="828.0" r="1.6" fill="#e27474"/>
<circle cx="211.2" cy="828.0" r="1.6" fill="#e27474"/>
<circle cx="174.9" cy="771.9" r="1.6" fill="#e27474"/>
<circle cx="205.1" cy="825.5" r="1.6" fill="#e27474"/>
<circle cx="204.3" cy="812.4" r="1.6" fill="#e27474"/>
<circle cx="186.3" cy="794.2" r="1.6" fill="#e27474"/>
<circle cx="199.5" cy="842.2" r="1.6" fill="#e27474"/>
<circle cx="181.8" cy="790.7" r="1.6" fill="#e27474"/>
<circle cx="206.5" cy="803.0" r="1.6" fill="#e27474"/>
<circle cx="192.0" cy="810.7" r="1.6" fill="#e27474"/>
<circle cx="220.1" cy="831.5" r="1.6" fill="#e27474"/>
<circle cx="180.1" cy="792.7" r="1.6" fill="#e27474"/>
<circle cx="227.9" cy="830.8" r="1.6" fill="#e27474"/>
<circle cx="221.3" cy="818.9" r="1.6" fill="#e27474"/>
<circle cx="213.5" cy="836.4" r="1.6" fill="#e27474"/>
<circle cx="212.1" cy="809.5" r="1.6" fill="#e27474"/>
<circle cx="182.1" cy="831.2" r="1.6" fill="#e27474"/>
<circle cx="181.5" cy="815.1" r="1.6" fill="#b98583"/>
<circle cx="178.0" cy="812.5" r="1.6" fill="#e27474"/>
<circle cx="210.9" cy="828.9" r="1.6" fill="#b98583"/>
<circle cx="176.2" cy="831.3" r="1.6" fill="#e27474"/>
<circle cx="166.3" cy="816.7" r="1.6" fill="#b98583"/>
<circle cx="183.3" cy="816.8" r="1.6" fill="#e27474"/>
<circle cx="171.1" cy="790.9" r="1.6" fill="#e27474"/>
<circle cx="200.4" cy="805.7" r="1.6" fill="#e27474"/>
<circle cx="180.8" cy="820.1" r="1.6" fill="#e27474"/>
<circle cx="173.7" cy="768.5" r="1.6" fill="#e27474"/>
<circle cx="172.3" cy="802.5" r="1.6" fill="#e27474"/>
<circle cx="190.2" cy="800.0" r="1.6" fill="#e27474"/>
<circle cx="199.2" cy="773.9" r="1.6" fill="#e27474"/>
<circle cx="187.8" cy="792.9" r="1.6" fill="#e27474"/>
<circle cx="195.5" cy="831.8" r="1.6" fill="#e27474"/>
<circle cx="192.9" cy="828.0" r="1.6" fill="#e27474"/>
<circle cx="154.8" cy="808.4" r="1.6" fill="#e27474"/>
<circle cx="187.5" cy="812.1" r="1.6" fill="#e27474"/>
<circle cx="215.0" cy="841.1" r="1.6" fill="#e27474"/>
<circle cx="157.8" cy="806.9" r="1.6" fill="#e27474"/>
<circle cx="195.9" cy="813.8" r="1.6" fill="#e27474"/>
<circle cx="172.3" cy="792.1" r="1.6" fill="#e27474"/>
<circle cx="190.5" cy="829.8" r="1.6" fill="#e27474"/>
<circle cx="174.1" cy="800.2" r="1.6" fill="#e27474"/>
<circle cx="192.3" cy="796.4" r="1.6" fill="#b98583"/>
<circle cx="185.5" cy="834.3" r="1.6" fill="#e27474"/>
<circle cx="175.6" cy="840.4" r="1.6" fill="#e27474"/>
<circle cx="187.2" cy="761.2" r="1.6" fill="#e27474"/>
<circle cx="186.1" cy="826.7" r="1.6" fill="#e27474"/>
<circle cx="159.6" cy="800.8" r="1.6" fill="#e27474"/>
<circle cx="177.8" cy="818.4" r="1.6" fill="#e27474"/>
<circle cx="172.3" cy="801.7" r="1.6" fill="#e27474"/>
<circle cx="190.5" cy="815.5" r="1.6" fill="#e27474"/>
<circle cx="169.7" cy="785.8" r="1.6" fill="#b98583"/>
<circle cx="153.2" cy="808.5" r="1.6" fill="#e27474"/>
<circle cx="166.8" cy="803.6" r="1.6" fill="#e27474"/>
<circle cx="150.6" cy="807.2" r="1.6" fill="#e27474"/>
<circle cx="177.9" cy="805.2" r="1.6" fill="#e27474"/>
<circle cx="172.0" cy="841.9" r="1.6" fill="#e27474"/>
<circle cx="161.6" cy="800.9" r="1.6" fill="#e27474"/>
<circle cx="157.2" cy="842.1" r="1.6" fill="#e27474"/>
<circle cx="202.3" cy="823.5" r="1.6" fill="#e27474"/>
<circle cx="171.6" cy="821.8" r="1.6" fill="#e27474"/>
<circle cx="175.3" cy="782.2" r="1.6" fill="#e27474"/>
<circle cx="195.0" cy="817.6" r="1.6" fill="#e27474"/>
<circle cx="165.6" cy="834.9" r="1.6" fill="#e27474"/>
<circle cx="192.1" cy="829.0" r="1.6" fill="#e27474"/>
<circle cx="195.0" cy="772.1" r="1.6" fill="#e27474"/>
<circle cx="201.7" cy="818.7" r="1.6" fill="#b98583"/>
<circle cx="228.0" cy="830.2" r="1.6" fill="#e27474"/>
<circle cx="177.9" cy="821.3" r="1.6" fill="#e27474"/>
<circle cx="174.6" cy="823.6" r="1.6" fill="#e27474"/>
<circle cx="226.4" cy="832.6" r="1.6" fill="#e27474"/>
<circle cx="202.0" cy="837.1" r="1.6" fill="#e27474"/>
<circle cx="183.3" cy="819.8" r="1.6" fill="#b98583"/>
<circle cx="134.9" cy="843.8" r="1.6" fill="#e27474"/>
<circle cx="173.6" cy="793.4" r="1.6" fill="#e27474"/>
<circle cx="185.7" cy="831.3" r="1.6" fill="#b98583"/>
<circle cx="190.2" cy="831.3" r="1.6" fill="#e27474"/>
<circle cx="167.8" cy="805.6" r="1.6" fill="#e27474"/>
<circle cx="199.4" cy="817.9" r="1.6" fill="#e27474"/>
<circle cx="164.1" cy="840.0" r="1.6" fill="#e27474"/>
<circle cx="211.4" cy="822.7" r="1.6" fill="#e27474"/>
<circle cx="169.6" cy="778.0" r="1.6" fill="#e27474"/>
<circle cx="169.9" cy="807.2" r="1.6" fill="#b98583"/>
<circle cx="191.9" cy="839.7" r="1.6" fill="#e27474"/>
<polygon points="184.9,743.4 123.8,847.9 245.4,847.9" fill="none" stroke="#2a2a2a" stroke-width="1.3" stroke-linejoin="miter"/>
<circle cx="143.3" cy="814.5" r="1.3" fill="#3fae5c"/>
<circle cx="173.6" cy="762.7" r="1.3" fill="#3fae5c"/>
<circle cx="162.8" cy="781.2" r="1.3" fill="#3fae5c"/>
<circle cx="180.8" cy="750.4" r="1.3" fill="#3fae5c"/>
<circle cx="124.2" cy="847.2" r="1.3" fill="#3fae5c"/>
<circle cx="156.3" cy="792.3" r="1.3" fill="#3fae5c"/>
<circle cx="145.2" cy="847.9" r="1.3" fill="#3fae5c"/>
<circle cx="149.2" cy="847.9" r="1.3" fill="#3fae5c"/>
<circle cx="129.1" cy="847.9" r="1.3" fill="#3fae5c"/>
<circle cx="197.8" cy="847.9" r="1.3" fill="#3fae5c"/>
<circle cx="212.1" cy="847.9" r="1.3" fill="#3fae5c"/>
<circle cx="245.0" cy="847.2" r="1.3" fill="#3fae5c"/>
<circle cx="241.7" cy="841.5" r="1.3" fill="#3fae5c"/>
<circle cx="198.3" cy="766.5" r="1.3" fill="#3fae5c"/>
<circle cx="220.6" cy="805.0" r="1.3" fill="#3fae5c"/>
<circle cx="242.7" cy="843.2" r="1.3" fill="#3fae5c"/>
<circle cx="212.2" cy="790.6" r="1.3" fill="#3fae5c"/>
<text x="200.2" y="765.8" font-size="5" fill="#8a8a8a" font-weight="normal">80</text><text transform="translate(167.7,764.3) rotate(-60)" font-size="5" fill="#8a8a8a" font-weight="normal" text-anchor="middle">20</text><text transform="translate(149.1,853.4) rotate(-60)" font-size="5" fill="#8a8a8a" font-weight="normal" text-anchor="middle">20</text><text x="212.3" y="786.7" font-size="5" fill="#8a8a8a" font-weight="normal">60</text><text transform="translate(155.5,785.2) rotate(-60)" font-size="5" fill="#8a8a8a" font-weight="normal" text-anchor="middle">40</text><text transform="translate(173.4,853.4) rotate(-60)" font-size="5" fill="#8a8a8a" font-weight="normal" text-anchor="middle">40</text><text x="224.4" y="807.6" font-size="5" fill="#8a8a8a" font-weight="normal">40</text><text transform="translate(143.2,806.1) rotate(-60)" font-size="5" fill="#8a8a8a" font-weight="normal" text-anchor="middle">60</text><text transform="translate(197.8,853.4) rotate(-60)" font-size="5" fill="#8a8a8a" font-weight="normal" text-anchor="middle">60</text><text x="236.5" y="828.5" font-size="5" fill="#8a8a8a" font-weight="normal">20</text><text transform="translate(131.0,827.0) rotate(-60)" font-size="5" fill="#8a8a8a" font-weight="normal" text-anchor="middle">80</text><text transform="translate(222.1,853.4) rotate(-60)" font-size="5" fill="#8a8a8a" font-weight="normal" text-anchor="middle">80</text><text x="185.9" y="744.4" font-size="4.8" fill="#8a8a8a" font-weight="normal">100</text><text transform="translate(120.8,848.9) rotate(-60)" font-size="4.8" fill="#8a8a8a" font-weight="normal" text-anchor="middle">100</text><text transform="translate(247.4,850.9) rotate(-60)" font-size="4.8" fill="#8a8a8a" font-weight="normal" text-anchor="middle">100</text>
<line x1="154.8" y1="768.8" x2="132.0" y2="806.8" stroke="#222" stroke-width="1.2"/><polygon points="129.7,810.7 130.4,805.3 132.3,806.4 134.2,807.5" fill="#222"/>
<line x1="239.1" y1="810.4" x2="217.0" y2="772.5" stroke="#222" stroke-width="1.2"/><polygon points="214.7,768.6 219.1,771.8 217.2,772.9 215.3,774.0" fill="#222"/>
<line x1="164.9" y1="862.9" x2="204.7" y2="862.9" stroke="#222" stroke-width="1.2"/><polygon points="209.2,862.9 204.2,865.1 204.2,862.9 204.2,860.7" fill="#222"/>
<text transform="translate(139.4,790.4) rotate(-60)" font-size="5" fill="#8f8f8f" font-weight="normal" text-anchor="middle">0</text>
<text transform="translate(230.4,790.4) rotate(60)" font-size="5" fill="#8f8f8f" font-weight="normal" text-anchor="middle">+</text>
<text x="184.9" y="867.7" font-size="5" fill="#8f8f8f" font-weight="normal" text-anchor="middle">5</text>
<text x="203.5" y="739.3" text-anchor="middle" font-size="11.4" fill="#2b5b37">Depth (40 cm)</text>
<text x="89.8" y="867.2" font-size="11.4" fill="#dc6c4a">Depth (20 cm)</text>
<text x="223.2" y="867.2" font-size="11.4" fill="#2a4587">Depth (60 cm)</text>
<rect x="93.2" y="733.8" width="52.4" height="27.4" fill="#a8c98a" stroke="#2d2d2d" stroke-width="1.3"/><text x="101.2" y="754.7" font-size="17" fill="#111">980</text>
<polygon points="902.4,91.0 841.5,196.3 962.0,196.3" fill="#fdfdfa"/>
<line x1="890.2" y1="112.1" x2="914.3" y2="112.1" stroke="#eeeaeb" stroke-width="0.8"/>
<line x1="865.6" y1="196.3" x2="914.3" y2="112.1" stroke="#eeeaeb" stroke-width="0.8"/>
<line x1="865.6" y1="196.3" x2="853.7" y2="175.2" stroke="#eeeaeb" stroke-width="0.8"/>
<line x1="878.0" y1="133.1" x2="926.2" y2="133.1" stroke="#eeeaeb" stroke-width="0.8"/>
<line x1="889.7" y1="196.3" x2="926.2" y2="133.1" stroke="#eeeaeb" stroke-width="0.8"/>
<line x1="889.7" y1="196.3" x2="865.9" y2="154.2" stroke="#eeeaeb" stroke-width="0.8"/>
<line x1="865.9" y1="154.2" x2="938.2" y2="154.2" stroke="#eeeaeb" stroke-width="0.8"/>
<line x1="913.8" y1="196.3" x2="938.2" y2="154.2" stroke="#eeeaeb" stroke-width="0.8"/>
<line x1="913.8" y1="196.3" x2="878.0" y2="133.1" stroke="#eeeaeb" stroke-width="0.8"/>
<line x1="853.7" y1="175.2" x2="950.1" y2="175.2" stroke="#eeeaeb" stroke-width="0.8"/>
<line x1="937.9" y1="196.3" x2="950.1" y2="175.2" stroke="#eeeaeb" stroke-width="0.8"/>
<line x1="937.9" y1="196.3" x2="890.2" y2="112.1" stroke="#eeeaeb" stroke-width="0.8"/>
<circle cx="918.7" cy="152.5" r="1.6" fill="#e27474"/>
<circle cx="878.1" cy="160.8" r="1.6" fill="#e27474"/>
<circle cx="860.7" cy="172.1" r="1.6" fill="#e27474"/>
<circle cx="900.3" cy="180.6" r="1.6" fill="#e27474"/>
<circle cx="911.9" cy="149.3" r="1.6" fill="#e27474"/>
<circle cx="946.6" cy="175.1" r="1.6" fill="#e27474"/>
<circle cx="926.6" cy="175.3" r="1.6" fill="#e27474"/>
<circle cx="873.7" cy="175.5" r="1.6" fill="#e27474"/>
<circle cx="915.6" cy="171.7" r="1.6" fill="#e27474"/>
<circle cx="947.1" cy="189.2" r="1.6" fill="#e27474"/>
<circle cx="943.6" cy="172.0" r="1.6" fill="#e27474"/>
<circle cx="868.0" cy="158.2" r="1.6" fill="#e27474"/>
<circle cx="892.0" cy="175.6" r="1.6" fill="#e27474"/>
<circle cx="917.6" cy="182.1" r="1.6" fill="#b98583"/>
<circle cx="891.5" cy="145.5" r="1.6" fill="#e27474"/>
<circle cx="887.3" cy="167.6" r="1.6" fill="#e27474"/>
<circle cx="923.4" cy="162.0" r="1.6" fill="#e27474"/>
<circle cx="947.8" cy="194.1" r="1.6" fill="#e27474"/>
<circle cx="908.1" cy="193.5" r="1.6" fill="#e27474"/>
<circle cx="912.3" cy="189.1" r="1.6" fill="#e27474"/>
<circle cx="913.5" cy="159.2" r="1.6" fill="#b98583"/>
<circle cx="883.4" cy="134.2" r="1.6" fill="#e27474"/>
<circle cx="902.5" cy="149.2" r="1.6" fill="#e27474"/>
<circle cx="919.1" cy="172.3" r="1.6" fill="#e27474"/>
<circle cx="880.8" cy="150.6" r="1.6" fill="#e27474"/>
<circle cx="882.3" cy="173.2" r="1.6" fill="#e27474"/>
<circle cx="892.8" cy="178.9" r="1.6" fill="#e27474"/>
<circle cx="917.8" cy="193.3" r="1.6" fill="#e27474"/>
<circle cx="867.0" cy="193.1" r="1.6" fill="#b98583"/>
<circle cx="881.2" cy="188.9" r="1.6" fill="#e27474"/>
<circle cx="907.5" cy="111.3" r="1.6" fill="#e27474"/>
<circle cx="935.6" cy="154.9" r="1.6" fill="#e27474"/>
<circle cx="883.4" cy="147.8" r="1.6" fill="#e27474"/>
<circle cx="914.1" cy="169.4" r="1.6" fill="#e27474"/>
<circle cx="877.9" cy="185.2" r="1.6" fill="#e27474"/>
<circle cx="936.5" cy="180.7" r="1.6" fill="#e27474"/>
<circle cx="876.2" cy="140.1" r="1.6" fill="#e27474"/>
<circle cx="907.8" cy="146.2" r="1.6" fill="#e27474"/>
<circle cx="906.1" cy="190.5" r="1.6" fill="#e27474"/>
<circle cx="911.9" cy="121.3" r="1.6" fill="#e27474"/>
<circle cx="860.7" cy="171.1" r="1.6" fill="#b98583"/>
<circle cx="902.7" cy="157.5" r="1.6" fill="#b98583"/>
<circle cx="930.1" cy="175.8" r="1.6" fill="#b98583"/>
<circle cx="933.6" cy="157.3" r="1.6" fill="#e27474"/>
<circle cx="897.5" cy="135.1" r="1.6" fill="#e27474"/>
<circle cx="904.7" cy="119.3" r="1.6" fill="#e27474"/>
<circle cx="906.3" cy="168.6" r="1.6" fill="#b98583"/>
<circle cx="885.7" cy="140.1" r="1.6" fill="#e27474"/>
<circle cx="884.5" cy="180.4" r="1.6" fill="#e27474"/>
<circle cx="880.8" cy="173.0" r="1.6" fill="#e27474"/>
<circle cx="882.7" cy="153.4" r="1.6" fill="#e27474"/>
<circle cx="925.5" cy="156.3" r="1.6" fill="#e27474"/>
<circle cx="886.2" cy="156.2" r="1.6" fill="#e27474"/>
<circle cx="926.2" cy="186.6" r="1.6" fill="#e27474"/>
<circle cx="917.8" cy="155.7" r="1.6" fill="#e27474"/>
<circle cx="897.7" cy="156.8" r="1.6" fill="#e27474"/>
<circle cx="907.6" cy="121.4" r="1.6" fill="#e27474"/>
<circle cx="909.0" cy="148.2" r="1.6" fill="#e27474"/>
<circle cx="903.1" cy="148.4" r="1.6" fill="#e27474"/>
<circle cx="907.9" cy="154.4" r="1.6" fill="#e27474"/>
<circle cx="907.1" cy="102.8" r="1.6" fill="#b98583"/>
<circle cx="933.3" cy="161.5" r="1.6" fill="#e27474"/>
<circle cx="883.5" cy="166.0" r="1.6" fill="#e27474"/>
<circle cx="934.8" cy="155.9" r="1.6" fill="#e27474"/>
<circle cx="866.9" cy="162.5" r="1.6" fill="#e27474"/>
<circle cx="936.6" cy="168.6" r="1.6" fill="#e27474"/>
<circle cx="922.6" cy="133.6" r="1.6" fill="#e27474"/>
<circle cx="902.1" cy="96.4" r="1.6" fill="#e27474"/>
<circle cx="904.9" cy="192.7" r="1.6" fill="#b98583"/>
<circle cx="902.1" cy="109.1" r="1.6" fill="#e27474"/>
<circle cx="903.6" cy="182.4" r="1.6" fill="#e27474"/>
<circle cx="894.4" cy="179.5" r="1.6" fill="#e27474"/>
<circle cx="908.6" cy="175.7" r="1.6" fill="#e27474"/>
<circle cx="877.8" cy="154.7" r="1.6" fill="#e27474"/>
<circle cx="897.0" cy="130.7" r="1.6" fill="#e27474"/>
<circle cx="874.3" cy="153.4" r="1.6" fill="#e27474"/>
<circle cx="944.1" cy="172.8" r="1.6" fill="#e27474"/>
<circle cx="904.8" cy="153.2" r="1.6" fill="#e27474"/>
<circle cx="911.6" cy="151.6" r="1.6" fill="#e27474"/>
<circle cx="907.0" cy="130.1" r="1.6" fill="#e27474"/>
<circle cx="933.9" cy="164.2" r="1.6" fill="#e27474"/>
<circle cx="902.6" cy="154.6" r="1.6" fill="#e27474"/>
<circle cx="937.0" cy="186.9" r="1.6" fill="#e27474"/>
<circle cx="924.5" cy="192.3" r="1.6" fill="#e27474"/>
<circle cx="914.7" cy="144.1" r="1.6" fill="#e27474"/>
<circle cx="941.0" cy="182.5" r="1.6" fill="#e27474"/>
<circle cx="875.7" cy="149.6" r="1.6" fill="#b98583"/>
<circle cx="910.4" cy="160.2" r="1.6" fill="#e27474"/>
<circle cx="882.4" cy="149.8" r="1.6" fill="#e27474"/>
<circle cx="903.5" cy="151.9" r="1.6" fill="#e27474"/>
<circle cx="918.0" cy="142.9" r="1.6" fill="#e27474"/>
<circle cx="873.4" cy="155.7" r="1.6" fill="#e27474"/>
<circle cx="904.3" cy="149.4" r="1.6" fill="#b98583"/>
<circle cx="888.9" cy="148.3" r="1.6" fill="#e27474"/>
<circle cx="912.6" cy="167.5" r="1.6" fill="#e27474"/>
<circle cx="894.6" cy="108.6" r="1.6" fill="#e27474"/>
<circle cx="901.9" cy="164.5" r="1.6" fill="#e27474"/>
<circle cx="880.3" cy="146.1" r="1.6" fill="#b98583"/>
<circle cx="893.5" cy="135.1" r="1.6" fill="#e27474"/>
<circle cx="869.8" cy="183.6" r="1.6" fill="#e27474"/>
<circle cx="912.3" cy="149.1" r="1.6" fill="#e27474"/>
<circle cx="888.6" cy="174.3" r="1.6" fill="#e27474"/>
<circle cx="890.4" cy="133.3" r="1.6" fill="#b98583"/>
<circle cx="934.3" cy="174.7" r="1.6" fill="#b98583"/>
<circle cx="914.4" cy="183.7" r="1.6" fill="#e27474"/>
<circle cx="945.8" cy="180.1" r="1.6" fill="#e27474"/>
<circle cx="907.0" cy="152.3" r="1.6" fill="#e27474"/>
<circle cx="928.9" cy="176.8" r="1.6" fill="#e27474"/>
<circle cx="873.2" cy="155.8" r="1.6" fill="#e27474"/>
<circle cx="882.0" cy="145.4" r="1.6" fill="#e27474"/>
<polygon points="902.4,91.0 841.5,196.3 962.0,196.3" fill="none" stroke="#2a2a2a" stroke-width="1.3" stroke-linejoin="miter"/>
<circle cx="890.0" cy="112.5" r="1.3" fill="#3fae5c"/>
<circle cx="875.7" cy="137.2" r="1.3" fill="#3fae5c"/>
<circle cx="889.1" cy="114.0" r="1.3" fill="#3fae5c"/>
<circle cx="842.5" cy="194.6" r="1.3" fill="#3fae5c"/>
<circle cx="899.0" cy="96.9" r="1.3" fill="#3fae5c"/>
<circle cx="862.1" cy="160.8" r="1.3" fill="#3fae5c"/>
<circle cx="871.7" cy="144.0" r="1.3" fill="#3fae5c"/>
<circle cx="870.3" cy="146.5" r="1.3" fill="#3fae5c"/>
<circle cx="873.5" cy="196.3" r="1.3" fill="#3fae5c"/>
<circle cx="958.4" cy="196.3" r="1.3" fill="#3fae5c"/>
<circle cx="877.7" cy="196.3" r="1.3" fill="#3fae5c"/>
<circle cx="892.8" cy="196.3" r="1.3" fill="#3fae5c"/>
<circle cx="886.2" cy="196.3" r="1.3" fill="#3fae5c"/>
<circle cx="961.2" cy="196.3" r="1.3" fill="#3fae5c"/>
<circle cx="907.2" cy="196.3" r="1.3" fill="#3fae5c"/>
<circle cx="949.5" cy="196.3" r="1.3" fill="#3fae5c"/>
<circle cx="906.1" cy="97.6" r="1.3" fill="#3fae5c"/>
<circle cx="958.4" cy="189.9" r="1.3" fill="#3fae5c"/>
<circle cx="932.0" cy="143.2" r="1.3" fill="#3fae5c"/>
<circle cx="913.3" cy="110.2" r="1.3" fill="#3fae5c"/>
<circle cx="903.5" cy="92.9" r="1.3" fill="#3fae5c"/>
<text x="917.5" y="113.6" font-size="5" fill="#8a8a8a" font-weight="normal">80</text><text transform="translate(885.2,112.1) rotate(-60)" font-size="5" fill="#8a8a8a" font-weight="normal" text-anchor="middle">20</text><text transform="translate(866.6,201.8) rotate(-60)" font-size="5" fill="#8a8a8a" font-weight="normal" text-anchor="middle">20</text><text x="929.4" y="134.6" font-size="5" fill="#8a8a8a" font-weight="normal">60</text><text transform="translate(873.0,133.1) rotate(-60)" font-size="5" fill="#8a8a8a" font-weight="normal" text-anchor="middle">40</text><text transform="translate(890.7,201.8) rotate(-60)" font-size="5" fill="#8a8a8a" font-weight="normal" text-anchor="middle">40</text><text x="941.4" y="155.7" font-size="5" fill="#8a8a8a" font-weight="normal">40</text><text transform="translate(860.9,154.2) rotate(-60)" font-size="5" fill="#8a8a8a" font-weight="normal" text-anchor="middle">60</text><text transform="translate(914.8,201.8) rotate(-60)" font-size="5" fill="#8a8a8a" font-weight="normal" text-anchor="middle">60</text><text x="953.3" y="176.7" font-size="5" fill="#8a8a8a" font-weight="normal">20</text><text transform="translate(848.7,175.2) rotate(-60)" font-size="5" fill="#8a8a8a" font-weight="normal" text-anchor="middle">80</text><text transform="translate(938.9,201.8) rotate(-60)" font-size="5" fill="#8a8a8a" font-weight="normal" text-anchor="middle">80</text><text x="903.4" y="92.0" font-size="4.8" fill="#8a8a8a" font-weight="normal">100</text><text transform="translate(838.5,197.3) rotate(-60)" font-size="4.8" fill="#8a8a8a" font-weight="normal" text-anchor="middle">100</text><text transform="translate(964.0,199.3) rotate(-60)" font-size="4.8" fill="#8a8a8a" font-weight="normal" text-anchor="middle">100</text>
<line x1="872.3" y1="116.4" x2="849.5" y2="154.4" stroke="#222" stroke-width="1.2"/><polygon points="847.2,158.3 847.9,152.9 849.8,154.0 851.7,155.1" fill="#222"/>
<line x1="956.6" y1="158.0" x2="934.5" y2="120.1" stroke="#222" stroke-width="1.2"/><polygon points="932.2,116.2 936.6,119.4 934.7,120.5 932.8,121.6" fill="#222"/>
<line x1="882.4" y1="206.6" x2="922.2" y2="206.6" stroke="#222" stroke-width="1.2"/><polygon points="926.7,206.6 921.7,208.8 921.7,206.6 921.7,204.4" fill="#222"/>
<text transform="translate(856.9,138.0) rotate(-60)" font-size="5" fill="#8f8f8f" font-weight="normal" text-anchor="middle">0</text>
<text transform="translate(947.9,138.0) rotate(60)" font-size="5" fill="#8f8f8f" font-weight="normal" text-anchor="middle">+</text>
<text x="902.4" y="211.4" font-size="5" fill="#8f8f8f" font-weight="normal" text-anchor="middle">5</text>
<text x="921.3" y="82.1" text-anchor="middle" font-size="11.4" fill="#2b5b37">Depth (40 cm)</text>
<text x="807.8" y="210.9" font-size="11.4" fill="#dc6c4a">Depth (20 cm)</text>
<text x="940.5" y="210.9" font-size="11.4" fill="#2a4587">Depth (60 cm)</text>
<rect x="967.8" y="85.6" width="52.5" height="27.4" fill="#a8c98a" stroke="#2d2d2d" stroke-width="1.3"/><text x="975.8" y="106.5" font-size="17" fill="#111">2119</text>
<polygon points="898.2,292.5 838.0,397.7 958.5,397.7" fill="#fdfdfa"/>
<line x1="886.2" y1="313.5" x2="910.3" y2="313.5" stroke="#eeeaeb" stroke-width="0.8"/>
<line x1="862.1" y1="397.7" x2="910.3" y2="313.5" stroke="#eeeaeb" stroke-width="0.8"/>
<line x1="862.1" y1="397.7" x2="850.0" y2="376.7" stroke="#eeeaeb" stroke-width="0.8"/>
<line x1="874.1" y1="334.6" x2="922.3" y2="334.6" stroke="#eeeaeb" stroke-width="0.8"/>
<line x1="886.2" y1="397.7" x2="922.3" y2="334.6" stroke="#eeeaeb" stroke-width="0.8"/>
<line x1="886.2" y1="397.7" x2="862.1" y2="355.6" stroke="#eeeaeb" stroke-width="0.8"/>
<line x1="862.1" y1="355.6" x2="934.4" y2="355.6" stroke="#eeeaeb" stroke-width="0.8"/>
<line x1="910.3" y1="397.7" x2="934.4" y2="355.6" stroke="#eeeaeb" stroke-width="0.8"/>
<line x1="910.3" y1="397.7" x2="874.1" y2="334.6" stroke="#eeeaeb" stroke-width="0.8"/>
<line x1="850.0" y1="376.7" x2="946.4" y2="376.7" stroke="#eeeaeb" stroke-width="0.8"/>
<line x1="934.4" y1="397.7" x2="946.4" y2="376.7" stroke="#eeeaeb" stroke-width="0.8"/>
<line x1="934.4" y1="397.7" x2="886.2" y2="313.5" stroke="#eeeaeb" stroke-width="0.8"/>
<circle cx="871.0" cy="381.8" r="1.6" fill="#b98583"/>
<circle cx="895.9" cy="367.1" r="1.6" fill="#e27474"/>
<circle cx="923.9" cy="352.1" r="1.6" fill="#b98583"/>
<circle cx="905.7" cy="358.7" r="1.6" fill="#e27474"/>
<circle cx="894.8" cy="340.8" r="1.6" fill="#e27474"/>
<circle cx="935.6" cy="382.5" r="1.6" fill="#e27474"/>
<circle cx="868.6" cy="353.0" r="1.6" fill="#e27474"/>
<circle cx="917.9" cy="340.1" r="1.6" fill="#b98583"/>
<circle cx="870.3" cy="364.1" r="1.6" fill="#e27474"/>
<circle cx="902.1" cy="377.4" r="1.6" fill="#e27474"/>
<circle cx="871.6" cy="362.1" r="1.6" fill="#e27474"/>
<circle cx="916.7" cy="364.9" r="1.6" fill="#e27474"/>
<circle cx="894.1" cy="336.5" r="1.6" fill="#e27474"/>
<circle cx="876.6" cy="337.2" r="1.6" fill="#e27474"/>
<circle cx="905.1" cy="352.0" r="1.6" fill="#e27474"/>
<circle cx="919.6" cy="380.3" r="1.6" fill="#e27474"/>
<circle cx="908.9" cy="389.1" r="1.6" fill="#b98583"/>
<circle cx="881.3" cy="366.8" r="1.6" fill="#e27474"/>
<circle cx="910.4" cy="349.1" r="1.6" fill="#b98583"/>
<circle cx="896.6" cy="316.9" r="1.6" fill="#e27474"/>
<circle cx="902.0" cy="357.9" r="1.6" fill="#e27474"/>
<circle cx="910.1" cy="338.4" r="1.6" fill="#e27474"/>
<circle cx="890.2" cy="354.0" r="1.6" fill="#e27474"/>
<circle cx="884.8" cy="356.5" r="1.6" fill="#e27474"/>
<circle cx="877.9" cy="343.5" r="1.6" fill="#e27474"/>
<circle cx="888.7" cy="353.6" r="1.6" fill="#e27474"/>
<circle cx="926.3" cy="370.8" r="1.6" fill="#e27474"/>
<circle cx="911.9" cy="340.4" r="1.6" fill="#e27474"/>
<circle cx="929.3" cy="390.6" r="1.6" fill="#e27474"/>
<circle cx="908.6" cy="387.0" r="1.6" fill="#b98583"/>
<circle cx="910.9" cy="370.6" r="1.6" fill="#e27474"/>
<circle cx="921.7" cy="359.4" r="1.6" fill="#e27474"/>
<circle cx="905.4" cy="383.1" r="1.6" fill="#b98583"/>
<circle cx="905.9" cy="361.7" r="1.6" fill="#e27474"/>
<circle cx="842.5" cy="395.3" r="1.6" fill="#e27474"/>
<circle cx="922.5" cy="340.6" r="1.6" fill="#e27474"/>
<circle cx="912.4" cy="344.9" r="1.6" fill="#e27474"/>
<circle cx="855.4" cy="380.1" r="1.6" fill="#e27474"/>
<circle cx="889.6" cy="369.1" r="1.6" fill="#e27474"/>
<circle cx="917.3" cy="343.5" r="1.6" fill="#e27474"/>
<circle cx="872.6" cy="359.8" r="1.6" fill="#e27474"/>
<circle cx="923.1" cy="394.8" r="1.6" fill="#e27474"/>
<circle cx="894.1" cy="344.2" r="1.6" fill="#e27474"/>
<circle cx="894.9" cy="346.6" r="1.6" fill="#e27474"/>
<circle cx="922.0" cy="377.0" r="1.6" fill="#e27474"/>
<circle cx="912.3" cy="352.0" r="1.6" fill="#e27474"/>
<circle cx="928.8" cy="357.0" r="1.6" fill="#e27474"/>
<circle cx="865.4" cy="375.5" r="1.6" fill="#e27474"/>
<circle cx="894.4" cy="377.4" r="1.6" fill="#e27474"/>
<circle cx="886.9" cy="358.5" r="1.6" fill="#e27474"/>
<circle cx="907.6" cy="359.5" r="1.6" fill="#e27474"/>
<circle cx="920.0" cy="372.1" r="1.6" fill="#e27474"/>
<circle cx="913.2" cy="339.8" r="1.6" fill="#e27474"/>
<circle cx="911.8" cy="366.9" r="1.6" fill="#e27474"/>
<circle cx="917.4" cy="353.6" r="1.6" fill="#e27474"/>
<circle cx="875.6" cy="340.7" r="1.6" fill="#e27474"/>
<circle cx="900.3" cy="344.6" r="1.6" fill="#e27474"/>
<circle cx="885.3" cy="343.9" r="1.6" fill="#e27474"/>
<circle cx="889.5" cy="313.6" r="1.6" fill="#e27474"/>
<circle cx="913.7" cy="377.9" r="1.6" fill="#e27474"/>
<circle cx="907.3" cy="361.2" r="1.6" fill="#e27474"/>
<circle cx="887.5" cy="321.6" r="1.6" fill="#e27474"/>
<circle cx="923.9" cy="379.1" r="1.6" fill="#e27474"/>
<circle cx="903.5" cy="384.1" r="1.6" fill="#e27474"/>
<circle cx="873.4" cy="364.4" r="1.6" fill="#e27474"/>
<circle cx="887.5" cy="357.1" r="1.6" fill="#e27474"/>
<circle cx="935.2" cy="372.4" r="1.6" fill="#e27474"/>
<circle cx="901.3" cy="354.7" r="1.6" fill="#e27474"/>
<circle cx="874.6" cy="352.9" r="1.6" fill="#e27474"/>
<circle cx="908.3" cy="377.1" r="1.6" fill="#e27474"/>
<circle cx="863.3" cy="362.8" r="1.6" fill="#e27474"/>
<circle cx="882.6" cy="351.9" r="1.6" fill="#b98583"/>
<circle cx="888.8" cy="364.2" r="1.6" fill="#e27474"/>
<circle cx="909.9" cy="357.2" r="1.6" fill="#e27474"/>
<circle cx="926.9" cy="388.1" r="1.6" fill="#b98583"/>
<circle cx="870.4" cy="364.9" r="1.6" fill="#b98583"/>
<circle cx="938.6" cy="384.3" r="1.6" fill="#b98583"/>
<circle cx="883.7" cy="375.0" r="1.6" fill="#e27474"/>
<circle cx="887.2" cy="384.1" r="1.6" fill="#e27474"/>
<circle cx="942.7" cy="380.7" r="1.6" fill="#e27474"/>
<circle cx="887.6" cy="324.6" r="1.6" fill="#e27474"/>
<circle cx="877.7" cy="355.8" r="1.6" fill="#b98583"/>
<circle cx="869.2" cy="396.1" r="1.6" fill="#e27474"/>
<circle cx="919.0" cy="342.4" r="1.6" fill="#b98583"/>
<circle cx="899.8" cy="382.0" r="1.6" fill="#e27474"/>
<circle cx="915.8" cy="390.2" r="1.6" fill="#e27474"/>
<circle cx="913.0" cy="380.1" r="1.6" fill="#e27474"/>
<circle cx="895.2" cy="366.4" r="1.6" fill="#e27474"/>
<circle cx="852.0" cy="388.8" r="1.6" fill="#e27474"/>
<circle cx="885.4" cy="365.6" r="1.6" fill="#e27474"/>
<circle cx="874.1" cy="352.3" r="1.6" fill="#e27474"/>
<circle cx="890.5" cy="340.8" r="1.6" fill="#e27474"/>
<circle cx="884.4" cy="369.1" r="1.6" fill="#b98583"/>
<circle cx="907.0" cy="383.9" r="1.6" fill="#e27474"/>
<circle cx="890.3" cy="349.0" r="1.6" fill="#b98583"/>
<circle cx="895.6" cy="359.3" r="1.6" fill="#e27474"/>
<circle cx="876.8" cy="354.1" r="1.6" fill="#e27474"/>
<circle cx="859.9" cy="386.8" r="1.6" fill="#e27474"/>
<circle cx="905.5" cy="366.3" r="1.6" fill="#e27474"/>
<circle cx="934.4" cy="383.3" r="1.6" fill="#e27474"/>
<circle cx="870.1" cy="347.6" r="1.6" fill="#e27474"/>
<circle cx="916.6" cy="352.0" r="1.6" fill="#e27474"/>
<circle cx="915.3" cy="367.5" r="1.6" fill="#b98583"/>
<circle cx="924.1" cy="359.8" r="1.6" fill="#e27474"/>
<circle cx="929.5" cy="380.4" r="1.6" fill="#e27474"/>
<circle cx="879.8" cy="331.0" r="1.6" fill="#e27474"/>
<circle cx="920.1" cy="388.6" r="1.6" fill="#b98583"/>
<circle cx="890.8" cy="363.1" r="1.6" fill="#e27474"/>
<circle cx="908.1" cy="380.5" r="1.6" fill="#e27474"/>
<circle cx="925.5" cy="360.3" r="1.6" fill="#e27474"/>
<polygon points="898.2,292.5 838.0,397.7 958.5,397.7" fill="none" stroke="#2a2a2a" stroke-width="1.3" stroke-linejoin="miter"/>
<circle cx="862.1" cy="355.6" r="1.3" fill="#3fae5c"/>
<circle cx="878.2" cy="327.4" r="1.3" fill="#3fae5c"/>
<circle cx="859.0" cy="361.0" r="1.3" fill="#3fae5c"/>
<circle cx="856.5" cy="365.4" r="1.3" fill="#3fae5c"/>
<circle cx="906.4" cy="397.7" r="1.3" fill="#3fae5c"/>
<circle cx="839.5" cy="397.7" r="1.3" fill="#3fae5c"/>
<circle cx="845.3" cy="397.7" r="1.3" fill="#3fae5c"/>
<circle cx="870.4" cy="397.7" r="1.3" fill="#3fae5c"/>
<circle cx="919.0" cy="397.7" r="1.3" fill="#3fae5c"/>
<circle cx="921.4" cy="397.7" r="1.3" fill="#3fae5c"/>
<circle cx="919.4" cy="397.7" r="1.3" fill="#3fae5c"/>
<circle cx="873.0" cy="397.7" r="1.3" fill="#3fae5c"/>
<circle cx="941.3" cy="367.7" r="1.3" fill="#3fae5c"/>
<circle cx="930.4" cy="348.7" r="1.3" fill="#3fae5c"/>
<circle cx="912.2" cy="317.0" r="1.3" fill="#3fae5c"/>
<circle cx="898.6" cy="293.2" r="1.3" fill="#3fae5c"/>
<circle cx="925.4" cy="339.9" r="1.3" fill="#3fae5c"/>
<circle cx="939.7" cy="364.9" r="1.3" fill="#3fae5c"/>
<circle cx="953.3" cy="388.7" r="1.3" fill="#3fae5c"/>
<circle cx="930.0" cy="347.9" r="1.3" fill="#3fae5c"/>
<text x="913.5" y="315.0" font-size="5" fill="#8a8a8a" font-weight="normal">80</text><text transform="translate(881.2,313.5) rotate(-60)" font-size="5" fill="#8a8a8a" font-weight="normal" text-anchor="middle">20</text><text transform="translate(863.1,403.2) rotate(-60)" font-size="5" fill="#8a8a8a" font-weight="normal" text-anchor="middle">20</text><text x="925.5" y="336.1" font-size="5" fill="#8a8a8a" font-weight="normal">60</text><text transform="translate(869.1,334.6) rotate(-60)" font-size="5" fill="#8a8a8a" font-weight="normal" text-anchor="middle">40</text><text transform="translate(887.2,403.2) rotate(-60)" font-size="5" fill="#8a8a8a" font-weight="normal" text-anchor="middle">40</text><text x="937.6" y="357.1" font-size="5" fill="#8a8a8a" font-weight="normal">40</text><text transform="translate(857.1,355.6) rotate(-60)" font-size="5" fill="#8a8a8a" font-weight="normal" text-anchor="middle">60</text><text transform="translate(911.3,403.2) rotate(-60)" font-size="5" fill="#8a8a8a" font-weight="normal" text-anchor="middle">60</text><text x="949.6" y="378.2" font-size="5" fill="#8a8a8a" font-weight="normal">20</text><text transform="translate(845.0,376.7) rotate(-60)" font-size="5" fill="#8a8a8a" font-weight="normal" text-anchor="middle">80</text><text transform="translate(935.4,403.2) rotate(-60)" font-size="5" fill="#8a8a8a" font-weight="normal" text-anchor="middle">80</text><text x="899.2" y="293.5" font-size="4.8" fill="#8a8a8a" font-weight="normal">100</text><text transform="translate(835.0,398.7) rotate(-60)" font-size="4.8" fill="#8a8a8a" font-weight="normal" text-anchor="middle">100</text><text transform="translate(960.5,400.7) rotate(-60)" font-size="4.8" fill="#8a8a8a" font-weight="normal" text-anchor="middle">100</text>
<line x1="868.1" y1="317.9" x2="845.3" y2="355.9" stroke="#222" stroke-width="1.2"/><polygon points="843.0,359.8 843.7,354.4 845.6,355.5 847.5,356.6" fill="#222"/>
<line x1="952.4" y1="359.5" x2="930.3" y2="321.6" stroke="#222" stroke-width="1.2"/><polygon points="928.0,317.7 932.4,320.9 930.5,322.0 928.6,323.1" fill="#222"/>
<line x1="878.2" y1="410.5" x2="918.0" y2="410.5" stroke="#222" stroke-width="1.2"/><polygon points="922.5,410.5 917.5,412.7 917.5,410.5 917.5,408.3" fill="#222"/>
<text transform="translate(852.7,339.5) rotate(-60)" font-size="5" fill="#8f8f8f" font-weight="normal" text-anchor="middle">0</text>
<text transform="translate(943.7,339.5) rotate(60)" font-size="5" fill="#8f8f8f" font-weight="normal" text-anchor="middle">+</text>
<text x="898.2" y="415.3" font-size="5" fill="#8f8f8f" font-weight="normal" text-anchor="middle">5</text>
<text x="919.2" y="286.5" text-anchor="middle" font-size="11.4" fill="#2b5b37">Depth (40 cm)</text>
<text x="805.2" y="414.8" font-size="11.4" fill="#dc6c4a">Depth (20 cm)</text>
<text x="938.8" y="414.8" font-size="11.4" fill="#2a4587">Depth (60 cm)</text>
<rect x="967.7" y="296.9" width="52.5" height="28.1" fill="#a8c98a" stroke="#2d2d2d" stroke-width="1.3"/><text x="975.7" y="318.2" font-size="17" fill="#111">1658</text>
<polygon points="906.0,478.0 846.2,583.2 967.2,583.2" fill="#fdfdfa"/>
<line x1="894.0" y1="499.0" x2="918.2" y2="499.0" stroke="#eeeaeb" stroke-width="0.8"/>
<line x1="870.4" y1="583.2" x2="918.2" y2="499.0" stroke="#eeeaeb" stroke-width="0.8"/>
<line x1="870.4" y1="583.2" x2="858.2" y2="562.2" stroke="#eeeaeb" stroke-width="0.8"/>
<line x1="882.1" y1="520.1" x2="930.5" y2="520.1" stroke="#eeeaeb" stroke-width="0.8"/>
<line x1="894.6" y1="583.2" x2="930.5" y2="520.1" stroke="#eeeaeb" stroke-width="0.8"/>
<line x1="894.6" y1="583.2" x2="870.1" y2="541.1" stroke="#eeeaeb" stroke-width="0.8"/>
<line x1="870.1" y1="541.1" x2="942.7" y2="541.1" stroke="#eeeaeb" stroke-width="0.8"/>
<line x1="918.8" y1="583.2" x2="942.7" y2="541.1" stroke="#eeeaeb" stroke-width="0.8"/>
<line x1="918.8" y1="583.2" x2="882.1" y2="520.1" stroke="#eeeaeb" stroke-width="0.8"/>
<line x1="858.2" y1="562.2" x2="955.0" y2="562.2" stroke="#eeeaeb" stroke-width="0.8"/>
<line x1="943.0" y1="583.2" x2="955.0" y2="562.2" stroke="#eeeaeb" stroke-width="0.8"/>
<line x1="943.0" y1="583.2" x2="894.0" y2="499.0" stroke="#eeeaeb" stroke-width="0.8"/>
<circle cx="859.2" cy="579.2" r="1.6" fill="#e27474"/>
<circle cx="879.8" cy="545.5" r="1.6" fill="#e27474"/>
<circle cx="950.4" cy="558.6" r="1.6" fill="#e27474"/>
<circle cx="910.4" cy="534.2" r="1.6" fill="#b98583"/>
<circle cx="897.0" cy="567.3" r="1.6" fill="#e27474"/>
<circle cx="921.7" cy="574.4" r="1.6" fill="#e27474"/>
<circle cx="898.8" cy="544.4" r="1.6" fill="#e27474"/>
<circle cx="913.1" cy="515.5" r="1.6" fill="#e27474"/>
<circle cx="900.3" cy="515.7" r="1.6" fill="#e27474"/>
<circle cx="894.0" cy="567.4" r="1.6" fill="#e27474"/>
<circle cx="901.7" cy="573.0" r="1.6" fill="#e27474"/>
<circle cx="899.6" cy="555.1" r="1.6" fill="#e27474"/>
<circle cx="910.1" cy="539.9" r="1.6" fill="#e27474"/>
<circle cx="943.5" cy="547.8" r="1.6" fill="#e27474"/>
<circle cx="904.4" cy="549.4" r="1.6" fill="#e27474"/>
<circle cx="904.1" cy="565.3" r="1.6" fill="#e27474"/>
<circle cx="910.2" cy="566.0" r="1.6" fill="#e27474"/>
<circle cx="951.1" cy="573.2" r="1.6" fill="#b98583"/>
<circle cx="890.4" cy="569.2" r="1.6" fill="#e27474"/>
<circle cx="904.3" cy="542.1" r="1.6" fill="#b98583"/>
<circle cx="874.1" cy="542.6" r="1.6" fill="#e27474"/>
<circle cx="936.0" cy="579.5" r="1.6" fill="#e27474"/>
<circle cx="880.8" cy="527.4" r="1.6" fill="#e27474"/>
<circle cx="895.4" cy="543.3" r="1.6" fill="#e27474"/>
<circle cx="883.4" cy="535.0" r="1.6" fill="#e27474"/>
<circle cx="913.6" cy="566.1" r="1.6" fill="#e27474"/>
<circle cx="901.1" cy="562.4" r="1.6" fill="#b98583"/>
<circle cx="938.1" cy="554.9" r="1.6" fill="#b98583"/>
<circle cx="929.4" cy="537.7" r="1.6" fill="#e27474"/>
<circle cx="923.9" cy="576.4" r="1.6" fill="#e27474"/>
<circle cx="907.2" cy="533.3" r="1.6" fill="#e27474"/>
<circle cx="932.5" cy="542.5" r="1.6" fill="#e27474"/>
<circle cx="901.4" cy="535.8" r="1.6" fill="#e27474"/>
<circle cx="900.1" cy="531.5" r="1.6" fill="#e27474"/>
<circle cx="924.5" cy="573.4" r="1.6" fill="#e27474"/>
<circle cx="874.7" cy="558.3" r="1.6" fill="#e27474"/>
<circle cx="946.2" cy="578.8" r="1.6" fill="#e27474"/>
<circle cx="924.5" cy="542.5" r="1.6" fill="#e27474"/>
<circle cx="947.5" cy="553.0" r="1.6" fill="#e27474"/>
<circle cx="881.8" cy="538.2" r="1.6" fill="#e27474"/>
<circle cx="899.8" cy="549.3" r="1.6" fill="#e27474"/>
<circle cx="927.4" cy="539.0" r="1.6" fill="#e27474"/>
<circle cx="900.2" cy="508.7" r="1.6" fill="#e27474"/>
<circle cx="889.2" cy="571.5" r="1.6" fill="#e27474"/>
<circle cx="935.8" cy="541.1" r="1.6" fill="#e27474"/>
<circle cx="945.2" cy="576.1" r="1.6" fill="#e27474"/>
<circle cx="923.9" cy="543.7" r="1.6" fill="#e27474"/>
<circle cx="885.2" cy="531.5" r="1.6" fill="#e27474"/>
<circle cx="907.1" cy="541.4" r="1.6" fill="#e27474"/>
<circle cx="927.1" cy="557.5" r="1.6" fill="#b98583"/>
<circle cx="920.7" cy="532.0" r="1.6" fill="#e27474"/>
<circle cx="930.8" cy="537.1" r="1.6" fill="#e27474"/>
<circle cx="905.8" cy="552.0" r="1.6" fill="#e27474"/>
<circle cx="926.6" cy="566.4" r="1.6" fill="#e27474"/>
<circle cx="915.4" cy="546.8" r="1.6" fill="#e27474"/>
<circle cx="865.7" cy="564.6" r="1.6" fill="#b98583"/>
<circle cx="908.1" cy="536.5" r="1.6" fill="#e27474"/>
<circle cx="879.4" cy="565.6" r="1.6" fill="#e27474"/>
<circle cx="906.6" cy="539.8" r="1.6" fill="#e27474"/>
<circle cx="910.2" cy="571.4" r="1.6" fill="#e27474"/>
<circle cx="905.0" cy="526.8" r="1.6" fill="#e27474"/>
<circle cx="891.0" cy="571.5" r="1.6" fill="#e27474"/>
<circle cx="884.2" cy="549.5" r="1.6" fill="#e27474"/>
<circle cx="905.7" cy="534.9" r="1.6" fill="#e27474"/>
<circle cx="885.2" cy="535.8" r="1.6" fill="#b98583"/>
<circle cx="884.8" cy="577.4" r="1.6" fill="#e27474"/>
<circle cx="885.7" cy="563.8" r="1.6" fill="#e27474"/>
<circle cx="907.1" cy="571.0" r="1.6" fill="#e27474"/>
<circle cx="921.6" cy="577.6" r="1.6" fill="#e27474"/>
<circle cx="908.6" cy="558.4" r="1.6" fill="#e27474"/>
<circle cx="879.8" cy="563.0" r="1.6" fill="#e27474"/>
<circle cx="872.7" cy="568.4" r="1.6" fill="#e27474"/>
<circle cx="937.1" cy="579.8" r="1.6" fill="#e27474"/>
<circle cx="896.3" cy="524.1" r="1.6" fill="#e27474"/>
<circle cx="936.6" cy="542.4" r="1.6" fill="#e27474"/>
<circle cx="871.5" cy="566.5" r="1.6" fill="#e27474"/>
<circle cx="933.0" cy="563.0" r="1.6" fill="#e27474"/>
<circle cx="909.5" cy="538.8" r="1.6" fill="#e27474"/>
<circle cx="912.1" cy="567.9" r="1.6" fill="#e27474"/>
<circle cx="921.0" cy="551.3" r="1.6" fill="#e27474"/>
<circle cx="875.4" cy="543.4" r="1.6" fill="#e27474"/>
<circle cx="895.8" cy="545.6" r="1.6" fill="#b98583"/>
<circle cx="887.6" cy="544.8" r="1.6" fill="#e27474"/>
<circle cx="935.0" cy="550.3" r="1.6" fill="#e27474"/>
<circle cx="874.5" cy="563.5" r="1.6" fill="#e27474"/>
<circle cx="907.1" cy="548.0" r="1.6" fill="#e27474"/>
<circle cx="907.0" cy="557.5" r="1.6" fill="#e27474"/>
<circle cx="901.6" cy="523.3" r="1.6" fill="#e27474"/>
<circle cx="924.6" cy="556.0" r="1.6" fill="#e27474"/>
<circle cx="957.7" cy="580.3" r="1.6" fill="#e27474"/>
<circle cx="885.0" cy="545.7" r="1.6" fill="#e27474"/>
<circle cx="889.9" cy="532.9" r="1.6" fill="#e27474"/>
<circle cx="912.2" cy="550.9" r="1.6" fill="#e27474"/>
<circle cx="953.0" cy="568.6" r="1.6" fill="#e27474"/>
<circle cx="926.5" cy="551.8" r="1.6" fill="#e27474"/>
<circle cx="884.8" cy="546.8" r="1.6" fill="#e27474"/>
<circle cx="911.9" cy="518.1" r="1.6" fill="#e27474"/>
<circle cx="931.3" cy="563.4" r="1.6" fill="#e27474"/>
<circle cx="919.6" cy="556.7" r="1.6" fill="#e27474"/>
<circle cx="901.5" cy="554.0" r="1.6" fill="#e27474"/>
<circle cx="920.9" cy="561.5" r="1.6" fill="#e27474"/>
<circle cx="890.5" cy="540.2" r="1.6" fill="#e27474"/>
<circle cx="907.6" cy="532.6" r="1.6" fill="#e27474"/>
<circle cx="912.3" cy="518.6" r="1.6" fill="#e27474"/>
<circle cx="930.7" cy="565.3" r="1.6" fill="#e27474"/>
<circle cx="902.3" cy="536.7" r="1.6" fill="#e27474"/>
<circle cx="931.8" cy="564.9" r="1.6" fill="#e27474"/>
<circle cx="933.3" cy="570.0" r="1.6" fill="#b98583"/>
<circle cx="883.6" cy="552.1" r="1.6" fill="#e27474"/>
<circle cx="890.3" cy="534.1" r="1.6" fill="#e27474"/>
<polygon points="906.0,478.0 846.2,583.2 967.2,583.2" fill="none" stroke="#2a2a2a" stroke-width="1.3" stroke-linejoin="miter"/>
<circle cx="850.7" cy="575.3" r="1.3" fill="#3fae5c"/>
<circle cx="869.8" cy="541.7" r="1.3" fill="#3fae5c"/>
<circle cx="848.3" cy="579.5" r="1.3" fill="#3fae5c"/>
<circle cx="862.0" cy="555.5" r="1.3" fill="#3fae5c"/>
<circle cx="889.6" cy="506.9" r="1.3" fill="#3fae5c"/>
<circle cx="849.7" cy="577.1" r="1.3" fill="#3fae5c"/>
<circle cx="904.0" cy="583.2" r="1.3" fill="#3fae5c"/>
<circle cx="902.8" cy="583.2" r="1.3" fill="#3fae5c"/>
<circle cx="938.5" cy="583.2" r="1.3" fill="#3fae5c"/>
<circle cx="952.7" cy="583.2" r="1.3" fill="#3fae5c"/>
<circle cx="907.1" cy="480.0" r="1.3" fill="#3fae5c"/>
<circle cx="919.3" cy="500.8" r="1.3" fill="#3fae5c"/>
<circle cx="963.7" cy="577.1" r="1.3" fill="#3fae5c"/>
<circle cx="920.3" cy="502.6" r="1.3" fill="#3fae5c"/>
<circle cx="927.4" cy="514.8" r="1.3" fill="#3fae5c"/>
<circle cx="909.7" cy="484.3" r="1.3" fill="#3fae5c"/>
<circle cx="935.2" cy="528.2" r="1.3" fill="#3fae5c"/>
<circle cx="913.6" cy="491.0" r="1.3" fill="#3fae5c"/>
<text x="921.4" y="500.5" font-size="5" fill="#8a8a8a" font-weight="normal">80</text><text transform="translate(889.0,499.0) rotate(-60)" font-size="5" fill="#8a8a8a" font-weight="normal" text-anchor="middle">20</text><text transform="translate(871.4,588.7) rotate(-60)" font-size="5" fill="#8a8a8a" font-weight="normal" text-anchor="middle">20</text><text x="933.7" y="521.6" font-size="5" fill="#8a8a8a" font-weight="normal">60</text><text transform="translate(877.1,520.1) rotate(-60)" font-size="5" fill="#8a8a8a" font-weight="normal" text-anchor="middle">40</text><text transform="translate(895.6,588.7) rotate(-60)" font-size="5" fill="#8a8a8a" font-weight="normal" text-anchor="middle">40</text><text x="945.9" y="542.6" font-size="5" fill="#8a8a8a" font-weight="normal">40</text><text transform="translate(865.1,541.1) rotate(-60)" font-size="5" fill="#8a8a8a" font-weight="normal" text-anchor="middle">60</text><text transform="translate(919.8,588.7) rotate(-60)" font-size="5" fill="#8a8a8a" font-weight="normal" text-anchor="middle">60</text><text x="958.2" y="563.7" font-size="5" fill="#8a8a8a" font-weight="normal">20</text><text transform="translate(853.2,562.2) rotate(-60)" font-size="5" fill="#8a8a8a" font-weight="normal" text-anchor="middle">80</text><text transform="translate(944.0,588.7) rotate(-60)" font-size="5" fill="#8a8a8a" font-weight="normal" text-anchor="middle">80</text><text x="907.0" y="479.0" font-size="4.8" fill="#8a8a8a" font-weight="normal">100</text><text transform="translate(843.2,584.2) rotate(-60)" font-size="4.8" fill="#8a8a8a" font-weight="normal" text-anchor="middle">100</text><text transform="translate(969.2,586.2) rotate(-60)" font-size="4.8" fill="#8a8a8a" font-weight="normal" text-anchor="middle">100</text>
<line x1="875.9" y1="503.4" x2="853.1" y2="541.4" stroke="#222" stroke-width="1.2"/><polygon points="850.8,545.3 851.5,539.9 853.4,541.0 855.3,542.1" fill="#222"/>
<line x1="960.2" y1="545.0" x2="938.1" y2="507.1" stroke="#222" stroke-width="1.2"/><polygon points="935.8,503.2 940.2,506.4 938.3,507.5 936.4,508.6" fill="#222"/>
<line x1="886.0" y1="595.9" x2="925.8" y2="595.9" stroke="#222" stroke-width="1.2"/><polygon points="930.3,595.9 925.3,598.1 925.3,595.9 925.3,593.7" fill="#222"/>
<text transform="translate(860.5,525.0) rotate(-60)" font-size="5" fill="#8f8f8f" font-weight="normal" text-anchor="middle">0</text>
<text transform="translate(951.5,525.0) rotate(60)" font-size="5" fill="#8f8f8f" font-weight="normal" text-anchor="middle">+</text>
<text x="906.0" y="600.7" font-size="5" fill="#8f8f8f" font-weight="normal" text-anchor="middle">5</text>
<text x="928.3" y="471.8" text-anchor="middle" font-size="11.4" fill="#2b5b37">Depth (40 cm)</text>
<text x="814.1" y="600.2" font-size="11.4" fill="#dc6c4a">Depth (20 cm)</text>
<text x="948.1" y="600.2" font-size="11.4" fill="#2a4587">Depth (60 cm)</text>
<rect x="967.1" y="479.9" width="52.5" height="27.1" fill="#a8c98a" stroke="#2d2d2d" stroke-width="1.3"/><text x="975.1" y="500.7" font-size="17" fill="#111">1512</text>
<polygon points="904.8,664.5 843.4,769.7 965.2,769.7" fill="#fdfdfa"/>
<line x1="892.5" y1="685.5" x2="916.9" y2="685.5" stroke="#eeeaeb" stroke-width="0.8"/>
<line x1="867.8" y1="769.7" x2="916.9" y2="685.5" stroke="#eeeaeb" stroke-width="0.8"/>
<line x1="867.8" y1="769.7" x2="855.7" y2="748.7" stroke="#eeeaeb" stroke-width="0.8"/>
<line x1="880.2" y1="706.6" x2="929.0" y2="706.6" stroke="#eeeaeb" stroke-width="0.8"/>
<line x1="892.1" y1="769.7" x2="929.0" y2="706.6" stroke="#eeeaeb" stroke-width="0.8"/>
<line x1="892.1" y1="769.7" x2="868.0" y2="727.6" stroke="#eeeaeb" stroke-width="0.8"/>
<line x1="868.0" y1="727.6" x2="941.0" y2="727.6" stroke="#eeeaeb" stroke-width="0.8"/>
<line x1="916.5" y1="769.7" x2="941.0" y2="727.6" stroke="#eeeaeb" stroke-width="0.8"/>
<line x1="916.5" y1="769.7" x2="880.2" y2="706.6" stroke="#eeeaeb" stroke-width="0.8"/>
<line x1="855.7" y1="748.7" x2="953.1" y2="748.7" stroke="#eeeaeb" stroke-width="0.8"/>
<line x1="940.8" y1="769.7" x2="953.1" y2="748.7" stroke="#eeeaeb" stroke-width="0.8"/>
<line x1="940.8" y1="769.7" x2="892.5" y2="685.5" stroke="#eeeaeb" stroke-width="0.8"/>
<circle cx="900.9" cy="741.8" r="1.6" fill="#e27474"/>
<circle cx="922.8" cy="717.4" r="1.6" fill="#b98583"/>
<circle cx="911.3" cy="738.8" r="1.6" fill="#e27474"/>
<circle cx="911.0" cy="762.4" r="1.6" fill="#e27474"/>
<circle cx="896.8" cy="758.0" r="1.6" fill="#e27474"/>
<circle cx="923.7" cy="732.3" r="1.6" fill="#e27474"/>
<circle cx="865.5" cy="739.1" r="1.6" fill="#e27474"/>
<circle cx="889.6" cy="723.0" r="1.6" fill="#e27474"/>
<circle cx="907.3" cy="730.6" r="1.6" fill="#e27474"/>
<circle cx="891.2" cy="716.4" r="1.6" fill="#e27474"/>
<circle cx="914.4" cy="706.9" r="1.6" fill="#e27474"/>
<circle cx="902.1" cy="734.3" r="1.6" fill="#b98583"/>
<circle cx="899.8" cy="727.5" r="1.6" fill="#e27474"/>
<circle cx="904.1" cy="750.8" r="1.6" fill="#e27474"/>
<circle cx="909.2" cy="708.7" r="1.6" fill="#e27474"/>
<circle cx="884.0" cy="713.5" r="1.6" fill="#e27474"/>
<circle cx="875.5" cy="732.9" r="1.6" fill="#b98583"/>
<circle cx="895.6" cy="735.4" r="1.6" fill="#e27474"/>
<circle cx="909.2" cy="701.0" r="1.6" fill="#e27474"/>
<circle cx="913.0" cy="724.1" r="1.6" fill="#e27474"/>
<circle cx="883.2" cy="760.4" r="1.6" fill="#b98583"/>
<circle cx="920.7" cy="763.1" r="1.6" fill="#e27474"/>
<circle cx="904.9" cy="746.5" r="1.6" fill="#e27474"/>
<circle cx="889.9" cy="759.7" r="1.6" fill="#e27474"/>
<circle cx="904.8" cy="669.8" r="1.6" fill="#e27474"/>
<circle cx="893.6" cy="710.6" r="1.6" fill="#b98583"/>
<circle cx="905.2" cy="747.8" r="1.6" fill="#e27474"/>
<circle cx="899.5" cy="741.0" r="1.6" fill="#e27474"/>
<circle cx="892.3" cy="760.6" r="1.6" fill="#e27474"/>
<circle cx="896.0" cy="712.0" r="1.6" fill="#e27474"/>
<circle cx="908.5" cy="726.7" r="1.6" fill="#e27474"/>
<circle cx="912.8" cy="719.7" r="1.6" fill="#b98583"/>
<circle cx="912.1" cy="714.1" r="1.6" fill="#e27474"/>
<circle cx="899.0" cy="751.2" r="1.6" fill="#e27474"/>
<circle cx="878.6" cy="725.4" r="1.6" fill="#e27474"/>
<circle cx="904.6" cy="731.0" r="1.6" fill="#e27474"/>
<circle cx="924.0" cy="755.9" r="1.6" fill="#e27474"/>
<circle cx="879.7" cy="711.5" r="1.6" fill="#e27474"/>
<circle cx="914.6" cy="740.8" r="1.6" fill="#b98583"/>
<circle cx="909.6" cy="754.9" r="1.6" fill="#e27474"/>
<circle cx="883.3" cy="706.3" r="1.6" fill="#e27474"/>
<circle cx="921.6" cy="751.1" r="1.6" fill="#e27474"/>
<circle cx="885.3" cy="711.5" r="1.6" fill="#e27474"/>
<circle cx="904.0" cy="740.6" r="1.6" fill="#e27474"/>
<circle cx="896.6" cy="732.2" r="1.6" fill="#e27474"/>
<circle cx="908.4" cy="739.0" r="1.6" fill="#e27474"/>
<circle cx="911.2" cy="730.8" r="1.6" fill="#e27474"/>
<circle cx="894.7" cy="687.6" r="1.6" fill="#e27474"/>
<circle cx="904.5" cy="677.1" r="1.6" fill="#e27474"/>
<circle cx="884.7" cy="742.5" r="1.6" fill="#e27474"/>
<circle cx="898.1" cy="702.9" r="1.6" fill="#e27474"/>
<circle cx="880.4" cy="728.7" r="1.6" fill="#e27474"/>
<circle cx="861.5" cy="758.8" r="1.6" fill="#b98583"/>
<circle cx="908.2" cy="754.1" r="1.6" fill="#e27474"/>
<circle cx="912.0" cy="740.8" r="1.6" fill="#e27474"/>
<circle cx="921.2" cy="706.3" r="1.6" fill="#e27474"/>
<circle cx="915.9" cy="736.3" r="1.6" fill="#e27474"/>
<circle cx="883.9" cy="754.5" r="1.6" fill="#e27474"/>
<circle cx="892.3" cy="740.6" r="1.6" fill="#e27474"/>
<circle cx="906.3" cy="745.7" r="1.6" fill="#e27474"/>
<circle cx="888.7" cy="751.8" r="1.6" fill="#e27474"/>
<circle cx="917.6" cy="740.3" r="1.6" fill="#e27474"/>
<circle cx="883.9" cy="711.5" r="1.6" fill="#e27474"/>
<circle cx="920.0" cy="736.3" r="1.6" fill="#e27474"/>
<circle cx="896.8" cy="767.7" r="1.6" fill="#e27474"/>
<circle cx="878.7" cy="750.1" r="1.6" fill="#e27474"/>
<circle cx="902.4" cy="732.6" r="1.6" fill="#e27474"/>
<circle cx="936.3" cy="754.0" r="1.6" fill="#b98583"/>
<circle cx="891.1" cy="709.1" r="1.6" fill="#e27474"/>
<circle cx="911.0" cy="744.6" r="1.6" fill="#e27474"/>
<circle cx="909.9" cy="741.3" r="1.6" fill="#e27474"/>
<circle cx="925.8" cy="728.9" r="1.6" fill="#e27474"/>
<circle cx="921.4" cy="697.7" r="1.6" fill="#e27474"/>
<circle cx="894.5" cy="736.4" r="1.6" fill="#e27474"/>
<circle cx="885.6" cy="733.2" r="1.6" fill="#e27474"/>
<circle cx="885.7" cy="727.7" r="1.6" fill="#e27474"/>
<circle cx="859.1" cy="750.1" r="1.6" fill="#e27474"/>
<circle cx="931.4" cy="755.5" r="1.6" fill="#e27474"/>
<circle cx="890.0" cy="732.5" r="1.6" fill="#e27474"/>
<circle cx="931.3" cy="739.5" r="1.6" fill="#b98583"/>
<circle cx="900.5" cy="751.0" r="1.6" fill="#e27474"/>
<circle cx="886.9" cy="720.6" r="1.6" fill="#e27474"/>
<circle cx="901.2" cy="723.7" r="1.6" fill="#e27474"/>
<circle cx="927.5" cy="760.8" r="1.6" fill="#e27474"/>
<circle cx="857.8" cy="763.8" r="1.6" fill="#e27474"/>
<circle cx="867.8" cy="752.1" r="1.6" fill="#e27474"/>
<circle cx="913.6" cy="765.9" r="1.6" fill="#e27474"/>
<circle cx="903.5" cy="729.9" r="1.6" fill="#e27474"/>
<circle cx="906.2" cy="709.3" r="1.6" fill="#e27474"/>
<circle cx="941.8" cy="765.2" r="1.6" fill="#e27474"/>
<circle cx="882.8" cy="724.9" r="1.6" fill="#e27474"/>
<circle cx="884.5" cy="739.5" r="1.6" fill="#e27474"/>
<circle cx="915.0" cy="740.2" r="1.6" fill="#e27474"/>
<circle cx="876.9" cy="735.6" r="1.6" fill="#e27474"/>
<circle cx="895.3" cy="714.1" r="1.6" fill="#e27474"/>
<circle cx="907.7" cy="768.1" r="1.6" fill="#e27474"/>
<circle cx="929.9" cy="746.0" r="1.6" fill="#e27474"/>
<circle cx="893.6" cy="752.5" r="1.6" fill="#e27474"/>
<circle cx="909.1" cy="739.1" r="1.6" fill="#e27474"/>
<circle cx="960.0" cy="764.8" r="1.6" fill="#e27474"/>
<circle cx="892.7" cy="749.3" r="1.6" fill="#e27474"/>
<circle cx="912.0" cy="738.8" r="1.6" fill="#e27474"/>
<circle cx="879.5" cy="724.7" r="1.6" fill="#e27474"/>
<circle cx="932.3" cy="734.2" r="1.6" fill="#e27474"/>
<circle cx="906.3" cy="731.3" r="1.6" fill="#e27474"/>
<circle cx="902.5" cy="721.6" r="1.6" fill="#e27474"/>
<circle cx="914.8" cy="735.1" r="1.6" fill="#e27474"/>
<circle cx="921.5" cy="740.4" r="1.6" fill="#e27474"/>
<circle cx="902.6" cy="724.1" r="1.6" fill="#e27474"/>
<circle cx="928.8" cy="746.5" r="1.6" fill="#b98583"/>
<polygon points="904.8,664.5 843.4,769.7 965.2,769.7" fill="none" stroke="#2a2a2a" stroke-width="1.3" stroke-linejoin="miter"/>
<circle cx="900.0" cy="672.8" r="1.3" fill="#3fae5c"/>
<circle cx="888.9" cy="691.7" r="1.3" fill="#3fae5c"/>
<circle cx="892.8" cy="685.0" r="1.3" fill="#3fae5c"/>
<circle cx="868.9" cy="726.0" r="1.3" fill="#3fae5c"/>
<circle cx="844.6" cy="767.6" r="1.3" fill="#3fae5c"/>
<circle cx="875.9" cy="714.0" r="1.3" fill="#3fae5c"/>
<circle cx="867.5" cy="728.5" r="1.3" fill="#3fae5c"/>
<circle cx="879.0" cy="769.7" r="1.3" fill="#3fae5c"/>
<circle cx="844.4" cy="769.7" r="1.3" fill="#3fae5c"/>
<circle cx="857.9" cy="769.7" r="1.3" fill="#3fae5c"/>
<circle cx="913.7" cy="769.7" r="1.3" fill="#3fae5c"/>
<circle cx="867.9" cy="769.7" r="1.3" fill="#3fae5c"/>
<circle cx="959.0" cy="759.0" r="1.3" fill="#3fae5c"/>
<circle cx="934.6" cy="716.4" r="1.3" fill="#3fae5c"/>
<circle cx="923.5" cy="697.0" r="1.3" fill="#3fae5c"/>
<circle cx="911.6" cy="676.4" r="1.3" fill="#3fae5c"/>
<circle cx="906.5" cy="667.4" r="1.3" fill="#3fae5c"/>
<circle cx="960.7" cy="761.9" r="1.3" fill="#3fae5c"/>
<circle cx="933.5" cy="714.5" r="1.3" fill="#3fae5c"/>
<circle cx="946.6" cy="737.3" r="1.3" fill="#3fae5c"/>
<text x="920.1" y="687.0" font-size="5" fill="#8a8a8a" font-weight="normal">80</text><text transform="translate(887.5,685.5) rotate(-60)" font-size="5" fill="#8a8a8a" font-weight="normal" text-anchor="middle">20</text><text transform="translate(868.8,775.2) rotate(-60)" font-size="5" fill="#8a8a8a" font-weight="normal" text-anchor="middle">20</text><text x="932.2" y="708.1" font-size="5" fill="#8a8a8a" font-weight="normal">60</text><text transform="translate(875.2,706.6) rotate(-60)" font-size="5" fill="#8a8a8a" font-weight="normal" text-anchor="middle">40</text><text transform="translate(893.1,775.2) rotate(-60)" font-size="5" fill="#8a8a8a" font-weight="normal" text-anchor="middle">40</text><text x="944.2" y="729.1" font-size="5" fill="#8a8a8a" font-weight="normal">40</text><text transform="translate(863.0,727.6) rotate(-60)" font-size="5" fill="#8a8a8a" font-weight="normal" text-anchor="middle">60</text><text transform="translate(917.5,775.2) rotate(-60)" font-size="5" fill="#8a8a8a" font-weight="normal" text-anchor="middle">60</text><text x="956.3" y="750.2" font-size="5" fill="#8a8a8a" font-weight="normal">20</text><text transform="translate(850.7,748.7) rotate(-60)" font-size="5" fill="#8a8a8a" font-weight="normal" text-anchor="middle">80</text><text transform="translate(941.8,775.2) rotate(-60)" font-size="5" fill="#8a8a8a" font-weight="normal" text-anchor="middle">80</text><text x="905.8" y="665.5" font-size="4.8" fill="#8a8a8a" font-weight="normal">100</text><text transform="translate(840.4,770.7) rotate(-60)" font-size="4.8" fill="#8a8a8a" font-weight="normal" text-anchor="middle">100</text><text transform="translate(967.2,772.7) rotate(-60)" font-size="4.8" fill="#8a8a8a" font-weight="normal" text-anchor="middle">100</text>
<line x1="874.7" y1="689.9" x2="851.9" y2="727.9" stroke="#222" stroke-width="1.2"/><polygon points="849.6,731.8 850.3,726.4 852.2,727.5 854.1,728.6" fill="#222"/>
<line x1="959.0" y1="731.5" x2="936.9" y2="693.6" stroke="#222" stroke-width="1.2"/><polygon points="934.6,689.7 939.0,692.9 937.1,694.0 935.2,695.1" fill="#222"/>
<line x1="884.8" y1="781.8" x2="924.6" y2="781.8" stroke="#222" stroke-width="1.2"/><polygon points="929.1,781.8 924.1,784.0 924.1,781.8 924.1,779.6" fill="#222"/>
<text transform="translate(859.3,711.5) rotate(-60)" font-size="5" fill="#8f8f8f" font-weight="normal" text-anchor="middle">0</text>
<text transform="translate(950.3,711.5) rotate(60)" font-size="5" fill="#8f8f8f" font-weight="normal" text-anchor="middle">+</text>
<text x="904.8" y="786.6" font-size="5" fill="#8f8f8f" font-weight="normal" text-anchor="middle">5</text>
<text x="925.6" y="657.9" text-anchor="middle" font-size="11.4" fill="#2b5b37">Depth (40 cm)</text>
<text x="812.4" y="786.1" font-size="11.4" fill="#dc6c4a">Depth (20 cm)</text>
<text x="945.7" y="786.1" font-size="11.4" fill="#2a4587">Depth (60 cm)</text>
<rect x="968.1" y="668.1" width="51.8" height="27.2" fill="#a8c98a" stroke="#2d2d2d" stroke-width="1.3"/><text x="976.1" y="688.9" font-size="17" fill="#111">1073</text>
<polygon points="904.6,859.3 842.6,965.2 964.2,965.2" fill="#fdfdfa"/>
<line x1="892.2" y1="880.5" x2="916.5" y2="880.5" stroke="#eeeaeb" stroke-width="0.8"/>
<line x1="866.9" y1="965.2" x2="916.5" y2="880.5" stroke="#eeeaeb" stroke-width="0.8"/>
<line x1="866.9" y1="965.2" x2="855.0" y2="944.0" stroke="#eeeaeb" stroke-width="0.8"/>
<line x1="879.8" y1="901.7" x2="928.4" y2="901.7" stroke="#eeeaeb" stroke-width="0.8"/>
<line x1="891.2" y1="965.2" x2="928.4" y2="901.7" stroke="#eeeaeb" stroke-width="0.8"/>
<line x1="891.2" y1="965.2" x2="867.4" y2="922.8" stroke="#eeeaeb" stroke-width="0.8"/>
<line x1="867.4" y1="922.8" x2="940.4" y2="922.8" stroke="#eeeaeb" stroke-width="0.8"/>
<line x1="915.6" y1="965.2" x2="940.4" y2="922.8" stroke="#eeeaeb" stroke-width="0.8"/>
<line x1="915.6" y1="965.2" x2="879.8" y2="901.7" stroke="#eeeaeb" stroke-width="0.8"/>
<line x1="855.0" y1="944.0" x2="952.3" y2="944.0" stroke="#eeeaeb" stroke-width="0.8"/>
<line x1="939.9" y1="965.2" x2="952.3" y2="944.0" stroke="#eeeaeb" stroke-width="0.8"/>
<line x1="939.9" y1="965.2" x2="892.2" y2="880.5" stroke="#eeeaeb" stroke-width="0.8"/>
<circle cx="904.7" cy="951.6" r="1.6" fill="#e27474"/>
<circle cx="924.8" cy="918.6" r="1.6" fill="#e27474"/>
<circle cx="894.2" cy="936.7" r="1.6" fill="#e27474"/>
<circle cx="899.1" cy="941.1" r="1.6" fill="#e27474"/>
<circle cx="938.3" cy="940.6" r="1.6" fill="#e27474"/>
<circle cx="903.0" cy="928.7" r="1.6" fill="#e27474"/>
<circle cx="888.9" cy="935.9" r="1.6" fill="#e27474"/>
<circle cx="920.5" cy="921.2" r="1.6" fill="#e27474"/>
<circle cx="935.1" cy="921.5" r="1.6" fill="#e27474"/>
<circle cx="932.6" cy="942.4" r="1.6" fill="#e27474"/>
<circle cx="884.9" cy="905.1" r="1.6" fill="#e27474"/>
<circle cx="906.2" cy="883.1" r="1.6" fill="#e27474"/>
<circle cx="901.3" cy="912.1" r="1.6" fill="#e27474"/>
<circle cx="872.8" cy="936.1" r="1.6" fill="#e27474"/>
<circle cx="917.0" cy="916.9" r="1.6" fill="#e27474"/>
<circle cx="925.7" cy="926.7" r="1.6" fill="#e27474"/>
<circle cx="887.4" cy="901.8" r="1.6" fill="#e27474"/>
<circle cx="905.0" cy="956.7" r="1.6" fill="#e27474"/>
<circle cx="916.7" cy="911.9" r="1.6" fill="#e27474"/>
<circle cx="907.4" cy="911.8" r="1.6" fill="#e27474"/>
<circle cx="878.9" cy="913.4" r="1.6" fill="#e27474"/>
<circle cx="928.3" cy="949.5" r="1.6" fill="#e27474"/>
<circle cx="927.1" cy="906.0" r="1.6" fill="#e27474"/>
<circle cx="945.4" cy="955.4" r="1.6" fill="#e27474"/>
<circle cx="913.4" cy="950.1" r="1.6" fill="#e27474"/>
<circle cx="909.0" cy="957.6" r="1.6" fill="#e27474"/>
<circle cx="903.5" cy="953.4" r="1.6" fill="#e27474"/>
<circle cx="874.8" cy="940.1" r="1.6" fill="#e27474"/>
<circle cx="941.1" cy="959.0" r="1.6" fill="#e27474"/>
<circle cx="899.1" cy="911.5" r="1.6" fill="#e27474"/>
<circle cx="906.1" cy="926.0" r="1.6" fill="#e27474"/>
<circle cx="907.1" cy="894.2" r="1.6" fill="#e27474"/>
<circle cx="883.1" cy="924.3" r="1.6" fill="#b98583"/>
<circle cx="940.1" cy="943.2" r="1.6" fill="#e27474"/>
<circle cx="913.0" cy="959.2" r="1.6" fill="#e27474"/>
<circle cx="903.6" cy="953.8" r="1.6" fill="#e27474"/>
<circle cx="873.5" cy="924.0" r="1.6" fill="#e27474"/>
<circle cx="913.1" cy="934.2" r="1.6" fill="#e27474"/>
<circle cx="929.9" cy="959.3" r="1.6" fill="#e27474"/>
<circle cx="922.3" cy="940.4" r="1.6" fill="#e27474"/>
<circle cx="913.1" cy="944.3" r="1.6" fill="#e27474"/>
<circle cx="885.0" cy="936.2" r="1.6" fill="#e27474"/>
<circle cx="915.8" cy="957.6" r="1.6" fill="#e27474"/>
<circle cx="898.7" cy="956.7" r="1.6" fill="#e27474"/>
<circle cx="912.6" cy="931.5" r="1.6" fill="#e27474"/>
<circle cx="893.5" cy="914.3" r="1.6" fill="#e27474"/>
<circle cx="921.5" cy="941.5" r="1.6" fill="#e27474"/>
<circle cx="862.4" cy="955.1" r="1.6" fill="#e27474"/>
<circle cx="943.1" cy="938.2" r="1.6" fill="#e27474"/>
<circle cx="896.2" cy="918.2" r="1.6" fill="#e27474"/>
<circle cx="928.1" cy="962.7" r="1.6" fill="#e27474"/>
<circle cx="900.1" cy="932.9" r="1.6" fill="#e27474"/>
<circle cx="921.2" cy="919.2" r="1.6" fill="#e27474"/>
<circle cx="890.9" cy="925.3" r="1.6" fill="#e27474"/>
<circle cx="901.9" cy="925.7" r="1.6" fill="#e27474"/>
<circle cx="893.5" cy="940.8" r="1.6" fill="#e27474"/>
<circle cx="938.0" cy="952.5" r="1.6" fill="#e27474"/>
<circle cx="932.1" cy="946.6" r="1.6" fill="#e27474"/>
<circle cx="907.3" cy="941.7" r="1.6" fill="#e27474"/>
<circle cx="861.4" cy="958.0" r="1.6" fill="#e27474"/>
<circle cx="892.5" cy="898.7" r="1.6" fill="#e27474"/>
<circle cx="954.9" cy="959.9" r="1.6" fill="#e27474"/>
<circle cx="894.4" cy="919.6" r="1.6" fill="#e27474"/>
<circle cx="909.3" cy="879.0" r="1.6" fill="#b98583"/>
<circle cx="904.6" cy="945.2" r="1.6" fill="#e27474"/>
<circle cx="898.7" cy="902.3" r="1.6" fill="#e27474"/>
<circle cx="908.7" cy="922.2" r="1.6" fill="#e27474"/>
<circle cx="903.2" cy="949.2" r="1.6" fill="#e27474"/>
<circle cx="870.1" cy="953.9" r="1.6" fill="#e27474"/>
<circle cx="930.1" cy="928.1" r="1.6" fill="#e27474"/>
<circle cx="933.9" cy="948.2" r="1.6" fill="#e27474"/>
<circle cx="872.4" cy="948.5" r="1.6" fill="#e27474"/>
<circle cx="878.6" cy="926.8" r="1.6" fill="#e27474"/>
<circle cx="883.5" cy="926.9" r="1.6" fill="#e27474"/>
<circle cx="899.0" cy="950.6" r="1.6" fill="#b98583"/>
<circle cx="926.2" cy="956.6" r="1.6" fill="#e27474"/>
<circle cx="899.3" cy="919.3" r="1.6" fill="#e27474"/>
<circle cx="861.9" cy="946.2" r="1.6" fill="#e27474"/>
<circle cx="924.4" cy="946.4" r="1.6" fill="#e27474"/>
<circle cx="948.0" cy="940.9" r="1.6" fill="#e27474"/>
<circle cx="891.6" cy="911.1" r="1.6" fill="#e27474"/>
<circle cx="909.1" cy="911.7" r="1.6" fill="#b98583"/>
<circle cx="896.0" cy="916.6" r="1.6" fill="#b98583"/>
<circle cx="918.0" cy="958.5" r="1.6" fill="#e27474"/>
<circle cx="927.0" cy="937.1" r="1.6" fill="#e27474"/>
<circle cx="895.7" cy="956.9" r="1.6" fill="#e27474"/>
<circle cx="871.2" cy="952.5" r="1.6" fill="#e27474"/>
<circle cx="930.7" cy="953.0" r="1.6" fill="#e27474"/>
<circle cx="922.4" cy="958.6" r="1.6" fill="#e27474"/>
<circle cx="932.4" cy="943.8" r="1.6" fill="#e27474"/>
<circle cx="875.1" cy="932.5" r="1.6" fill="#e27474"/>
<circle cx="910.3" cy="894.3" r="1.6" fill="#e27474"/>
<circle cx="872.1" cy="918.9" r="1.6" fill="#b98583"/>
<circle cx="921.7" cy="927.9" r="1.6" fill="#e27474"/>
<circle cx="887.7" cy="913.3" r="1.6" fill="#e27474"/>
<circle cx="888.4" cy="942.8" r="1.6" fill="#e27474"/>
<circle cx="899.7" cy="908.3" r="1.6" fill="#e27474"/>
<circle cx="869.5" cy="947.5" r="1.6" fill="#e27474"/>
<circle cx="892.7" cy="953.0" r="1.6" fill="#e27474"/>
<circle cx="916.0" cy="931.9" r="1.6" fill="#e27474"/>
<circle cx="906.1" cy="954.5" r="1.6" fill="#e27474"/>
<circle cx="914.0" cy="931.6" r="1.6" fill="#b98583"/>
<circle cx="899.2" cy="916.9" r="1.6" fill="#e27474"/>
<circle cx="898.2" cy="952.8" r="1.6" fill="#e27474"/>
<circle cx="892.1" cy="929.7" r="1.6" fill="#e27474"/>
<circle cx="935.2" cy="952.6" r="1.6" fill="#e27474"/>
<circle cx="911.4" cy="922.7" r="1.6" fill="#b98583"/>
<circle cx="907.3" cy="947.1" r="1.6" fill="#e27474"/>
<circle cx="910.2" cy="902.8" r="1.6" fill="#e27474"/>
<circle cx="881.4" cy="934.9" r="1.6" fill="#e27474"/>
<polygon points="904.6,859.3 842.6,965.2 964.2,965.2" fill="none" stroke="#2a2a2a" stroke-width="1.3" stroke-linejoin="miter"/>
<circle cx="849.3" cy="953.7" r="1.3" fill="#3fae5c"/>
<circle cx="878.7" cy="903.6" r="1.3" fill="#3fae5c"/>
<circle cx="843.2" cy="964.2" r="1.3" fill="#3fae5c"/>
<circle cx="897.1" cy="872.1" r="1.3" fill="#3fae5c"/>
<circle cx="949.3" cy="965.2" r="1.3" fill="#3fae5c"/>
<circle cx="851.5" cy="965.2" r="1.3" fill="#3fae5c"/>
<circle cx="888.7" cy="965.2" r="1.3" fill="#3fae5c"/>
<circle cx="852.3" cy="965.2" r="1.3" fill="#3fae5c"/>
<circle cx="843.5" cy="965.2" r="1.3" fill="#3fae5c"/>
<circle cx="948.7" cy="937.7" r="1.3" fill="#3fae5c"/>
<circle cx="935.4" cy="914.0" r="1.3" fill="#3fae5c"/>
<circle cx="912.7" cy="873.6" r="1.3" fill="#3fae5c"/>
<circle cx="939.1" cy="920.6" r="1.3" fill="#3fae5c"/>
<circle cx="957.3" cy="952.9" r="1.3" fill="#3fae5c"/>
<circle cx="939.9" cy="922.1" r="1.3" fill="#3fae5c"/>
<circle cx="935.8" cy="914.7" r="1.3" fill="#3fae5c"/>
<circle cx="951.0" cy="941.8" r="1.3" fill="#3fae5c"/>
<text x="919.7" y="882.0" font-size="5" fill="#8a8a8a" font-weight="normal">80</text><text transform="translate(887.2,880.5) rotate(-60)" font-size="5" fill="#8a8a8a" font-weight="normal" text-anchor="middle">20</text><text transform="translate(867.9,970.7) rotate(-60)" font-size="5" fill="#8a8a8a" font-weight="normal" text-anchor="middle">20</text><text x="931.6" y="903.2" font-size="5" fill="#8a8a8a" font-weight="normal">60</text><text transform="translate(874.8,901.7) rotate(-60)" font-size="5" fill="#8a8a8a" font-weight="normal" text-anchor="middle">40</text><text transform="translate(892.2,970.7) rotate(-60)" font-size="5" fill="#8a8a8a" font-weight="normal" text-anchor="middle">40</text><text x="943.6" y="924.3" font-size="5" fill="#8a8a8a" font-weight="normal">40</text><text transform="translate(862.4,922.8) rotate(-60)" font-size="5" fill="#8a8a8a" font-weight="normal" text-anchor="middle">60</text><text transform="translate(916.6,970.7) rotate(-60)" font-size="5" fill="#8a8a8a" font-weight="normal" text-anchor="middle">60</text><text x="955.5" y="945.5" font-size="5" fill="#8a8a8a" font-weight="normal">20</text><text transform="translate(850.0,944.0) rotate(-60)" font-size="5" fill="#8a8a8a" font-weight="normal" text-anchor="middle">80</text><text transform="translate(940.9,970.7) rotate(-60)" font-size="5" fill="#8a8a8a" font-weight="normal" text-anchor="middle">80</text><text x="905.6" y="860.3" font-size="4.8" fill="#8a8a8a" font-weight="normal">100</text><text transform="translate(839.6,966.2) rotate(-60)" font-size="4.8" fill="#8a8a8a" font-weight="normal" text-anchor="middle">100</text><text transform="translate(966.2,968.2) rotate(-60)" font-size="4.8" fill="#8a8a8a" font-weight="normal" text-anchor="middle">100</text>
<line x1="874.5" y1="884.7" x2="851.7" y2="922.7" stroke="#222" stroke-width="1.2"/><polygon points="849.4,926.6 850.1,921.2 852.0,922.3 853.9,923.4" fill="#222"/>
<line x1="958.8" y1="926.3" x2="936.7" y2="888.4" stroke="#222" stroke-width="1.2"/><polygon points="934.4,884.5 938.8,887.7 936.9,888.8 935.0,889.9" fill="#222"/>
<line x1="884.6" y1="976.3" x2="924.4" y2="976.3" stroke="#222" stroke-width="1.2"/><polygon points="928.9,976.3 923.9,978.5 923.9,976.3 923.9,974.1" fill="#222"/>
<text transform="translate(859.1,906.3) rotate(-60)" font-size="5" fill="#8f8f8f" font-weight="normal" text-anchor="middle">0</text>
<text transform="translate(950.1,906.3) rotate(60)" font-size="5" fill="#8f8f8f" font-weight="normal" text-anchor="middle">+</text>
<text x="904.6" y="981.1" font-size="5" fill="#8f8f8f" font-weight="normal" text-anchor="middle">5</text>
<text x="927.0" y="853.4" text-anchor="middle" font-size="11.4" fill="#2b5b37">Depth (40 cm)</text>
<text x="813.3" y="980.6" font-size="11.4" fill="#dc6c4a">Depth (20 cm)</text>
<text x="946.2" y="980.6" font-size="11.4" fill="#2a4587">Depth (60 cm)</text>
<rect x="967.6" y="862.7" width="51.4" height="26.5" fill="#a8c98a" stroke="#2d2d2d" stroke-width="1.3"/><text x="975.6" y="883.2" font-size="17" fill="#111">980</text>
<line x1="257.4" y1="59.8" x2="285.5" y2="59.8" stroke="#151515" stroke-width="1.6"/><polygon points="292.3,59.8 282.8,65.1 285.0,59.8 282.8,54.5" fill="#151515"/>
<line x1="257.4" y1="251.6" x2="285.5" y2="251.6" stroke="#151515" stroke-width="1.6"/><polygon points="292.3,251.6 282.8,256.9 285.0,251.6 282.8,246.3" fill="#151515"/>
<line x1="257.4" y1="435.2" x2="285.5" y2="435.2" stroke="#151515" stroke-width="1.6"/><polygon points="292.3,435.2 282.8,440.5 285.0,435.2 282.8,429.9" fill="#151515"/>
<line x1="257.4" y1="623.3" x2="285.5" y2="623.3" stroke="#151515" stroke-width="1.6"/><polygon points="292.3,623.3 282.8,628.6 285.0,623.3 282.8,618.0" fill="#151515"/>
<line x1="257.4" y1="813.6" x2="285.5" y2="813.6" stroke="#151515" stroke-width="1.6"/><polygon points="292.3,813.6 282.8,818.9 285.0,813.6 282.8,808.3" fill="#151515"/>
<line x1="840.2" y1="135.8" x2="812.1" y2="135.8" stroke="#151515" stroke-width="1.6"/><polygon points="805.0,135.8 815.0,130.2 812.6,135.8 815.0,141.4" fill="#151515"/>
<line x1="841.4" y1="332.6" x2="813.4" y2="332.6" stroke="#151515" stroke-width="1.6"/><polygon points="806.3,332.6 816.3,327.0 813.9,332.6 816.3,338.2" fill="#151515"/>
<line x1="839.6" y1="526.3" x2="811.4" y2="526.3" stroke="#151515" stroke-width="1.6"/><polygon points="804.3,526.3 814.3,520.7 811.9,526.3 814.3,531.9" fill="#151515"/>
<line x1="840.9" y1="706.4" x2="813.3" y2="706.4" stroke="#151515" stroke-width="1.6"/><polygon points="806.2,706.4 816.2,700.8 813.8,706.4 816.2,712.0" fill="#151515"/>
<line x1="843.3" y1="917.6" x2="814.7" y2="917.6" stroke="#151515" stroke-width="1.6"/><polygon points="807.6,917.6 817.6,912.0 815.2,917.6 817.6,923.2" fill="#151515"/>
<rect x="128.3" y="903.9" width="106.3" height="35.7" fill="#e8763b"/>
<text x="183.1" y="930.3" text-anchor="middle" font-size="23.2" fill="#1a0f0a">A</text>
<rect x="866.1" y="10.4" width="106.8" height="35.8" fill="#e8763b"/>
<text x="920.8" y="36.5" text-anchor="middle" font-size="23.2" fill="#1a0f0a">D</text>
</g>
</svg>
</body></html>
